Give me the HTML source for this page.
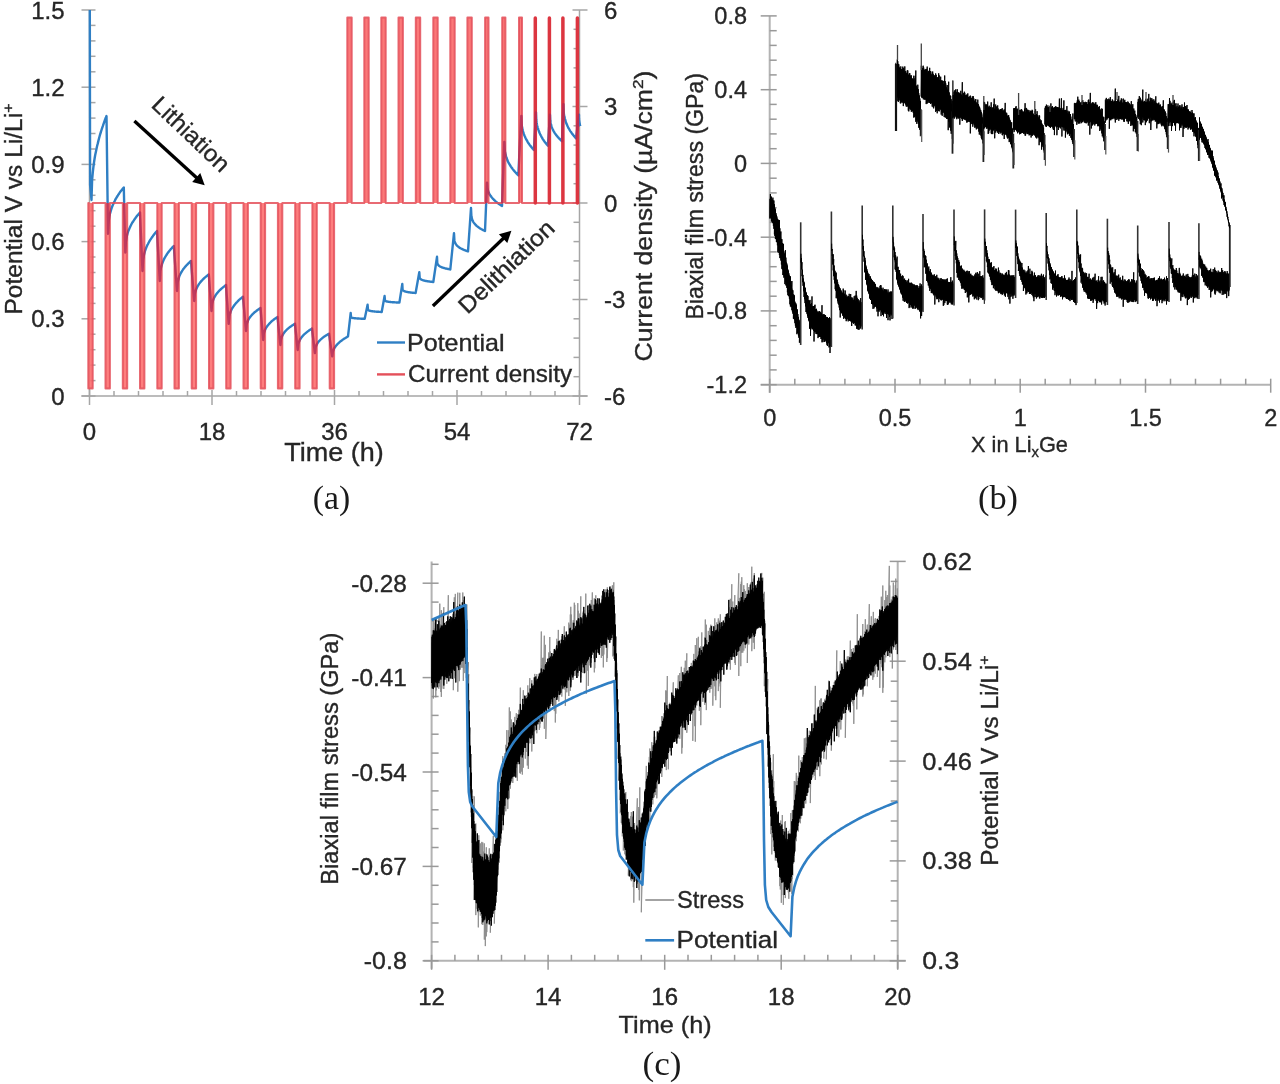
<!DOCTYPE html>
<html><head><meta charset="utf-8"><title>Figure</title><style>
html,body{margin:0;padding:0;background:#fff;width:1280px;height:1084px;overflow:hidden}
svg{display:block;filter:blur(0.45px)}
text{font-family:"Liberation Sans",sans-serif;fill:#262626;stroke:#262626;stroke-width:0.35px}
text.serif{font-family:"Liberation Serif",serif;fill:#1a1a1a;stroke:none}
</style></head><body>
<svg width="1280" height="1084" viewBox="0 0 1280 1084">
<line x1="89.5" y1="10" x2="89.5" y2="396" stroke="#a6a6a6" stroke-width="1.5"/>
<line x1="579.5" y1="10" x2="579.5" y2="396" stroke="#a6a6a6" stroke-width="1.5"/>
<line x1="81.5" y1="396" x2="587.5" y2="396" stroke="#a6a6a6" stroke-width="1.5"/>
<line x1="81.5" y1="396" x2="95.5" y2="396" stroke="#a6a6a6" stroke-width="1.5"/>
<line x1="89.5" y1="380.6" x2="95.5" y2="380.6" stroke="#a6a6a6" stroke-width="1.5"/>
<line x1="89.5" y1="365.1" x2="95.5" y2="365.1" stroke="#a6a6a6" stroke-width="1.5"/>
<line x1="89.5" y1="349.7" x2="95.5" y2="349.7" stroke="#a6a6a6" stroke-width="1.5"/>
<line x1="89.5" y1="334.2" x2="95.5" y2="334.2" stroke="#a6a6a6" stroke-width="1.5"/>
<text x="64.5" y="404.5" font-size="24" text-anchor="end">0</text>
<line x1="81.5" y1="318.8" x2="95.5" y2="318.8" stroke="#a6a6a6" stroke-width="1.5"/>
<line x1="89.5" y1="303.4" x2="95.5" y2="303.4" stroke="#a6a6a6" stroke-width="1.5"/>
<line x1="89.5" y1="287.9" x2="95.5" y2="287.9" stroke="#a6a6a6" stroke-width="1.5"/>
<line x1="89.5" y1="272.5" x2="95.5" y2="272.5" stroke="#a6a6a6" stroke-width="1.5"/>
<line x1="89.5" y1="257" x2="95.5" y2="257" stroke="#a6a6a6" stroke-width="1.5"/>
<text x="64.5" y="327.3" font-size="24" text-anchor="end">0.3</text>
<line x1="81.5" y1="241.6" x2="95.5" y2="241.6" stroke="#a6a6a6" stroke-width="1.5"/>
<line x1="89.5" y1="226.2" x2="95.5" y2="226.2" stroke="#a6a6a6" stroke-width="1.5"/>
<line x1="89.5" y1="210.7" x2="95.5" y2="210.7" stroke="#a6a6a6" stroke-width="1.5"/>
<line x1="89.5" y1="195.3" x2="95.5" y2="195.3" stroke="#a6a6a6" stroke-width="1.5"/>
<line x1="89.5" y1="179.8" x2="95.5" y2="179.8" stroke="#a6a6a6" stroke-width="1.5"/>
<text x="64.5" y="250.1" font-size="24" text-anchor="end">0.6</text>
<line x1="81.5" y1="164.4" x2="95.5" y2="164.4" stroke="#a6a6a6" stroke-width="1.5"/>
<line x1="89.5" y1="149" x2="95.5" y2="149" stroke="#a6a6a6" stroke-width="1.5"/>
<line x1="89.5" y1="133.5" x2="95.5" y2="133.5" stroke="#a6a6a6" stroke-width="1.5"/>
<line x1="89.5" y1="118.1" x2="95.5" y2="118.1" stroke="#a6a6a6" stroke-width="1.5"/>
<line x1="89.5" y1="102.6" x2="95.5" y2="102.6" stroke="#a6a6a6" stroke-width="1.5"/>
<text x="64.5" y="172.9" font-size="24" text-anchor="end">0.9</text>
<line x1="81.5" y1="87.2" x2="95.5" y2="87.2" stroke="#a6a6a6" stroke-width="1.5"/>
<line x1="89.5" y1="71.8" x2="95.5" y2="71.8" stroke="#a6a6a6" stroke-width="1.5"/>
<line x1="89.5" y1="56.3" x2="95.5" y2="56.3" stroke="#a6a6a6" stroke-width="1.5"/>
<line x1="89.5" y1="40.9" x2="95.5" y2="40.9" stroke="#a6a6a6" stroke-width="1.5"/>
<line x1="89.5" y1="25.4" x2="95.5" y2="25.4" stroke="#a6a6a6" stroke-width="1.5"/>
<text x="64.5" y="95.7" font-size="24" text-anchor="end">1.2</text>
<line x1="81.5" y1="10" x2="95.5" y2="10" stroke="#a6a6a6" stroke-width="1.5"/>
<text x="64.5" y="18.5" font-size="24" text-anchor="end">1.5</text>
<line x1="572.5" y1="10" x2="587.5" y2="10" stroke="#a6a6a6" stroke-width="1.5"/>
<line x1="573.5" y1="29.3" x2="579.5" y2="29.3" stroke="#a6a6a6" stroke-width="1.5"/>
<line x1="573.5" y1="48.6" x2="579.5" y2="48.6" stroke="#a6a6a6" stroke-width="1.5"/>
<line x1="573.5" y1="67.9" x2="579.5" y2="67.9" stroke="#a6a6a6" stroke-width="1.5"/>
<line x1="573.5" y1="87.2" x2="579.5" y2="87.2" stroke="#a6a6a6" stroke-width="1.5"/>
<text x="604" y="18.5" font-size="24">6</text>
<line x1="572.5" y1="106.5" x2="587.5" y2="106.5" stroke="#a6a6a6" stroke-width="1.5"/>
<line x1="573.5" y1="125.8" x2="579.5" y2="125.8" stroke="#a6a6a6" stroke-width="1.5"/>
<line x1="573.5" y1="145.1" x2="579.5" y2="145.1" stroke="#a6a6a6" stroke-width="1.5"/>
<line x1="573.5" y1="164.4" x2="579.5" y2="164.4" stroke="#a6a6a6" stroke-width="1.5"/>
<line x1="573.5" y1="183.7" x2="579.5" y2="183.7" stroke="#a6a6a6" stroke-width="1.5"/>
<text x="604" y="115" font-size="24">3</text>
<line x1="572.5" y1="203" x2="587.5" y2="203" stroke="#a6a6a6" stroke-width="1.5"/>
<line x1="573.5" y1="222.3" x2="579.5" y2="222.3" stroke="#a6a6a6" stroke-width="1.5"/>
<line x1="573.5" y1="241.6" x2="579.5" y2="241.6" stroke="#a6a6a6" stroke-width="1.5"/>
<line x1="573.5" y1="260.9" x2="579.5" y2="260.9" stroke="#a6a6a6" stroke-width="1.5"/>
<line x1="573.5" y1="280.2" x2="579.5" y2="280.2" stroke="#a6a6a6" stroke-width="1.5"/>
<text x="604" y="211.5" font-size="24">0</text>
<line x1="572.5" y1="299.5" x2="587.5" y2="299.5" stroke="#a6a6a6" stroke-width="1.5"/>
<line x1="573.5" y1="318.8" x2="579.5" y2="318.8" stroke="#a6a6a6" stroke-width="1.5"/>
<line x1="573.5" y1="338.1" x2="579.5" y2="338.1" stroke="#a6a6a6" stroke-width="1.5"/>
<line x1="573.5" y1="357.4" x2="579.5" y2="357.4" stroke="#a6a6a6" stroke-width="1.5"/>
<line x1="573.5" y1="376.7" x2="579.5" y2="376.7" stroke="#a6a6a6" stroke-width="1.5"/>
<text x="604" y="308" font-size="24">-3</text>
<line x1="572.5" y1="396" x2="587.5" y2="396" stroke="#a6a6a6" stroke-width="1.5"/>
<text x="604" y="404.5" font-size="24">-6</text>
<line x1="89.5" y1="390" x2="89.5" y2="405" stroke="#a6a6a6" stroke-width="1.5"/>
<line x1="114" y1="391" x2="114" y2="396" stroke="#a6a6a6" stroke-width="1.5"/>
<line x1="138.5" y1="391" x2="138.5" y2="396" stroke="#a6a6a6" stroke-width="1.5"/>
<line x1="163" y1="391" x2="163" y2="396" stroke="#a6a6a6" stroke-width="1.5"/>
<line x1="187.5" y1="391" x2="187.5" y2="396" stroke="#a6a6a6" stroke-width="1.5"/>
<text x="89.5" y="439.5" font-size="24" text-anchor="middle">0</text>
<line x1="212" y1="390" x2="212" y2="405" stroke="#a6a6a6" stroke-width="1.5"/>
<line x1="236.5" y1="391" x2="236.5" y2="396" stroke="#a6a6a6" stroke-width="1.5"/>
<line x1="261" y1="391" x2="261" y2="396" stroke="#a6a6a6" stroke-width="1.5"/>
<line x1="285.5" y1="391" x2="285.5" y2="396" stroke="#a6a6a6" stroke-width="1.5"/>
<line x1="310" y1="391" x2="310" y2="396" stroke="#a6a6a6" stroke-width="1.5"/>
<text x="212" y="439.5" font-size="24" text-anchor="middle">18</text>
<line x1="334.5" y1="390" x2="334.5" y2="405" stroke="#a6a6a6" stroke-width="1.5"/>
<line x1="359" y1="391" x2="359" y2="396" stroke="#a6a6a6" stroke-width="1.5"/>
<line x1="383.5" y1="391" x2="383.5" y2="396" stroke="#a6a6a6" stroke-width="1.5"/>
<line x1="408" y1="391" x2="408" y2="396" stroke="#a6a6a6" stroke-width="1.5"/>
<line x1="432.5" y1="391" x2="432.5" y2="396" stroke="#a6a6a6" stroke-width="1.5"/>
<text x="334.5" y="439.5" font-size="24" text-anchor="middle">36</text>
<line x1="457" y1="390" x2="457" y2="405" stroke="#a6a6a6" stroke-width="1.5"/>
<line x1="481.5" y1="391" x2="481.5" y2="396" stroke="#a6a6a6" stroke-width="1.5"/>
<line x1="506" y1="391" x2="506" y2="396" stroke="#a6a6a6" stroke-width="1.5"/>
<line x1="530.5" y1="391" x2="530.5" y2="396" stroke="#a6a6a6" stroke-width="1.5"/>
<line x1="555" y1="391" x2="555" y2="396" stroke="#a6a6a6" stroke-width="1.5"/>
<text x="457" y="439.5" font-size="24" text-anchor="middle">54</text>
<line x1="579.5" y1="390" x2="579.5" y2="405" stroke="#a6a6a6" stroke-width="1.5"/>
<text x="579.5" y="439.5" font-size="24" text-anchor="middle">72</text>
<line x1="769.7" y1="15.9" x2="769.7" y2="392.7" stroke="#b3b3b3" stroke-width="2"/>
<line x1="760.7" y1="384.7" x2="1270.7" y2="384.7" stroke="#b3b3b3" stroke-width="2"/>
<line x1="760.7" y1="15.9" x2="776.7" y2="15.9" stroke="#999" stroke-width="1.5"/>
<line x1="769.7" y1="30.7" x2="776.7" y2="30.7" stroke="#999" stroke-width="1.5"/>
<line x1="769.7" y1="45.4" x2="776.7" y2="45.4" stroke="#999" stroke-width="1.5"/>
<line x1="769.7" y1="60.2" x2="776.7" y2="60.2" stroke="#999" stroke-width="1.5"/>
<line x1="769.7" y1="74.9" x2="776.7" y2="74.9" stroke="#999" stroke-width="1.5"/>
<text x="747" y="24.2" font-size="23.5" text-anchor="end">0.8</text>
<line x1="760.7" y1="89.7" x2="776.7" y2="89.7" stroke="#999" stroke-width="1.5"/>
<line x1="769.7" y1="104.4" x2="776.7" y2="104.4" stroke="#999" stroke-width="1.5"/>
<line x1="769.7" y1="119.2" x2="776.7" y2="119.2" stroke="#999" stroke-width="1.5"/>
<line x1="769.7" y1="133.9" x2="776.7" y2="133.9" stroke="#999" stroke-width="1.5"/>
<line x1="769.7" y1="148.7" x2="776.7" y2="148.7" stroke="#999" stroke-width="1.5"/>
<text x="747" y="98" font-size="23.5" text-anchor="end">0.4</text>
<line x1="760.7" y1="163.4" x2="776.7" y2="163.4" stroke="#999" stroke-width="1.5"/>
<line x1="769.7" y1="178.2" x2="776.7" y2="178.2" stroke="#999" stroke-width="1.5"/>
<line x1="769.7" y1="192.9" x2="776.7" y2="192.9" stroke="#999" stroke-width="1.5"/>
<line x1="769.7" y1="207.7" x2="776.7" y2="207.7" stroke="#999" stroke-width="1.5"/>
<line x1="769.7" y1="222.4" x2="776.7" y2="222.4" stroke="#999" stroke-width="1.5"/>
<text x="747" y="171.7" font-size="23.5" text-anchor="end">0</text>
<line x1="760.7" y1="237.2" x2="776.7" y2="237.2" stroke="#999" stroke-width="1.5"/>
<line x1="769.7" y1="251.9" x2="776.7" y2="251.9" stroke="#999" stroke-width="1.5"/>
<line x1="769.7" y1="266.7" x2="776.7" y2="266.7" stroke="#999" stroke-width="1.5"/>
<line x1="769.7" y1="281.4" x2="776.7" y2="281.4" stroke="#999" stroke-width="1.5"/>
<line x1="769.7" y1="296.2" x2="776.7" y2="296.2" stroke="#999" stroke-width="1.5"/>
<text x="747" y="245.5" font-size="23.5" text-anchor="end">-0.4</text>
<line x1="760.7" y1="310.9" x2="776.7" y2="310.9" stroke="#999" stroke-width="1.5"/>
<line x1="769.7" y1="325.7" x2="776.7" y2="325.7" stroke="#999" stroke-width="1.5"/>
<line x1="769.7" y1="340.4" x2="776.7" y2="340.4" stroke="#999" stroke-width="1.5"/>
<line x1="769.7" y1="355.2" x2="776.7" y2="355.2" stroke="#999" stroke-width="1.5"/>
<line x1="769.7" y1="369.9" x2="776.7" y2="369.9" stroke="#999" stroke-width="1.5"/>
<text x="747" y="319.2" font-size="23.5" text-anchor="end">-0.8</text>
<line x1="760.7" y1="384.7" x2="776.7" y2="384.7" stroke="#999" stroke-width="1.5"/>
<text x="747" y="393" font-size="23.5" text-anchor="end">-1.2</text>
<line x1="769.7" y1="378.7" x2="769.7" y2="392.7" stroke="#999" stroke-width="1.5"/>
<line x1="794.8" y1="378.7" x2="794.8" y2="384.7" stroke="#999" stroke-width="1.5"/>
<line x1="819.8" y1="378.7" x2="819.8" y2="384.7" stroke="#999" stroke-width="1.5"/>
<line x1="844.9" y1="378.7" x2="844.9" y2="384.7" stroke="#999" stroke-width="1.5"/>
<line x1="869.9" y1="378.7" x2="869.9" y2="384.7" stroke="#999" stroke-width="1.5"/>
<text x="769.7" y="425.8" font-size="23.5" text-anchor="middle">0</text>
<line x1="895" y1="378.7" x2="895" y2="392.7" stroke="#999" stroke-width="1.5"/>
<line x1="920" y1="378.7" x2="920" y2="384.7" stroke="#999" stroke-width="1.5"/>
<line x1="945.1" y1="378.7" x2="945.1" y2="384.7" stroke="#999" stroke-width="1.5"/>
<line x1="970.1" y1="378.7" x2="970.1" y2="384.7" stroke="#999" stroke-width="1.5"/>
<line x1="995.2" y1="378.7" x2="995.2" y2="384.7" stroke="#999" stroke-width="1.5"/>
<text x="895" y="425.8" font-size="23.5" text-anchor="middle">0.5</text>
<line x1="1020.2" y1="378.7" x2="1020.2" y2="392.7" stroke="#999" stroke-width="1.5"/>
<line x1="1045.2" y1="378.7" x2="1045.2" y2="384.7" stroke="#999" stroke-width="1.5"/>
<line x1="1070.3" y1="378.7" x2="1070.3" y2="384.7" stroke="#999" stroke-width="1.5"/>
<line x1="1095.4" y1="378.7" x2="1095.4" y2="384.7" stroke="#999" stroke-width="1.5"/>
<line x1="1120.4" y1="378.7" x2="1120.4" y2="384.7" stroke="#999" stroke-width="1.5"/>
<text x="1020.2" y="425.8" font-size="23.5" text-anchor="middle">1</text>
<line x1="1145.5" y1="378.7" x2="1145.5" y2="392.7" stroke="#999" stroke-width="1.5"/>
<line x1="1170.5" y1="378.7" x2="1170.5" y2="384.7" stroke="#999" stroke-width="1.5"/>
<line x1="1195.5" y1="378.7" x2="1195.5" y2="384.7" stroke="#999" stroke-width="1.5"/>
<line x1="1220.6" y1="378.7" x2="1220.6" y2="384.7" stroke="#999" stroke-width="1.5"/>
<line x1="1245.7" y1="378.7" x2="1245.7" y2="384.7" stroke="#999" stroke-width="1.5"/>
<text x="1145.5" y="425.8" font-size="23.5" text-anchor="middle">1.5</text>
<line x1="1270.7" y1="378.7" x2="1270.7" y2="392.7" stroke="#999" stroke-width="1.5"/>
<text x="1270.7" y="425.8" font-size="23.5" text-anchor="middle">2</text>
<line x1="431.6" y1="561.4" x2="431.6" y2="968.8" stroke="#b3b3b3" stroke-width="2"/>
<line x1="897.7" y1="561.4" x2="897.7" y2="968.8" stroke="#b3b3b3" stroke-width="2"/>
<line x1="423.6" y1="960.8" x2="905.7" y2="960.8" stroke="#b3b3b3" stroke-width="2"/>
<line x1="422.6" y1="583.2" x2="438.6" y2="583.2" stroke="#999" stroke-width="1.5"/>
<text x="406.8" y="591.7" font-size="24" text-anchor="end" textLength="55.5" lengthAdjust="spacingAndGlyphs">-0.28</text>
<line x1="422.6" y1="677.6" x2="438.6" y2="677.6" stroke="#999" stroke-width="1.5"/>
<text x="406.8" y="686.1" font-size="24" text-anchor="end" textLength="55.5" lengthAdjust="spacingAndGlyphs">-0.41</text>
<line x1="422.6" y1="772" x2="438.6" y2="772" stroke="#999" stroke-width="1.5"/>
<text x="406.8" y="780.5" font-size="24" text-anchor="end" textLength="55.5" lengthAdjust="spacingAndGlyphs">-0.54</text>
<line x1="422.6" y1="866.4" x2="438.6" y2="866.4" stroke="#999" stroke-width="1.5"/>
<text x="406.8" y="874.9" font-size="24" text-anchor="end" textLength="55.5" lengthAdjust="spacingAndGlyphs">-0.67</text>
<line x1="422.6" y1="960.8" x2="438.6" y2="960.8" stroke="#999" stroke-width="1.5"/>
<text x="406.8" y="969.3" font-size="24" text-anchor="end" textLength="43" lengthAdjust="spacingAndGlyphs">-0.8</text>
<line x1="431.6" y1="941.9" x2="438.6" y2="941.9" stroke="#999" stroke-width="1.5"/>
<line x1="431.6" y1="923" x2="438.6" y2="923" stroke="#999" stroke-width="1.5"/>
<line x1="431.6" y1="904.2" x2="438.6" y2="904.2" stroke="#999" stroke-width="1.5"/>
<line x1="431.6" y1="885.3" x2="438.6" y2="885.3" stroke="#999" stroke-width="1.5"/>
<line x1="431.6" y1="847.5" x2="438.6" y2="847.5" stroke="#999" stroke-width="1.5"/>
<line x1="431.6" y1="828.6" x2="438.6" y2="828.6" stroke="#999" stroke-width="1.5"/>
<line x1="431.6" y1="809.8" x2="438.6" y2="809.8" stroke="#999" stroke-width="1.5"/>
<line x1="431.6" y1="790.9" x2="438.6" y2="790.9" stroke="#999" stroke-width="1.5"/>
<line x1="431.6" y1="753.1" x2="438.6" y2="753.1" stroke="#999" stroke-width="1.5"/>
<line x1="431.6" y1="734.2" x2="438.6" y2="734.2" stroke="#999" stroke-width="1.5"/>
<line x1="431.6" y1="715.4" x2="438.6" y2="715.4" stroke="#999" stroke-width="1.5"/>
<line x1="431.6" y1="696.5" x2="438.6" y2="696.5" stroke="#999" stroke-width="1.5"/>
<line x1="431.6" y1="658.7" x2="438.6" y2="658.7" stroke="#999" stroke-width="1.5"/>
<line x1="431.6" y1="639.8" x2="438.6" y2="639.8" stroke="#999" stroke-width="1.5"/>
<line x1="431.6" y1="620.9" x2="438.6" y2="620.9" stroke="#999" stroke-width="1.5"/>
<line x1="431.6" y1="602.1" x2="438.6" y2="602.1" stroke="#999" stroke-width="1.5"/>
<line x1="431.6" y1="564.3" x2="438.6" y2="564.3" stroke="#999" stroke-width="1.5"/>
<line x1="889.7" y1="561.4" x2="905.7" y2="561.4" stroke="#999" stroke-width="1.5"/>
<line x1="890.7" y1="581.4" x2="897.7" y2="581.4" stroke="#999" stroke-width="1.5"/>
<line x1="890.7" y1="601.3" x2="897.7" y2="601.3" stroke="#999" stroke-width="1.5"/>
<line x1="890.7" y1="621.3" x2="897.7" y2="621.3" stroke="#999" stroke-width="1.5"/>
<line x1="890.7" y1="641.3" x2="897.7" y2="641.3" stroke="#999" stroke-width="1.5"/>
<text x="922.3" y="569.9" font-size="24" textLength="49.5" lengthAdjust="spacingAndGlyphs">0.62</text>
<line x1="889.7" y1="661.2" x2="905.7" y2="661.2" stroke="#999" stroke-width="1.5"/>
<line x1="890.7" y1="681.2" x2="897.7" y2="681.2" stroke="#999" stroke-width="1.5"/>
<line x1="890.7" y1="701.2" x2="897.7" y2="701.2" stroke="#999" stroke-width="1.5"/>
<line x1="890.7" y1="721.2" x2="897.7" y2="721.2" stroke="#999" stroke-width="1.5"/>
<line x1="890.7" y1="741.1" x2="897.7" y2="741.1" stroke="#999" stroke-width="1.5"/>
<text x="922.3" y="669.8" font-size="24" textLength="49.5" lengthAdjust="spacingAndGlyphs">0.54</text>
<line x1="889.7" y1="761.1" x2="905.7" y2="761.1" stroke="#999" stroke-width="1.5"/>
<line x1="890.7" y1="781.1" x2="897.7" y2="781.1" stroke="#999" stroke-width="1.5"/>
<line x1="890.7" y1="801" x2="897.7" y2="801" stroke="#999" stroke-width="1.5"/>
<line x1="890.7" y1="821" x2="897.7" y2="821" stroke="#999" stroke-width="1.5"/>
<line x1="890.7" y1="841" x2="897.7" y2="841" stroke="#999" stroke-width="1.5"/>
<text x="922.3" y="769.6" font-size="24" textLength="49.5" lengthAdjust="spacingAndGlyphs">0.46</text>
<line x1="889.7" y1="860.9" x2="905.7" y2="860.9" stroke="#999" stroke-width="1.5"/>
<line x1="890.7" y1="880.9" x2="897.7" y2="880.9" stroke="#999" stroke-width="1.5"/>
<line x1="890.7" y1="900.9" x2="897.7" y2="900.9" stroke="#999" stroke-width="1.5"/>
<line x1="890.7" y1="920.9" x2="897.7" y2="920.9" stroke="#999" stroke-width="1.5"/>
<line x1="890.7" y1="940.8" x2="897.7" y2="940.8" stroke="#999" stroke-width="1.5"/>
<text x="922.3" y="869.4" font-size="24" textLength="49.5" lengthAdjust="spacingAndGlyphs">0.38</text>
<line x1="889.7" y1="960.8" x2="905.7" y2="960.8" stroke="#999" stroke-width="1.5"/>
<text x="922.3" y="969.3" font-size="24" textLength="37" lengthAdjust="spacingAndGlyphs">0.3</text>
<line x1="431.6" y1="954.8" x2="431.6" y2="969.8" stroke="#999" stroke-width="1.5"/>
<line x1="454.9" y1="954.8" x2="454.9" y2="960.8" stroke="#999" stroke-width="1.5"/>
<line x1="478.2" y1="954.8" x2="478.2" y2="960.8" stroke="#999" stroke-width="1.5"/>
<line x1="501.5" y1="954.8" x2="501.5" y2="960.8" stroke="#999" stroke-width="1.5"/>
<line x1="524.8" y1="954.8" x2="524.8" y2="960.8" stroke="#999" stroke-width="1.5"/>
<text x="431.6" y="1004.5" font-size="24" text-anchor="middle">12</text>
<line x1="548.1" y1="954.8" x2="548.1" y2="969.8" stroke="#999" stroke-width="1.5"/>
<line x1="571.4" y1="954.8" x2="571.4" y2="960.8" stroke="#999" stroke-width="1.5"/>
<line x1="594.7" y1="954.8" x2="594.7" y2="960.8" stroke="#999" stroke-width="1.5"/>
<line x1="618" y1="954.8" x2="618" y2="960.8" stroke="#999" stroke-width="1.5"/>
<line x1="641.3" y1="954.8" x2="641.3" y2="960.8" stroke="#999" stroke-width="1.5"/>
<text x="548.1" y="1004.5" font-size="24" text-anchor="middle">14</text>
<line x1="664.7" y1="954.8" x2="664.7" y2="969.8" stroke="#999" stroke-width="1.5"/>
<line x1="688" y1="954.8" x2="688" y2="960.8" stroke="#999" stroke-width="1.5"/>
<line x1="711.3" y1="954.8" x2="711.3" y2="960.8" stroke="#999" stroke-width="1.5"/>
<line x1="734.6" y1="954.8" x2="734.6" y2="960.8" stroke="#999" stroke-width="1.5"/>
<line x1="757.9" y1="954.8" x2="757.9" y2="960.8" stroke="#999" stroke-width="1.5"/>
<text x="664.7" y="1004.5" font-size="24" text-anchor="middle">16</text>
<line x1="781.2" y1="954.8" x2="781.2" y2="969.8" stroke="#999" stroke-width="1.5"/>
<line x1="804.5" y1="954.8" x2="804.5" y2="960.8" stroke="#999" stroke-width="1.5"/>
<line x1="827.8" y1="954.8" x2="827.8" y2="960.8" stroke="#999" stroke-width="1.5"/>
<line x1="851.1" y1="954.8" x2="851.1" y2="960.8" stroke="#999" stroke-width="1.5"/>
<line x1="874.4" y1="954.8" x2="874.4" y2="960.8" stroke="#999" stroke-width="1.5"/>
<text x="781.2" y="1004.5" font-size="24" text-anchor="middle">18</text>
<line x1="897.7" y1="954.8" x2="897.7" y2="969.8" stroke="#999" stroke-width="1.5"/>
<text x="897.7" y="1004.5" font-size="24" text-anchor="middle">20</text>
<polyline points="89.8,10 90.1,185 91.5,200 92.1,179.9 92.8,172.5 93.4,167 94,162.5 94.6,158.5 95.2,155 95.9,151.8 96.5,148.8 97.1,146 97.8,143.4 98.4,140.9 99,138.5 99.6,136.3 100.2,134.1 100.9,132 101.5,130 102.1,128.1 102.8,126.2 103.4,124.4 104,122.6 104.6,120.9 105.2,119.2 105.9,117.6 106.5,116 108,233.8 108.7,220.8 109.3,216.6 110,213.6 110.7,211.2 111.3,209.1 112,207.2 112.6,205.5 113.3,203.9 113.9,202.5 114.6,201.2 115.2,199.9 115.9,198.7 116.5,197.6 117.2,196.5 117.9,195.4 118.5,194.4 119.2,193.5 119.8,192.5 120.5,191.6 121.1,190.8 121.8,189.9 122.4,189.1 123.1,188.3 123.8,187.5 125.3,252.5 125.9,241.3 126.5,237.7 127.1,235.1 127.7,233 128.3,231.1 129,229.5 129.6,228.1 130.2,226.7 130.8,225.5 131.4,224.3 132,223.2 132.6,222.2 133.3,221.2 133.9,220.3 134.5,219.4 135.1,218.5 135.7,217.7 136.3,216.8 136.9,216.1 137.5,215.3 138.2,214.6 138.8,213.9 139.4,213.2 140,212.5 142.5,271 143.1,259.8 143.7,256.2 144.3,253.6 144.9,251.5 145.5,249.6 146.1,248 146.7,246.6 147.3,245.2 148,244 148.6,242.8 149.2,241.7 149.8,240.7 150.4,239.7 151,238.8 151.6,237.9 152.2,237 152.8,236.2 153.4,235.3 154,234.6 154.6,233.8 155.2,233.1 155.8,232.4 156.4,231.7 157,231 159.8,281 160.3,271.2 160.9,268 161.5,265.8 162.1,263.9 162.7,262.3 163.3,260.9 163.8,259.6 164.4,258.4 165,257.4 165.6,256.3 166.2,255.4 166.8,254.5 167.3,253.6 167.9,252.8 168.5,252 169.1,251.2 169.7,250.5 170.3,249.8 170.8,249.1 171.4,248.5 172,247.8 172.6,247.2 173.2,246.6 173.8,246 177,291 177.6,282.6 178.2,279.9 178.8,277.9 179.3,276.3 179.9,275 180.5,273.8 181.1,272.7 181.7,271.7 182.2,270.7 182.8,269.9 183.4,269 184,268.3 184.6,267.5 185.2,266.8 185.8,266.1 186.3,265.5 186.9,264.9 187.5,264.3 188.1,263.7 188.7,263.1 189.2,262.6 189.8,262 190.4,261.5 191,261 194.2,301 194.8,293.6 195.4,291.2 196.1,289.5 196.7,288.1 197.3,286.9 197.9,285.8 198.5,284.8 199.1,283.9 199.7,283.1 200.3,282.3 200.9,281.6 201.5,280.9 202.1,280.3 202.7,279.6 203.3,279 203.9,278.5 204.5,277.9 205.1,277.4 205.7,276.9 206.3,276.4 206.9,275.9 207.5,275.4 208.1,274.9 208.8,274.5 211.5,311 212.1,303.7 212.7,301.4 213.3,299.7 213.9,298.3 214.5,297.1 215.1,296.1 215.7,295.1 216.3,294.2 216.9,293.4 217.5,292.7 218.1,292 218.7,291.3 219.3,290.7 220,290 220.6,289.5 221.2,288.9 221.8,288.3 222.4,287.8 223,287.3 223.6,286.8 224.2,286.4 224.8,285.9 225.4,285.4 226,285 228.7,323.8 229.3,316.2 229.9,313.8 230.5,312 231.1,310.6 231.7,309.3 232.3,308.2 232.9,307.3 233.5,306.4 234.1,305.5 234.7,304.7 235.3,304 235.9,303.3 236.5,302.6 237.1,302 237.6,301.4 238.2,300.8 238.8,300.2 239.4,299.7 240,299.2 240.6,298.6 241.2,298.2 241.8,297.7 242.4,297.2 243,296.8 246,331 246.6,324.5 247.2,322.5 247.8,321 248.4,319.8 249,318.7 249.6,317.8 250.2,316.9 250.8,316.2 251.4,315.5 252,314.8 252.6,314.2 253.2,313.6 253.8,313 254.4,312.5 255,311.9 255.7,311.4 256.3,311 256.9,310.5 257.5,310.1 258.1,309.6 258.7,309.2 259.3,308.8 259.9,308.4 260.5,308 263.2,340 263.8,333.5 264.4,331.5 265,330 265.6,328.8 266.2,327.7 266.8,326.8 267.4,325.9 268,325.2 268.6,324.5 269.2,323.8 269.8,323.2 270.4,322.6 270.9,322 271.5,321.5 272.1,320.9 272.7,320.4 273.3,320 273.9,319.5 274.5,319.1 275.1,318.6 275.7,318.2 276.3,317.8 276.9,317.4 277.5,317 280.4,345 281,339 281.7,337.1 282.3,335.8 282.9,334.6 283.5,333.7 284.1,332.8 284.7,332 285.3,331.3 285.9,330.6 286.5,330 287.1,329.4 287.7,328.9 288.3,328.4 288.9,327.9 289.5,327.4 290.1,326.9 290.8,326.5 291.4,326.1 292,325.6 292.6,325.2 293.2,324.9 293.8,324.5 294.4,324.1 295,323.8 297.7,350 298.3,344 298.9,342.1 299.5,340.7 300.1,339.5 300.7,338.6 301.3,337.7 301.9,336.9 302.5,336.2 303.1,335.5 303.6,334.9 304.2,334.3 304.8,333.8 305.4,333.3 306,332.8 306.6,332.3 307.2,331.8 307.8,331.4 308.4,330.9 309,330.5 309.6,330.1 310.2,329.7 310.8,329.3 311.4,329 312,328.6 314.9,353 315.5,347.6 316.1,345.9 316.7,344.6 317.3,343.6 317.9,342.7 318.4,341.9 319,341.2 319.6,340.6 320.2,340 320.8,339.4 321.4,338.9 322,338.4 322.5,337.9 323.1,337.4 323.7,337 324.3,336.6 324.9,336.2 325.5,335.8 326.1,335.4 326.7,335.1 327.2,334.7 327.8,334.4 328.4,334 329,333.7 332.2,356.3 332.8,351.5 333.5,349.8 334.1,348.5 334.8,347.4 335.5,346.5 336.1,345.6 336.8,344.9 337.4,344.2 338.1,343.5 338.8,342.9 339.4,342.3 340.1,341.7 340.7,341.2 341.4,340.7 342.1,340.2 342.7,339.7 343.4,339.3 344,338.8 344.7,338.4 345.4,338 346,337.6 346.7,337.2 347.3,336.8 348,336.4 350.7,313 351.1,317.3 351.4,317.6 351.8,317.7 352.1,317.8 352.4,317.9 352.8,318 353.1,318 353.5,318.1 353.8,318.1 354.2,318.2 354.6,318.2 354.9,318.3 355.2,318.3 355.6,318.3 355.9,318.4 356.3,318.4 356.6,318.4 357,318.4 357.3,318.5 357.7,318.5 358.1,318.5 358.4,318.5 358.8,318.5 359.1,318.6 359.4,318.6 359.8,318.6 360.1,318.6 360.5,318.6 360.8,318.7 361.2,318.7 361.6,318.7 361.9,318.7 362.2,318.7 362.6,318.7 362.9,318.7 363.3,318.8 363.6,318.8 364,318.8 364.3,318.8 364.7,318.8 367.6,304.8 368,309.8 368.3,310.1 368.7,310.4 369,310.5 369.4,310.6 369.7,310.8 370.1,310.8 370.4,310.9 370.8,311 371.1,311.1 371.5,311.1 371.8,311.2 372.2,311.2 372.5,311.3 372.9,311.3 373.2,311.4 373.6,311.4 373.9,311.4 374.3,311.5 374.6,311.5 375,311.6 375.4,311.6 375.7,311.6 376.1,311.6 376.4,311.7 376.8,311.7 377.1,311.7 377.5,311.7 377.8,311.8 378.2,311.8 378.5,311.8 378.9,311.8 379.2,311.9 379.6,311.9 379.9,311.9 380.3,311.9 380.6,311.9 381,312 381.3,312 381.7,312 384.6,296 385,300.6 385.3,300.9 385.7,301.1 386.1,301.2 386.5,301.4 386.8,301.5 387.2,301.5 387.6,301.6 387.9,301.7 388.3,301.7 388.7,301.8 389,301.9 389.4,301.9 389.8,301.9 390.1,302 390.5,302 390.9,302.1 391.3,302.1 391.6,302.1 392,302.2 392.4,302.2 392.7,302.2 393.1,302.2 393.5,302.3 393.9,302.3 394.2,302.3 394.6,302.3 395,302.4 395.3,302.4 395.7,302.4 396.1,302.4 396.4,302.5 396.8,302.5 397.2,302.5 397.5,302.5 397.9,302.5 398.3,302.5 398.7,302.6 399,302.6 399.4,302.6 402.3,284 402.6,289.8 403,290.3 403.3,290.6 403.6,290.8 404,291 404.3,291.2 404.6,291.3 405,291.4 405.3,291.5 405.6,291.6 406,291.7 406.3,291.8 406.6,291.9 407,291.9 407.3,292 407.6,292.1 408,292.1 408.3,292.2 408.6,292.2 409,292.3 409.3,292.3 409.6,292.4 409.9,292.4 410.3,292.5 410.6,292.5 410.9,292.5 411.3,292.6 411.6,292.6 411.9,292.7 412.3,292.7 412.6,292.7 412.9,292.8 413.3,292.8 413.6,292.8 413.9,292.9 414.3,292.9 414.6,292.9 414.9,292.9 415.3,293 415.6,293 419.3,272.3 419.7,277.9 420,278.5 420.4,278.9 420.7,279.2 421.1,279.4 421.4,279.6 421.8,279.8 422.1,279.9 422.4,280.1 422.8,280.2 423.2,280.3 423.5,280.4 423.9,280.5 424.2,280.6 424.6,280.7 424.9,280.8 425.2,280.8 425.6,280.9 425.9,281 426.3,281 426.7,281.1 427,281.2 427.4,281.2 427.7,281.3 428.1,281.3 428.4,281.4 428.8,281.4 429.1,281.5 429.4,281.5 429.8,281.6 430.2,281.6 430.5,281.7 430.9,281.7 431.2,281.8 431.6,281.8 431.9,281.8 432.2,281.9 432.6,281.9 432.9,282 433.3,282 437,256.8 437.3,263.3 437.7,264.1 438,264.7 438.3,265.1 438.7,265.5 439,265.8 439.3,266 439.7,266.2 440,266.4 440.3,266.6 440.7,266.8 441,266.9 441.3,267.1 441.7,267.2 442,267.4 442.3,267.5 442.7,267.6 443,267.7 443.3,267.8 443.6,267.9 444,268 444.3,268.1 444.6,268.2 445,268.3 445.3,268.4 445.6,268.5 446,268.5 446.3,268.6 446.6,268.7 447,268.8 447.3,268.8 447.6,268.9 448,269 448.3,269 448.6,269.1 449,269.2 449.3,269.2 449.6,269.3 450,269.3 450.3,269.4 454,233.2 454.4,240.4 454.7,241.8 455.1,242.7 455.4,243.4 455.8,244 456.1,244.5 456.4,245 456.8,245.4 457.1,245.7 457.5,246.1 457.9,246.4 458.2,246.7 458.6,246.9 458.9,247.2 459.2,247.4 459.6,247.7 459.9,247.9 460.3,248.1 460.6,248.3 461,248.5 461.4,248.7 461.7,248.9 462.1,249 462.4,249.2 462.8,249.4 463.1,249.5 463.4,249.7 463.8,249.8 464.1,250 464.5,250.1 464.9,250.3 465.2,250.4 465.6,250.5 465.9,250.7 466.2,250.8 466.6,250.9 466.9,251 467.3,251.2 467.6,251.3 468,251.4 471,208 471.4,216.2 471.7,217.9 472.1,219.1 472.4,220.1 472.8,220.8 473.1,221.5 473.4,222.1 473.8,222.7 474.1,223.1 474.5,223.6 474.9,224 475.2,224.4 475.6,224.8 475.9,225.1 476.2,225.5 476.6,225.8 476.9,226.1 477.3,226.4 477.6,226.7 478,226.9 478.4,227.2 478.7,227.5 479.1,227.7 479.4,227.9 479.8,228.2 480.1,228.4 480.4,228.6 480.8,228.8 481.1,229 481.5,229.2 481.9,229.4 482.2,229.6 482.6,229.8 482.9,230 483.2,230.2 483.6,230.3 483.9,230.5 484.3,230.7 484.6,230.8 485,231 487,182.6 487.4,188 487.8,189.7 488.1,190.9 488.5,191.9 488.9,192.8 489.2,193.6 489.6,194.3 490,194.9 490.4,195.5 490.8,196 491.1,196.6 491.5,197.1 491.9,197.5 492.2,198 492.6,198.4 493,198.8 493.4,199.2 493.8,199.6 494.1,200 494.5,200.3 494.9,200.7 495.2,201 495.6,201.4 496,201.7 496.4,202 496.8,202.3 497.1,202.6 497.5,202.9 497.9,203.2 498.2,203.5 498.6,203.7 499,204 499.4,204.3 499.8,204.5 500.1,204.8 500.5,205 500.9,205.3 501.2,205.5 501.6,205.8 502,206 504.3,142 504.7,149.6 505,152 505.4,153.8 505.7,155.2 506.1,156.5 506.4,157.5 506.8,158.5 507.1,159.4 507.4,160.3 507.8,161.1 508.1,161.8 508.5,162.5 508.8,163.2 509.2,163.8 509.6,164.4 509.9,165 510.2,165.6 510.6,166.1 510.9,166.6 511.3,167.2 511.6,167.7 512,168.1 512.4,168.6 512.7,169.1 513,169.5 513.4,169.9 513.8,170.4 514.1,170.8 514.4,171.2 514.8,171.6 515.1,172 515.5,172.4 515.8,172.7 516.2,173.1 516.5,173.5 516.9,173.8 517.2,174.2 517.6,174.5 517.9,174.9 518.3,175.2 521.3,116 521.6,123.8 521.9,126.3 522.2,128.1 522.6,129.5 522.9,130.8 523.2,131.9 523.5,132.9 523.8,133.9 524.1,134.7 524.4,135.5 524.8,136.3 525.1,137 525.4,137.7 525.7,138.3 526,139 526.3,139.6 526.7,140.1 527,140.7 527.3,141.2 527.6,141.8 527.9,142.3 528.2,142.8 528.5,143.2 528.9,143.7 529.2,144.2 529.5,144.6 529.8,145.1 530.1,145.5 530.4,145.9 530.8,146.3 531.1,146.7 531.4,147.1 531.7,147.5 532,147.9 532.3,148.2 532.6,148.6 533,149 533.3,149.3 533.6,149.7 533.9,150 536,112.4 536.3,120 536.6,122.4 536.9,124.2 537.2,125.7 537.5,126.9 537.8,128 538.1,129 538.4,129.9 538.7,130.7 539,131.5 539.3,132.3 539.6,133 539.9,133.6 540.2,134.3 540.5,134.9 540.8,135.5 541.1,136 541.4,136.6 541.7,137.1 542,137.6 542.2,138.1 542.5,138.6 542.8,139.1 543.1,139.5 543.4,140 543.7,140.4 544,140.9 544.3,141.3 544.6,141.7 544.9,142.1 545.2,142.5 545.5,142.9 545.8,143.2 546.1,143.6 546.4,144 546.7,144.3 547,144.7 547.3,145 547.6,145.4 547.9,145.7 550,114.7 550.3,120.8 550.6,122.7 550.9,124.1 551.2,125.2 551.5,126.2 551.8,127.1 552.1,127.9 552.4,128.6 552.7,129.3 553,129.9 553.3,130.5 553.6,131.1 553.9,131.6 554.2,132.1 554.5,132.6 554.8,133.1 555.1,133.5 555.4,134 555.7,134.4 556,134.8 556.3,135.2 556.6,135.6 556.9,135.9 557.2,136.3 557.5,136.7 557.8,137 558.1,137.3 558.4,137.7 558.7,138 559,138.3 559.3,138.6 559.6,138.9 559.9,139.2 560.2,139.5 560.5,139.8 560.8,140.1 561.1,140.4 561.4,140.7 561.7,140.9 562,141.2 563.4,104.3 563.7,112.1 564,114.6 564.3,116.4 564.7,117.8 565,119.1 565.3,120.2 565.6,121.2 565.9,122.2 566.2,123 566.5,123.8 566.9,124.6 567.2,125.3 567.5,126 567.8,126.6 568.1,127.3 568.4,127.9 568.8,128.4 569.1,129 569.4,129.5 569.7,130.1 570,130.6 570.3,131.1 570.6,131.5 571,132 571.3,132.5 571.6,132.9 571.9,133.4 572.2,133.8 572.5,134.2 572.9,134.6 573.2,135 573.5,135.4 573.8,135.8 574.1,136.2 574.4,136.5 574.7,136.9 575.1,137.3 575.4,137.6 575.7,138 576,138.3 579,114.7 579,117.3 579.1,118.1 579.1,118.7 579.1,119.2 579.1,119.6 579.2,120 579.2,120.3 579.2,120.6 579.3,120.9 579.3,121.2 579.3,121.4 579.4,121.7 579.4,121.9 579.4,122.1 579.5,122.3 579.5,122.5 579.5,122.7 579.5,122.9 579.6,123.1 579.6,123.3 579.6,123.4 579.7,123.6 579.7,123.8 579.7,123.9 579.8,124.1 579.8,124.2 579.8,124.4 579.8,124.5 579.9,124.6 579.9,124.8 579.9,124.9 580,125 580,125.2 580,125.3 580.1,125.4 580.1,125.5 580.1,125.7 580.1,125.8 580.2,125.9 580.2,126" fill="none" stroke="#2f7fc4" stroke-width="2.4" stroke-linejoin="round"/>
<rect x="88.3" y="203" width="4.4" height="185.5" fill="#fd7070" opacity="0.9"/>
<rect x="105.5" y="203" width="4.4" height="185.5" fill="#fd7070" opacity="0.9"/>
<rect x="122.8" y="203" width="4.4" height="185.5" fill="#fd7070" opacity="0.9"/>
<rect x="140" y="203" width="4.4" height="185.5" fill="#fd7070" opacity="0.9"/>
<rect x="157.3" y="203" width="4.4" height="185.5" fill="#fd7070" opacity="0.9"/>
<rect x="174.5" y="203" width="4.4" height="185.5" fill="#fd7070" opacity="0.9"/>
<rect x="191.7" y="203" width="4.4" height="185.5" fill="#fd7070" opacity="0.9"/>
<rect x="209" y="203" width="4.4" height="185.5" fill="#fd7070" opacity="0.9"/>
<rect x="226.2" y="203" width="4.4" height="185.5" fill="#fd7070" opacity="0.9"/>
<rect x="243.5" y="203" width="4.4" height="185.5" fill="#fd7070" opacity="0.9"/>
<rect x="260.7" y="203" width="4.4" height="185.5" fill="#fd7070" opacity="0.9"/>
<rect x="277.9" y="203" width="4.4" height="185.5" fill="#fd7070" opacity="0.9"/>
<rect x="295.2" y="203" width="4.4" height="185.5" fill="#fd7070" opacity="0.9"/>
<rect x="312.4" y="203" width="4.4" height="185.5" fill="#fd7070" opacity="0.9"/>
<rect x="329.7" y="203" width="4.4" height="185.5" fill="#fd7070" opacity="0.9"/>
<rect x="347.3" y="17.5" width="4.4" height="185.5" fill="#fb6a6a" opacity="0.9"/>
<rect x="364.3" y="17.5" width="4.4" height="185.5" fill="#fb6a6a" opacity="0.9"/>
<rect x="381.3" y="17.5" width="4.4" height="185.5" fill="#fb6a6a" opacity="0.9"/>
<rect x="398.5" y="17.5" width="4.4" height="185.5" fill="#fb6a6a" opacity="0.9"/>
<rect x="415.8" y="17.5" width="4.4" height="185.5" fill="#fb6a6a" opacity="0.9"/>
<rect x="433.3" y="17.5" width="4.4" height="185.5" fill="#fb6a6a" opacity="0.9"/>
<rect x="450.3" y="17.5" width="4.4" height="185.5" fill="#fb6a6a" opacity="0.9"/>
<rect x="467.4" y="17.5" width="4.4" height="185.5" fill="#fb6a6a" opacity="0.9"/>
<rect x="485.1" y="17.5" width="3.4" height="185.5" fill="#fb6a6a" opacity="0.9"/>
<rect x="502.2" y="17.5" width="3.2" height="185.5" fill="#fb6a6a" opacity="0.9"/>
<rect x="519" y="17.5" width="3" height="185.5" fill="#fb6a6a" opacity="0.9"/>
<polyline points="89.5,203 88.3,203 88.3,388.5 92.7,388.5 92.7,203 105.5,203 105.5,388.5 109.9,388.5 109.9,203 122.8,203 122.8,388.5 127.2,388.5 127.2,203 140,203 140,388.5 144.4,388.5 144.4,203 157.3,203 157.3,388.5 161.7,388.5 161.7,203 174.5,203 174.5,388.5 178.9,388.5 178.9,203 191.7,203 191.7,388.5 196.1,388.5 196.1,203 209,203 209,388.5 213.4,388.5 213.4,203 226.2,203 226.2,388.5 230.6,388.5 230.6,203 243.5,203 243.5,388.5 247.9,388.5 247.9,203 260.7,203 260.7,388.5 265.1,388.5 265.1,203 277.9,203 277.9,388.5 282.3,388.5 282.3,203 295.2,203 295.2,388.5 299.6,388.5 299.6,203 312.4,203 312.4,388.5 316.8,388.5 316.8,203 329.7,203 329.7,388.5 334.1,388.5 334.1,203 347.3,203 347.3,17.5 351.7,17.5 351.7,203 364.3,203 364.3,17.5 368.7,17.5 368.7,203 381.3,203 381.3,17.5 385.7,17.5 385.7,203 398.5,203 398.5,17.5 402.9,17.5 402.9,203 415.8,203 415.8,17.5 420.2,17.5 420.2,203 433.3,203 433.3,17.5 437.7,17.5 437.7,203 450.3,203 450.3,17.5 454.7,17.5 454.7,203 467.4,203 467.4,17.5 471.8,17.5 471.8,203 485.1,203 485.1,17.5 488.5,17.5 488.5,203 502.2,203 502.2,17.5 505.4,17.5 505.4,203 519,203 519,17.5 522,17.5 522,203 535.3,203 535.3,18.5 535.3,203 549.4,203 549.4,18.5 549.4,203 562.9,203 562.9,18.5 562.9,203 577.4,203 577.4,18.5 577.4,203 579.5,203" fill="none" stroke="#e4505a" stroke-opacity="0.85" stroke-width="2" stroke-linejoin="round"/>
<line x1="535.3" y1="203" x2="535.3" y2="18" stroke="#dc3540" stroke-width="3.5" stroke-linecap="round"/>
<line x1="549.4" y1="203" x2="549.4" y2="18" stroke="#dc3540" stroke-width="3.5" stroke-linecap="round"/>
<line x1="562.9" y1="203" x2="562.9" y2="18" stroke="#dc3540" stroke-width="3.5" stroke-linecap="round"/>
<line x1="577.4" y1="203" x2="577.4" y2="18" stroke="#dc3540" stroke-width="3.5" stroke-linecap="round"/>
<clipPath id="barclip"><rect x="87.3" y="203" width="6.4" height="185.5"/><rect x="104.5" y="203" width="6.4" height="185.5"/><rect x="121.8" y="203" width="6.4" height="185.5"/><rect x="139" y="203" width="6.4" height="185.5"/><rect x="156.3" y="203" width="6.4" height="185.5"/><rect x="173.5" y="203" width="6.4" height="185.5"/><rect x="190.7" y="203" width="6.4" height="185.5"/><rect x="208" y="203" width="6.4" height="185.5"/><rect x="225.2" y="203" width="6.4" height="185.5"/><rect x="242.5" y="203" width="6.4" height="185.5"/><rect x="259.7" y="203" width="6.4" height="185.5"/><rect x="276.9" y="203" width="6.4" height="185.5"/><rect x="294.2" y="203" width="6.4" height="185.5"/><rect x="311.4" y="203" width="6.4" height="185.5"/><rect x="328.7" y="203" width="6.4" height="185.5"/><rect x="346.3" y="17.5" width="6.4" height="185.5"/><rect x="363.3" y="17.5" width="6.4" height="185.5"/><rect x="380.3" y="17.5" width="6.4" height="185.5"/><rect x="397.5" y="17.5" width="6.4" height="185.5"/><rect x="414.8" y="17.5" width="6.4" height="185.5"/><rect x="432.3" y="17.5" width="6.4" height="185.5"/><rect x="449.3" y="17.5" width="6.4" height="185.5"/><rect x="466.4" y="17.5" width="6.4" height="185.5"/><rect x="484.1" y="17.5" width="5.4" height="185.5"/><rect x="501.2" y="17.5" width="5.2" height="185.5"/><rect x="518" y="17.5" width="5" height="185.5"/><rect x="533.7" y="17.5" width="3.2" height="185.5"/><rect x="547.8" y="17.5" width="3.2" height="185.5"/><rect x="561.3" y="17.5" width="3.2" height="185.5"/><rect x="575.8" y="17.5" width="3.2" height="185.5"/></clipPath>
<polyline clip-path="url(#barclip)" points="89.8,10 90.1,185 91.5,200 92.1,179.9 92.8,172.5 93.4,167 94,162.5 94.6,158.5 95.2,155 95.9,151.8 96.5,148.8 97.1,146 97.8,143.4 98.4,140.9 99,138.5 99.6,136.3 100.2,134.1 100.9,132 101.5,130 102.1,128.1 102.8,126.2 103.4,124.4 104,122.6 104.6,120.9 105.2,119.2 105.9,117.6 106.5,116 108,233.8 108.7,220.8 109.3,216.6 110,213.6 110.7,211.2 111.3,209.1 112,207.2 112.6,205.5 113.3,203.9 113.9,202.5 114.6,201.2 115.2,199.9 115.9,198.7 116.5,197.6 117.2,196.5 117.9,195.4 118.5,194.4 119.2,193.5 119.8,192.5 120.5,191.6 121.1,190.8 121.8,189.9 122.4,189.1 123.1,188.3 123.8,187.5 125.3,252.5 125.9,241.3 126.5,237.7 127.1,235.1 127.7,233 128.3,231.1 129,229.5 129.6,228.1 130.2,226.7 130.8,225.5 131.4,224.3 132,223.2 132.6,222.2 133.3,221.2 133.9,220.3 134.5,219.4 135.1,218.5 135.7,217.7 136.3,216.8 136.9,216.1 137.5,215.3 138.2,214.6 138.8,213.9 139.4,213.2 140,212.5 142.5,271 143.1,259.8 143.7,256.2 144.3,253.6 144.9,251.5 145.5,249.6 146.1,248 146.7,246.6 147.3,245.2 148,244 148.6,242.8 149.2,241.7 149.8,240.7 150.4,239.7 151,238.8 151.6,237.9 152.2,237 152.8,236.2 153.4,235.3 154,234.6 154.6,233.8 155.2,233.1 155.8,232.4 156.4,231.7 157,231 159.8,281 160.3,271.2 160.9,268 161.5,265.8 162.1,263.9 162.7,262.3 163.3,260.9 163.8,259.6 164.4,258.4 165,257.4 165.6,256.3 166.2,255.4 166.8,254.5 167.3,253.6 167.9,252.8 168.5,252 169.1,251.2 169.7,250.5 170.3,249.8 170.8,249.1 171.4,248.5 172,247.8 172.6,247.2 173.2,246.6 173.8,246 177,291 177.6,282.6 178.2,279.9 178.8,277.9 179.3,276.3 179.9,275 180.5,273.8 181.1,272.7 181.7,271.7 182.2,270.7 182.8,269.9 183.4,269 184,268.3 184.6,267.5 185.2,266.8 185.8,266.1 186.3,265.5 186.9,264.9 187.5,264.3 188.1,263.7 188.7,263.1 189.2,262.6 189.8,262 190.4,261.5 191,261 194.2,301 194.8,293.6 195.4,291.2 196.1,289.5 196.7,288.1 197.3,286.9 197.9,285.8 198.5,284.8 199.1,283.9 199.7,283.1 200.3,282.3 200.9,281.6 201.5,280.9 202.1,280.3 202.7,279.6 203.3,279 203.9,278.5 204.5,277.9 205.1,277.4 205.7,276.9 206.3,276.4 206.9,275.9 207.5,275.4 208.1,274.9 208.8,274.5 211.5,311 212.1,303.7 212.7,301.4 213.3,299.7 213.9,298.3 214.5,297.1 215.1,296.1 215.7,295.1 216.3,294.2 216.9,293.4 217.5,292.7 218.1,292 218.7,291.3 219.3,290.7 220,290 220.6,289.5 221.2,288.9 221.8,288.3 222.4,287.8 223,287.3 223.6,286.8 224.2,286.4 224.8,285.9 225.4,285.4 226,285 228.7,323.8 229.3,316.2 229.9,313.8 230.5,312 231.1,310.6 231.7,309.3 232.3,308.2 232.9,307.3 233.5,306.4 234.1,305.5 234.7,304.7 235.3,304 235.9,303.3 236.5,302.6 237.1,302 237.6,301.4 238.2,300.8 238.8,300.2 239.4,299.7 240,299.2 240.6,298.6 241.2,298.2 241.8,297.7 242.4,297.2 243,296.8 246,331 246.6,324.5 247.2,322.5 247.8,321 248.4,319.8 249,318.7 249.6,317.8 250.2,316.9 250.8,316.2 251.4,315.5 252,314.8 252.6,314.2 253.2,313.6 253.8,313 254.4,312.5 255,311.9 255.7,311.4 256.3,311 256.9,310.5 257.5,310.1 258.1,309.6 258.7,309.2 259.3,308.8 259.9,308.4 260.5,308 263.2,340 263.8,333.5 264.4,331.5 265,330 265.6,328.8 266.2,327.7 266.8,326.8 267.4,325.9 268,325.2 268.6,324.5 269.2,323.8 269.8,323.2 270.4,322.6 270.9,322 271.5,321.5 272.1,320.9 272.7,320.4 273.3,320 273.9,319.5 274.5,319.1 275.1,318.6 275.7,318.2 276.3,317.8 276.9,317.4 277.5,317 280.4,345 281,339 281.7,337.1 282.3,335.8 282.9,334.6 283.5,333.7 284.1,332.8 284.7,332 285.3,331.3 285.9,330.6 286.5,330 287.1,329.4 287.7,328.9 288.3,328.4 288.9,327.9 289.5,327.4 290.1,326.9 290.8,326.5 291.4,326.1 292,325.6 292.6,325.2 293.2,324.9 293.8,324.5 294.4,324.1 295,323.8 297.7,350 298.3,344 298.9,342.1 299.5,340.7 300.1,339.5 300.7,338.6 301.3,337.7 301.9,336.9 302.5,336.2 303.1,335.5 303.6,334.9 304.2,334.3 304.8,333.8 305.4,333.3 306,332.8 306.6,332.3 307.2,331.8 307.8,331.4 308.4,330.9 309,330.5 309.6,330.1 310.2,329.7 310.8,329.3 311.4,329 312,328.6 314.9,353 315.5,347.6 316.1,345.9 316.7,344.6 317.3,343.6 317.9,342.7 318.4,341.9 319,341.2 319.6,340.6 320.2,340 320.8,339.4 321.4,338.9 322,338.4 322.5,337.9 323.1,337.4 323.7,337 324.3,336.6 324.9,336.2 325.5,335.8 326.1,335.4 326.7,335.1 327.2,334.7 327.8,334.4 328.4,334 329,333.7 332.2,356.3 332.8,351.5 333.5,349.8 334.1,348.5 334.8,347.4 335.5,346.5 336.1,345.6 336.8,344.9 337.4,344.2 338.1,343.5 338.8,342.9 339.4,342.3 340.1,341.7 340.7,341.2 341.4,340.7 342.1,340.2 342.7,339.7 343.4,339.3 344,338.8 344.7,338.4 345.4,338 346,337.6 346.7,337.2 347.3,336.8 348,336.4 350.7,313 351.1,317.3 351.4,317.6 351.8,317.7 352.1,317.8 352.4,317.9 352.8,318 353.1,318 353.5,318.1 353.8,318.1 354.2,318.2 354.6,318.2 354.9,318.3 355.2,318.3 355.6,318.3 355.9,318.4 356.3,318.4 356.6,318.4 357,318.4 357.3,318.5 357.7,318.5 358.1,318.5 358.4,318.5 358.8,318.5 359.1,318.6 359.4,318.6 359.8,318.6 360.1,318.6 360.5,318.6 360.8,318.7 361.2,318.7 361.6,318.7 361.9,318.7 362.2,318.7 362.6,318.7 362.9,318.7 363.3,318.8 363.6,318.8 364,318.8 364.3,318.8 364.7,318.8 367.6,304.8 368,309.8 368.3,310.1 368.7,310.4 369,310.5 369.4,310.6 369.7,310.8 370.1,310.8 370.4,310.9 370.8,311 371.1,311.1 371.5,311.1 371.8,311.2 372.2,311.2 372.5,311.3 372.9,311.3 373.2,311.4 373.6,311.4 373.9,311.4 374.3,311.5 374.6,311.5 375,311.6 375.4,311.6 375.7,311.6 376.1,311.6 376.4,311.7 376.8,311.7 377.1,311.7 377.5,311.7 377.8,311.8 378.2,311.8 378.5,311.8 378.9,311.8 379.2,311.9 379.6,311.9 379.9,311.9 380.3,311.9 380.6,311.9 381,312 381.3,312 381.7,312 384.6,296 385,300.6 385.3,300.9 385.7,301.1 386.1,301.2 386.5,301.4 386.8,301.5 387.2,301.5 387.6,301.6 387.9,301.7 388.3,301.7 388.7,301.8 389,301.9 389.4,301.9 389.8,301.9 390.1,302 390.5,302 390.9,302.1 391.3,302.1 391.6,302.1 392,302.2 392.4,302.2 392.7,302.2 393.1,302.2 393.5,302.3 393.9,302.3 394.2,302.3 394.6,302.3 395,302.4 395.3,302.4 395.7,302.4 396.1,302.4 396.4,302.5 396.8,302.5 397.2,302.5 397.5,302.5 397.9,302.5 398.3,302.5 398.7,302.6 399,302.6 399.4,302.6 402.3,284 402.6,289.8 403,290.3 403.3,290.6 403.6,290.8 404,291 404.3,291.2 404.6,291.3 405,291.4 405.3,291.5 405.6,291.6 406,291.7 406.3,291.8 406.6,291.9 407,291.9 407.3,292 407.6,292.1 408,292.1 408.3,292.2 408.6,292.2 409,292.3 409.3,292.3 409.6,292.4 409.9,292.4 410.3,292.5 410.6,292.5 410.9,292.5 411.3,292.6 411.6,292.6 411.9,292.7 412.3,292.7 412.6,292.7 412.9,292.8 413.3,292.8 413.6,292.8 413.9,292.9 414.3,292.9 414.6,292.9 414.9,292.9 415.3,293 415.6,293 419.3,272.3 419.7,277.9 420,278.5 420.4,278.9 420.7,279.2 421.1,279.4 421.4,279.6 421.8,279.8 422.1,279.9 422.4,280.1 422.8,280.2 423.2,280.3 423.5,280.4 423.9,280.5 424.2,280.6 424.6,280.7 424.9,280.8 425.2,280.8 425.6,280.9 425.9,281 426.3,281 426.7,281.1 427,281.2 427.4,281.2 427.7,281.3 428.1,281.3 428.4,281.4 428.8,281.4 429.1,281.5 429.4,281.5 429.8,281.6 430.2,281.6 430.5,281.7 430.9,281.7 431.2,281.8 431.6,281.8 431.9,281.8 432.2,281.9 432.6,281.9 432.9,282 433.3,282 437,256.8 437.3,263.3 437.7,264.1 438,264.7 438.3,265.1 438.7,265.5 439,265.8 439.3,266 439.7,266.2 440,266.4 440.3,266.6 440.7,266.8 441,266.9 441.3,267.1 441.7,267.2 442,267.4 442.3,267.5 442.7,267.6 443,267.7 443.3,267.8 443.6,267.9 444,268 444.3,268.1 444.6,268.2 445,268.3 445.3,268.4 445.6,268.5 446,268.5 446.3,268.6 446.6,268.7 447,268.8 447.3,268.8 447.6,268.9 448,269 448.3,269 448.6,269.1 449,269.2 449.3,269.2 449.6,269.3 450,269.3 450.3,269.4 454,233.2 454.4,240.4 454.7,241.8 455.1,242.7 455.4,243.4 455.8,244 456.1,244.5 456.4,245 456.8,245.4 457.1,245.7 457.5,246.1 457.9,246.4 458.2,246.7 458.6,246.9 458.9,247.2 459.2,247.4 459.6,247.7 459.9,247.9 460.3,248.1 460.6,248.3 461,248.5 461.4,248.7 461.7,248.9 462.1,249 462.4,249.2 462.8,249.4 463.1,249.5 463.4,249.7 463.8,249.8 464.1,250 464.5,250.1 464.9,250.3 465.2,250.4 465.6,250.5 465.9,250.7 466.2,250.8 466.6,250.9 466.9,251 467.3,251.2 467.6,251.3 468,251.4 471,208 471.4,216.2 471.7,217.9 472.1,219.1 472.4,220.1 472.8,220.8 473.1,221.5 473.4,222.1 473.8,222.7 474.1,223.1 474.5,223.6 474.9,224 475.2,224.4 475.6,224.8 475.9,225.1 476.2,225.5 476.6,225.8 476.9,226.1 477.3,226.4 477.6,226.7 478,226.9 478.4,227.2 478.7,227.5 479.1,227.7 479.4,227.9 479.8,228.2 480.1,228.4 480.4,228.6 480.8,228.8 481.1,229 481.5,229.2 481.9,229.4 482.2,229.6 482.6,229.8 482.9,230 483.2,230.2 483.6,230.3 483.9,230.5 484.3,230.7 484.6,230.8 485,231 487,182.6 487.4,188 487.8,189.7 488.1,190.9 488.5,191.9 488.9,192.8 489.2,193.6 489.6,194.3 490,194.9 490.4,195.5 490.8,196 491.1,196.6 491.5,197.1 491.9,197.5 492.2,198 492.6,198.4 493,198.8 493.4,199.2 493.8,199.6 494.1,200 494.5,200.3 494.9,200.7 495.2,201 495.6,201.4 496,201.7 496.4,202 496.8,202.3 497.1,202.6 497.5,202.9 497.9,203.2 498.2,203.5 498.6,203.7 499,204 499.4,204.3 499.8,204.5 500.1,204.8 500.5,205 500.9,205.3 501.2,205.5 501.6,205.8 502,206 504.3,142 504.7,149.6 505,152 505.4,153.8 505.7,155.2 506.1,156.5 506.4,157.5 506.8,158.5 507.1,159.4 507.4,160.3 507.8,161.1 508.1,161.8 508.5,162.5 508.8,163.2 509.2,163.8 509.6,164.4 509.9,165 510.2,165.6 510.6,166.1 510.9,166.6 511.3,167.2 511.6,167.7 512,168.1 512.4,168.6 512.7,169.1 513,169.5 513.4,169.9 513.8,170.4 514.1,170.8 514.4,171.2 514.8,171.6 515.1,172 515.5,172.4 515.8,172.7 516.2,173.1 516.5,173.5 516.9,173.8 517.2,174.2 517.6,174.5 517.9,174.9 518.3,175.2 521.3,116 521.6,123.8 521.9,126.3 522.2,128.1 522.6,129.5 522.9,130.8 523.2,131.9 523.5,132.9 523.8,133.9 524.1,134.7 524.4,135.5 524.8,136.3 525.1,137 525.4,137.7 525.7,138.3 526,139 526.3,139.6 526.7,140.1 527,140.7 527.3,141.2 527.6,141.8 527.9,142.3 528.2,142.8 528.5,143.2 528.9,143.7 529.2,144.2 529.5,144.6 529.8,145.1 530.1,145.5 530.4,145.9 530.8,146.3 531.1,146.7 531.4,147.1 531.7,147.5 532,147.9 532.3,148.2 532.6,148.6 533,149 533.3,149.3 533.6,149.7 533.9,150 536,112.4 536.3,120 536.6,122.4 536.9,124.2 537.2,125.7 537.5,126.9 537.8,128 538.1,129 538.4,129.9 538.7,130.7 539,131.5 539.3,132.3 539.6,133 539.9,133.6 540.2,134.3 540.5,134.9 540.8,135.5 541.1,136 541.4,136.6 541.7,137.1 542,137.6 542.2,138.1 542.5,138.6 542.8,139.1 543.1,139.5 543.4,140 543.7,140.4 544,140.9 544.3,141.3 544.6,141.7 544.9,142.1 545.2,142.5 545.5,142.9 545.8,143.2 546.1,143.6 546.4,144 546.7,144.3 547,144.7 547.3,145 547.6,145.4 547.9,145.7 550,114.7 550.3,120.8 550.6,122.7 550.9,124.1 551.2,125.2 551.5,126.2 551.8,127.1 552.1,127.9 552.4,128.6 552.7,129.3 553,129.9 553.3,130.5 553.6,131.1 553.9,131.6 554.2,132.1 554.5,132.6 554.8,133.1 555.1,133.5 555.4,134 555.7,134.4 556,134.8 556.3,135.2 556.6,135.6 556.9,135.9 557.2,136.3 557.5,136.7 557.8,137 558.1,137.3 558.4,137.7 558.7,138 559,138.3 559.3,138.6 559.6,138.9 559.9,139.2 560.2,139.5 560.5,139.8 560.8,140.1 561.1,140.4 561.4,140.7 561.7,140.9 562,141.2 563.4,104.3 563.7,112.1 564,114.6 564.3,116.4 564.7,117.8 565,119.1 565.3,120.2 565.6,121.2 565.9,122.2 566.2,123 566.5,123.8 566.9,124.6 567.2,125.3 567.5,126 567.8,126.6 568.1,127.3 568.4,127.9 568.8,128.4 569.1,129 569.4,129.5 569.7,130.1 570,130.6 570.3,131.1 570.6,131.5 571,132 571.3,132.5 571.6,132.9 571.9,133.4 572.2,133.8 572.5,134.2 572.9,134.6 573.2,135 573.5,135.4 573.8,135.8 574.1,136.2 574.4,136.5 574.7,136.9 575.1,137.3 575.4,137.6 575.7,138 576,138.3 579,114.7 579,117.3 579.1,118.1 579.1,118.7 579.1,119.2 579.1,119.6 579.2,120 579.2,120.3 579.2,120.6 579.3,120.9 579.3,121.2 579.3,121.4 579.4,121.7 579.4,121.9 579.4,122.1 579.5,122.3 579.5,122.5 579.5,122.7 579.5,122.9 579.6,123.1 579.6,123.3 579.6,123.4 579.7,123.6 579.7,123.8 579.7,123.9 579.8,124.1 579.8,124.2 579.8,124.4 579.8,124.5 579.9,124.6 579.9,124.8 579.9,124.9 580,125 580,125.2 580,125.3 580.1,125.4 580.1,125.5 580.1,125.7 580.1,125.8 580.2,125.9 580.2,126" fill="none" stroke="#b02a55" stroke-opacity="0.75" stroke-width="2.4" stroke-linejoin="round"/>
<polygon points="769.9,199.1 770.4,199.8 770.9,199.1 771.4,198.4 771.9,199.3 772.4,198.7 772.9,200.8 773.4,204.4 773.9,203.4 774.4,205.4 774.9,209.3 775.4,211.4 775.9,213.4 776.4,214.1 776.9,217.8 777.4,221.2 777.9,220.4 778.4,224.1 778.9,224.3 779.4,227.6 779.9,229.2 780.4,234 780.9,234.9 781.4,239.6 781.9,241.9 782.4,243.8 782.9,242.7 783.4,248.1 783.9,251.2 784.4,253.9 784.9,253.7 785.4,257.5 785.9,259 786.4,261.5 786.9,266.6 787.4,266 787.9,269.4 788.4,273.1 788.9,273.1 789.4,276.1 789.9,278.6 790.4,280.9 790.9,281.3 791.4,285.6 791.9,289.9 792.4,287.8 792.9,293.7 793.4,294.9 793.9,296.1 794.4,302.3 794.9,302.8 795.4,302.1 795.9,306.3 796.4,309.4 796.9,310.5 797.4,314.1 797.9,315.2 798.4,318.6 798.9,322 799.4,321.1 799.9,324.3 799.9,339.1 799.4,338.6 798.9,336.8 798.4,336 797.9,331.3 797.4,331 796.9,327.1 796.4,326.7 795.9,324.5 795.4,321.1 794.9,321.5 794.4,319.7 793.9,316.4 793.4,314.4 792.9,313.4 792.4,311 791.9,307.8 791.4,305.4 790.9,308 790.4,302.8 789.9,299.1 789.4,297.8 788.9,293.1 788.4,291.4 787.9,292.3 787.4,287.6 786.9,288.3 786.4,285.2 785.9,284.6 785.4,280.3 784.9,279.6 784.4,276.4 783.9,275 783.4,273.4 782.9,268.7 782.4,267 781.9,263 781.4,262 780.9,259.8 780.4,258.1 779.9,254.8 779.4,252.3 778.9,252.8 778.4,247.8 777.9,245.4 777.4,243.2 776.9,242.5 776.4,241.1 775.9,236.8 775.4,234 774.9,229.5 774.4,231.2 773.9,226.7 773.4,223 772.9,223.9 772.4,221.8 771.9,218.8 771.4,216.8 770.9,214.6 770.4,215.1 769.9,212.9" fill="#000"/>
<polyline points="769.9,198.8 769.9,218.5 770.4,194 770.4,217.1 770.9,197.4 770.9,218.3 771.4,196.6 771.4,221.3 771.9,199.6 771.9,221.5 772.4,200.1 772.4,222.5 772.9,197.6 772.9,222.6 773.4,200.7 773.4,225.8 773.9,200.5 773.9,228.8 774.4,204.3 774.4,234.4 774.9,207.8 774.9,236 775.4,209.3 775.4,239.1 775.9,213 775.9,238.9 776.4,215.2 776.4,242 776.9,216.5 776.9,242.2 777.4,218.7 777.4,245.3 777.9,219.5 777.9,252.4 778.4,219.9 778.4,250.6 778.9,225.1 778.9,252.9 779.4,220 779.4,255.1 779.9,228.3 779.9,258.1 780.4,231.9 780.4,257.6 780.9,231.5 780.9,260.6 781.4,239.1 781.4,264.5 781.9,239.2 781.9,268.8 782.4,243 782.4,269.5 782.9,244.2 782.9,275 783.4,243.8 783.4,275.2 783.9,251.3 783.9,277.7 784.4,253.5 784.4,276.6 784.9,256 784.9,284.1 785.4,250.1 785.4,282.2 785.9,257.6 785.9,285.4 786.4,262.6 786.4,285.3 786.9,263.6 786.9,287.9 787.4,265.5 787.4,292.3 787.9,269.5 787.9,295.1 788.4,270.6 788.4,295.9 788.9,273.3 788.9,296.3 789.4,275.5 789.4,298.7 789.9,278.5 789.9,304.3 790.4,276.3 790.4,306.5 790.9,281.5 790.9,304.9 791.4,285 791.4,306.8 791.9,281 791.9,310.2 792.4,290 792.4,311.6 792.9,290.3 792.9,313.7 793.4,294.5 793.4,318.7 793.9,294.8 793.9,318.6 794.4,295.5 794.4,319.5 794.9,301.6 794.9,323.2 795.4,303.3 795.4,325.7 795.9,303.4 795.9,327.9 796.4,304.7 796.4,327.3 796.9,310.3 796.9,334.2 797.4,309.4 797.4,333 797.9,314.1 797.9,333.3 798.4,316.9 798.4,335.3 798.9,319.7 798.9,337.8 799.4,322 799.4,342.7 799.9,320.4 799.9,342.2" fill="none" stroke="#000" stroke-width="1" stroke-linejoin="bevel"/>
<line x1="800.7" y1="345" x2="800.7" y2="222.3" stroke="#333" stroke-width="1.6"/>
<polygon points="801,252.2 801.5,260.1 802,265 802.5,271.7 803,278.4 803.5,279.1 804,280.9 804.5,283.4 805,287.7 805.5,290 806,290.7 806.5,294.5 807,294.4 807.5,299.4 808,300.8 808.5,302.1 809,300.9 809.5,303.5 810,303.5 810.5,304 811,304.9 811.5,304.3 812,304.8 812.5,308.8 813,307.9 813.5,309.1 814,310.8 814.5,307.3 815,309.2 815.5,311.1 816,311.8 816.5,311.1 817,313.6 817.5,312.8 818,311 818.5,311.8 819,314.8 819.5,314.6 820,311.4 820.5,316.6 821,315.8 821.5,317.2 822,314.9 822.5,315.4 823,314.4 823.5,320.2 824,316.5 824.5,319.4 825,316.4 825.5,317.9 826,315.4 826.5,317.6 827,320 827.5,316.9 828,320.7 828.5,319.8 829,318.1 829.5,319.2 830,319.5 830.5,320.4 831,319.9 831,340.6 830.5,341 830,343.4 829.5,343 829,339.6 828.5,339.8 828,338.7 827.5,339.2 827,343.3 826.5,340.2 826,340.1 825.5,339.5 825,339.6 824.5,338.5 824,341.4 823.5,335.6 823,336.2 822.5,336.2 822,338 821.5,335.9 821,337.5 820.5,335.2 820,334.8 819.5,336.2 819,333.5 818.5,333.7 818,332.8 817.5,331.7 817,335.2 816.5,333 816,329.9 815.5,330.5 815,332.5 814.5,328.4 814,330.3 813.5,328.3 813,330.4 812.5,328.3 812,327.2 811.5,324.9 811,325.5 810.5,325.4 810,323.1 809.5,322.9 809,319.5 808.5,318.8 808,318 807.5,314.4 807,315.7 806.5,310.4 806,309.8 805.5,304.2 805,301.5 804.5,299 804,292.7 803.5,291.9 803,285.5 802.5,278.1 802,272.2 801.5,266.3 801,257.7" fill="#000"/>
<polyline points="801,253.8 801,262.4 801.5,258 801.5,269.4 802,262.2 802,276.2 802.5,269.7 802.5,282.2 803,274.9 803,285.8 803.5,278.6 803.5,290.6 804,281.8 804,296.9 804.5,283.3 804.5,299.1 805,287.6 805,303.1 805.5,287.9 805.5,306.3 806,292.4 806,312 806.5,292.8 806.5,311.9 807,295.8 807,313.8 807.5,295.3 807.5,316.2 808,296.1 808,318 808.5,300.1 808.5,320.2 809,300.5 809,321.3 809.5,301.1 809.5,328.7 810,299.9 810,324.7 810.5,304 810.5,335.8 811,304.5 811,329.3 811.5,303 811.5,327.4 812,296.4 812,327.7 812.5,306.5 812.5,329.2 813,306.3 813,329.1 813.5,306.1 813.5,330.7 814,306.8 814,341.5 814.5,305.6 814.5,331.9 815,304.7 815,332.4 815.5,309.3 815.5,332.1 816,310.9 816,334 816.5,308.8 816.5,333.9 817,310.7 817,333.7 817.5,312.1 817.5,334.1 818,312.8 818,338.1 818.5,312.7 818.5,336.8 819,311.3 819,336.1 819.5,311.3 819.5,336.8 820,311.7 820,336.6 820.5,312.4 820.5,336.8 821,314.2 821,339 821.5,312.9 821.5,338.6 822,305.2 822,342.3 822.5,315.5 822.5,340.1 823,314.1 823,342.1 823.5,314.5 823.5,338.7 824,315.9 824,339.9 824.5,314.5 824.5,341.8 825,316.4 825,339.8 825.5,315 825.5,340.5 826,317.6 826,341.6 826.5,317.3 826.5,343.2 827,317.2 827,345.2 827.5,317.1 827.5,345.8 828,318 828,342.7 828.5,318.4 828.5,343.2 829,318.8 829,347.4 829.5,317.1 829.5,346.8 830,318 830,353 830.5,319.6 830.5,346.2 831,320 831,342.9" fill="none" stroke="#000" stroke-width="1" stroke-linejoin="bevel"/>
<line x1="831.4" y1="347" x2="831.4" y2="211.5" stroke="#333" stroke-width="1.6"/>
<polygon points="831.7,241.3 832.2,249.7 832.7,257.7 833.2,262.5 833.7,265.7 834.2,268.4 834.7,269.6 835.2,275.7 835.7,276 836.2,278.3 836.7,280 837.2,282.4 837.7,283.3 838.2,285.3 838.7,285.1 839.2,287.4 839.7,292.4 840.2,289.9 840.7,290.5 841.2,292.5 841.7,293.5 842.2,291.4 842.7,293.4 843.2,295.7 843.7,295.2 844.2,295.5 844.7,298.1 845.2,295.2 845.7,296.7 846.2,296.2 846.7,299.5 847.2,294.7 847.7,296.9 848.2,297.4 848.7,299.5 849.2,299.7 849.7,301.2 850.2,297 850.7,300.7 851.2,299.4 851.7,299.1 852.2,301.1 852.7,299.2 853.2,297.6 853.7,300.4 854.2,299 854.7,300.4 855.2,302.2 855.7,302.3 856.2,304.4 856.7,302 857.2,300.2 857.7,301.5 858.2,301.5 858.7,301.3 859.2,303.9 859.7,302.5 860.2,300.7 860.7,304.9 861.2,303.9 861.7,304.8 861.7,324.5 861.2,326.2 860.7,328.6 860.2,324.4 859.7,323.5 859.2,325.7 858.7,323.3 858.2,325.6 857.7,324 857.2,325.6 856.7,322 856.2,321.2 855.7,321.9 855.2,323.5 854.7,321 854.2,322 853.7,322.7 853.2,322.8 852.7,320.7 852.2,318.5 851.7,320.6 851.2,320.8 850.7,319.7 850.2,317.9 849.7,316.6 849.2,318.8 848.7,317.7 848.2,317.3 847.7,318.4 847.2,317.4 846.7,316 846.2,318.4 845.7,315.6 845.2,315.6 844.7,314.3 844.2,319.1 843.7,316.1 843.2,313.9 842.7,312.2 842.2,313.3 841.7,310.6 841.2,310.8 840.7,308.5 840.2,308.3 839.7,306.8 839.2,303.2 838.7,302.4 838.2,302.6 837.7,302.9 837.2,296.3 836.7,296.2 836.2,292.8 835.7,289.9 835.2,284.6 834.7,283.6 834.2,279.3 833.7,274.5 833.2,270.4 832.7,262.5 832.2,256.6 831.7,248.2" fill="#000"/>
<polyline points="831.7,243.7 831.7,250.8 832.2,249 832.2,255.7 832.7,254.2 832.7,264.5 833.2,254.3 833.2,270.4 833.7,259.2 833.7,276.2 834.2,265.5 834.2,279.8 834.7,270.3 834.7,283.3 835.2,271.3 835.2,289.2 835.7,273.4 835.7,290.6 836.2,272.6 836.2,298.2 836.7,280.1 836.7,296.2 837.2,279.6 837.2,298.4 837.7,282.3 837.7,301.2 838.2,284.2 838.2,303.7 838.7,285 838.7,304.6 839.2,286.8 839.2,307.5 839.7,288.6 839.7,310.2 840.2,288.4 840.2,317.5 840.7,290 840.7,311.9 841.2,290.7 841.2,312.4 841.7,292.4 841.7,313 842.2,293 842.2,313.9 842.7,293.2 842.7,315.5 843.2,288.6 843.2,316 843.7,290.2 843.7,318.9 844.2,293.6 844.2,317.2 844.7,294.6 844.7,317.4 845.2,290.5 845.2,317.9 845.7,296 845.7,319 846.2,294.7 846.2,321.2 846.7,296.9 846.7,320.2 847.2,297.6 847.2,318.3 847.7,297.1 847.7,319.1 848.2,296 848.2,321.4 848.7,296.5 848.7,320 849.2,293.8 849.2,320.4 849.7,297.4 849.7,320.7 850.2,299.2 850.2,320.8 850.7,294 850.7,321.3 851.2,299.3 851.2,321.3 851.7,297.4 851.7,326 852.2,297.7 852.2,322.8 852.7,299.7 852.7,321.5 853.2,300.3 853.2,321.9 853.7,300.4 853.7,323.9 854.2,296.2 854.2,322.8 854.7,299.4 854.7,323 855.2,295.5 855.2,325.4 855.7,300.8 855.7,325.3 856.2,290.9 856.2,325.1 856.7,295.6 856.7,328.8 857.2,297.8 857.2,326.3 857.7,299.8 857.7,328.8 858.2,299.2 858.2,329.8 858.7,302.5 858.7,324.5 859.2,300.4 859.2,329.6 859.7,303.2 859.7,325 860.2,301.7 860.2,325.5 860.7,298.1 860.7,328.5 861.2,302.1 861.2,325.6 861.7,303.7 861.7,326.6" fill="none" stroke="#000" stroke-width="1" stroke-linejoin="bevel"/>
<line x1="862.2" y1="329.5" x2="862.2" y2="205.6" stroke="#333" stroke-width="1.6"/>
<polygon points="862.5,237.1 863,241.6 863.5,248.4 864,251.5 864.5,256.5 865,261.9 865.5,264 866,266.9 866.5,269.2 867,271 867.5,272.6 868,274.1 868.5,277.3 869,276 869.5,280.9 870,280.1 870.5,279.9 871,281.2 871.5,281.8 872,283.8 872.5,283.2 873,286.6 873.5,284.3 874,282.6 874.5,285.4 875,284 875.5,287.4 876,289.4 876.5,289.2 877,286.5 877.5,287.7 878,291.9 878.5,290 879,289.8 879.5,291.6 880,294 880.5,292.5 881,291 881.5,291.6 882,292.2 882.5,290.6 883,290.1 883.5,292 884,290.7 884.5,292.2 885,292.7 885.5,296.2 886,291.6 886.5,292.9 887,293.1 887.5,294.2 888,295.3 888.5,293.1 889,292.8 889.5,291.8 890,293.1 890.5,295.4 891,294.9 891.5,293.5 892,294.6 892.5,295.4 892.5,316.1 892,315.1 891.5,314.4 891,313.3 890.5,312.6 890,312.9 889.5,315.1 889,314 888.5,310.6 888,313 887.5,314.4 887,310.5 886.5,309.9 886,310.5 885.5,309.4 885,311.4 884.5,313.8 884,311.9 883.5,310.4 883,311.1 882.5,309.1 882,309.8 881.5,309.7 881,311 880.5,310.6 880,309 879.5,307.4 879,305.8 878.5,307.5 878,306.9 877.5,307.7 877,304.9 876.5,307.8 876,305.8 875.5,305.4 875,307.2 874.5,306.2 874,305.6 873.5,304.6 873,301.7 872.5,303 872,301.7 871.5,300.1 871,297.9 870.5,296.2 870,296 869.5,291.9 869,292.9 868.5,291.2 868,289.1 867.5,285.7 867,283.8 866.5,281.8 866,277.8 865.5,271.4 865,273.1 864.5,264.5 864,258.4 863.5,255.1 863,248.2 862.5,242.6" fill="#000"/>
<polyline points="862.5,234.8 862.5,244.8 863,239.6 863,249.4 863.5,246.1 863.5,256.3 864,251.2 864,261.7 864.5,255.9 864.5,272.3 865,257.8 865,271.2 865.5,260.6 865.5,279.8 866,265.6 866,279.4 866.5,267.4 866.5,283.8 867,269.3 867,285.2 867.5,271.1 867.5,290.4 868,272.8 868,291.4 868.5,274.7 868.5,292.6 869,274.1 869,294.1 869.5,278.5 869.5,298.4 870,276 870,298.3 870.5,276.8 870.5,300 871,281.8 871,299.1 871.5,278.8 871.5,304 872,283.1 872,302.9 872.5,280.3 872.5,304.4 873,284.5 873,308.9 873.5,281.6 873.5,303.9 874,282.5 874,308.4 874.5,282.5 874.5,306.7 875,283.8 875,306.4 875.5,284.3 875.5,306.1 876,286.8 876,307 876.5,288 876.5,308.3 877,287.3 877,311.6 877.5,288.4 877.5,308.4 878,287.5 878,316.3 878.5,288.6 878.5,310.9 879,289 879,311.8 879.5,288.6 879.5,310.3 880,285.8 880,309.8 880.5,285.2 880.5,310 881,285.3 881,316.1 881.5,287.9 881.5,312.3 882,289.7 882,311.8 882.5,289.7 882.5,314.8 883,287.7 883,314.4 883.5,291.5 883.5,316.3 884,289.6 884,311.4 884.5,289.1 884.5,311.3 885,291.7 885,313.7 885.5,289.4 885.5,311.9 886,292.4 886,314.1 886.5,289.5 886.5,318 887,291.5 887,313.1 887.5,292.8 887.5,314 888,289.4 888,320.2 888.5,293.6 888.5,314 889,291.7 889,314.9 889.5,293.4 889.5,316.9 890,292.8 890,320.4 890.5,292.1 890.5,314 891,291.1 891,315.5 891.5,292 891.5,314.2 892,294.5 892,319 892.5,293 892.5,315.7" fill="none" stroke="#000" stroke-width="1" stroke-linejoin="bevel"/>
<line x1="892.8" y1="318.5" x2="892.8" y2="205.6" stroke="#333" stroke-width="1.6"/>
<polygon points="893.1,237 893.6,241.8 894.1,246.4 894.6,252.3 895.1,255.8 895.6,257.1 896.1,259.5 896.6,263.8 897.1,265.4 897.6,269.2 898.1,273.4 898.6,272.3 899.1,272.4 899.6,273.5 900.1,273.6 900.6,274.6 901.1,275.4 901.6,277.1 902.1,277.9 902.6,280.3 903.1,279.2 903.6,280.1 904.1,279.1 904.6,283.9 905.1,282.7 905.6,285 906.1,283.9 906.6,285.3 907.1,283 907.6,284.8 908.1,288.1 908.6,282.5 909.1,286.4 909.6,287.4 910.1,285.7 910.6,286.5 911.1,287.5 911.6,284.8 912.1,286.6 912.6,284.9 913.1,285.4 913.6,285.7 914.1,286.6 914.6,287.2 915.1,287.9 915.6,285.2 916.1,290.6 916.6,289.5 917.1,289.1 917.6,287.6 918.1,288.2 918.6,289.3 919.1,289.3 919.6,286.2 920.1,290.1 920.6,293.6 921.1,286.5 921.6,291 922.1,290.2 922.6,289.7 922.6,307.6 922.1,304.6 921.6,307.2 921.1,307.4 920.6,305.8 920.1,307.6 919.6,307.9 919.1,306.1 918.6,307.5 918.1,309.5 917.6,306.1 917.1,306.9 916.6,307.6 916.1,306.1 915.6,304.6 915.1,306.3 914.6,302.9 914.1,302.1 913.6,304.5 913.1,303.2 912.6,303.8 912.1,304.8 911.6,304.7 911.1,302.6 910.6,301.3 910.1,302.8 909.6,305.5 909.1,301.3 908.6,301.7 908.1,301.6 907.6,301.2 907.1,302.2 906.6,302.3 906.1,299.8 905.6,298.1 905.1,299.4 904.6,300.7 904.1,297.9 903.6,299.3 903.1,294.7 902.6,293.8 902.1,297 901.6,292.9 901.1,290.9 900.6,291.3 900.1,286 899.6,288.3 899.1,287.8 898.6,282.9 898.1,284.1 897.6,279 897.1,280.2 896.6,274.2 896.1,271.8 895.6,267.3 895.1,263.5 894.6,261.4 894.1,254.2 893.6,246.2 893.1,243.6" fill="#000"/>
<polyline points="893.1,236.8 893.1,242.6 893.6,242.5 893.6,250.1 894.1,246.6 894.1,257.3 894.6,248.4 894.6,260.1 895.1,252.1 895.1,269.4 895.6,255.2 895.6,270.1 896.1,258.5 896.1,271.9 896.6,263 896.6,279.1 897.1,256.6 897.1,280.2 897.6,267.1 897.6,283.3 898.1,266.8 898.1,284.9 898.6,270 898.6,286.2 899.1,270.8 899.1,287.2 899.6,270.1 899.6,289.1 900.1,274.6 900.1,290.1 900.6,273.7 900.6,292.3 901.1,276.3 901.1,293.5 901.6,277 901.6,294 902.1,276.4 902.1,294.8 902.6,275.4 902.6,297.6 903.1,276.2 903.1,300.7 903.6,279.6 903.6,298.4 904.1,279.7 904.1,301.3 904.6,278.6 904.6,301.8 905.1,280.4 905.1,300.3 905.6,280 905.6,300.6 906.1,281.5 906.1,301.9 906.6,282.2 906.6,303 907.1,280.3 907.1,301 907.6,283.5 907.6,303.5 908.1,280.8 908.1,303.2 908.6,278.8 908.6,302.1 909.1,284.4 909.1,308.1 909.6,282.7 909.6,307.1 910.1,283.1 910.1,305.1 910.6,283.3 910.6,304.8 911.1,282.6 911.1,307.6 911.6,282.9 911.6,306.3 912.1,283.8 912.1,304.2 912.6,283.8 912.6,308.4 913.1,284.4 913.1,308.8 913.6,285.7 913.6,307.9 914.1,284.3 914.1,305 914.6,285.1 914.6,305.6 915.1,285.4 915.1,309 915.6,286.3 915.6,307.9 916.1,285.3 916.1,308.2 916.6,285.9 916.6,306.4 917.1,285 917.1,306.8 917.6,286.2 917.6,309 918.1,288.1 918.1,310.1 918.6,287.9 918.6,306.9 919.1,286.1 919.1,308.5 919.6,287.9 919.6,311.5 920.1,283.4 920.1,307.9 920.6,286.2 920.6,318.4 921.1,288.9 921.1,307.3 921.6,284.4 921.6,316 922.1,286.6 922.1,309.1 922.6,286.4 922.6,310.8" fill="none" stroke="#000" stroke-width="1" stroke-linejoin="bevel"/>
<line x1="923" y1="312" x2="923" y2="214" stroke="#333" stroke-width="1.6"/>
<polygon points="923.3,245.2 923.8,250.6 924.3,254 924.8,257.9 925.3,257.8 925.8,259.1 926.3,264.4 926.8,265.3 927.3,268.2 927.8,268 928.3,271.2 928.8,271.8 929.3,272.7 929.8,273.4 930.3,274.1 930.8,274.6 931.3,275.3 931.8,277.1 932.3,275.4 932.8,279.3 933.3,277 933.8,279.1 934.3,277.8 934.8,278 935.3,281.7 935.8,278.5 936.3,277.3 936.8,278.4 937.3,279.3 937.8,283.2 938.3,280.5 938.8,281.8 939.3,279.1 939.8,281.3 940.3,282 940.8,283.8 941.3,280.2 941.8,282.3 942.3,282 942.8,280.2 943.3,281.8 943.8,281.6 944.3,278.7 944.8,283.2 945.3,283.2 945.8,281.9 946.3,280.7 946.8,285 947.3,283.3 947.8,284.6 948.3,285.3 948.8,282.5 949.3,284.6 949.8,283.1 950.3,283.5 950.8,283.6 951.3,283.9 951.8,285.6 952.3,284.3 952.8,284 953.3,283.9 953.3,300.2 952.8,303.3 952.3,303.4 951.8,299.8 951.3,299.2 950.8,302.5 950.3,302.1 949.8,300.2 949.3,300.8 948.8,301.1 948.3,297.8 947.8,299.6 947.3,300.4 946.8,299.5 946.3,299.7 945.8,300.5 945.3,297.7 944.8,298.9 944.3,297.6 943.8,299.6 943.3,298.1 942.8,298.4 942.3,295.5 941.8,300.5 941.3,298.8 940.8,296.7 940.3,297.1 939.8,296.4 939.3,296.7 938.8,296.8 938.3,296.9 937.8,294.4 937.3,295.7 936.8,294.2 936.3,297.4 935.8,296.5 935.3,294.7 934.8,293.8 934.3,296.6 933.8,291.8 933.3,293.8 932.8,290.8 932.3,294.6 931.8,290.6 931.3,291.9 930.8,289.3 930.3,288.2 929.8,286.4 929.3,285.7 928.8,287 928.3,282 927.8,280.9 927.3,280.1 926.8,278.8 926.3,272.2 925.8,270 925.3,266 924.8,263.1 924.3,258.2 923.8,252.9 923.3,249.5" fill="#000"/>
<polyline points="923.3,242.1 923.3,250.6 923.8,248.9 923.8,257.5 924.3,250.8 924.3,267.3 924.8,255.4 924.8,265.2 925.3,255.5 925.3,266.9 925.8,256.1 925.8,273.6 926.3,259.7 926.3,273.8 926.8,264.5 926.8,281 927.3,263.4 927.3,280.3 927.8,267.6 927.8,282.4 928.3,268.1 928.3,285.5 928.8,266.5 928.8,283.9 929.3,271.1 929.3,288 929.8,272 929.8,290.9 930.3,269.2 930.3,288.5 930.8,273.8 930.8,288.8 931.3,272.6 931.3,293.1 931.8,274.7 931.8,292.3 932.3,275.8 932.3,292.6 932.8,274.8 932.8,292.4 933.3,276.2 933.3,294.1 933.8,275.4 933.8,295.3 934.3,274.3 934.3,293.9 934.8,277.7 934.8,304.5 935.3,277 935.3,294.8 935.8,276 935.8,295.3 936.3,279.2 936.3,297.2 936.8,274.8 936.8,299.2 937.3,278.8 937.3,299.1 937.8,277.6 937.8,298 938.3,278.8 938.3,298.1 938.8,278.4 938.8,302.2 939.3,280.3 939.3,297.6 939.8,280.7 939.8,298.9 940.3,278.4 940.3,298.9 940.8,281 940.8,300.1 941.3,278.3 941.3,300.4 941.8,280.9 941.8,299.4 942.3,279.1 942.3,299.8 942.8,279.8 942.8,298.9 943.3,280.1 943.3,305.8 943.8,279.3 943.8,305.1 944.3,281.5 944.3,299.9 944.8,279.8 944.8,303.1 945.3,279.5 945.3,301.1 945.8,281.4 945.8,299.6 946.3,281.5 946.3,301.1 946.8,279 946.8,300.9 947.3,278.4 947.3,304.6 947.8,282.3 947.8,305 948.3,281.9 948.3,303.8 948.8,282.7 948.8,302 949.3,282 949.3,300.4 949.8,282.8 949.8,302.7 950.3,282.1 950.3,301.4 950.8,277.2 950.8,302.5 951.3,283.6 951.3,304.3 951.8,282 951.8,303.1 952.3,280.6 952.3,304.6 952.8,281.7 952.8,303.6 953.3,283.6 953.3,301.9" fill="none" stroke="#000" stroke-width="1" stroke-linejoin="bevel"/>
<line x1="954" y1="305.5" x2="954" y2="209.4" stroke="#333" stroke-width="1.6"/>
<polygon points="954.3,237.7 954.8,245.1 955.3,248.5 955.8,250.3 956.3,254.1 956.8,257.7 957.3,258.8 957.8,261.1 958.3,263.2 958.8,260.7 959.3,267.3 959.8,269.7 960.3,268.9 960.8,269.9 961.3,267.1 961.8,269.8 962.3,269.5 962.8,270.4 963.3,273.3 963.8,271.2 964.3,272.6 964.8,270.4 965.3,273.4 965.8,274.1 966.3,273.2 966.8,273.5 967.3,277.7 967.8,273.3 968.3,273.7 968.8,274.3 969.3,277.5 969.8,279.1 970.3,276.6 970.8,275.2 971.3,275.8 971.8,278.2 972.3,275.4 972.8,279.1 973.3,279.1 973.8,277.2 974.3,278.2 974.8,278.5 975.3,279.8 975.8,276.1 976.3,279.5 976.8,277.3 977.3,276.8 977.8,278.2 978.3,277.9 978.8,276.8 979.3,276 979.8,277.1 980.3,280.8 980.8,281.7 981.3,279.8 981.8,280.7 982.3,278.2 982.8,279 983.3,279.6 983.8,277.7 984.3,277.9 984.3,295.2 983.8,295.3 983.3,296.6 982.8,297.3 982.3,296.7 981.8,295.6 981.3,295.9 980.8,295.3 980.3,297 979.8,295.4 979.3,297.1 978.8,293.9 978.3,294.2 977.8,294.2 977.3,294.7 976.8,294.5 976.3,294.1 975.8,294.9 975.3,296.1 974.8,294.6 974.3,291.3 973.8,294.1 973.3,288.3 972.8,292.8 972.3,293.5 971.8,293.6 971.3,293.4 970.8,291.8 970.3,292.2 969.8,291.3 969.3,291.9 968.8,293.7 968.3,290.6 967.8,292.7 967.3,290.3 966.8,292.3 966.3,292.4 965.8,288.2 965.3,289.8 964.8,290.2 964.3,287.6 963.8,287.1 963.3,287.4 962.8,285.7 962.3,284.9 961.8,282 961.3,285.4 960.8,283.2 960.3,282.1 959.8,278.8 959.3,276.8 958.8,275.7 958.3,274 957.8,271 957.3,268.8 956.8,267.4 956.3,262.1 955.8,259.4 955.3,253 954.8,249.3 954.3,244.6" fill="#000"/>
<polyline points="954.3,236.4 954.3,245.1 954.8,241.8 954.8,251.1 955.3,247.1 955.3,255.9 955.8,240.9 955.8,259.8 956.3,250.3 956.3,263.3 956.8,253.5 956.8,272.9 957.3,256.4 957.3,277.5 957.8,258.1 957.8,273 958.3,260.6 958.3,277.4 958.8,260.3 958.8,280 959.3,262.1 959.3,278.2 959.8,265.8 959.8,280.7 960.3,266.8 960.3,281.7 960.8,266.3 960.8,282.9 961.3,265.5 961.3,285.7 961.8,268.9 961.8,288.7 962.3,268.6 962.3,288.4 962.8,270.3 962.8,287.4 963.3,271.8 963.3,288.5 963.8,269.7 963.8,288.2 964.3,270.9 964.3,289.8 964.8,272.4 964.8,289.9 965.3,271.9 965.3,293 965.8,273.4 965.8,290.4 966.3,270.9 966.3,290.9 966.8,272.8 966.8,291.4 967.3,270.7 967.3,297.4 967.8,274.3 967.8,291.9 968.3,273.6 968.3,296.8 968.8,271.3 968.8,302.4 969.3,271.1 969.3,295.3 969.8,274.9 969.8,294.8 970.3,274 970.3,294.6 970.8,273.7 970.8,294.4 971.3,276.3 971.3,294.1 971.8,275.2 971.8,293.4 972.3,276.6 972.3,293.5 972.8,275.7 972.8,296.5 973.3,276.9 973.3,295.1 973.8,276.2 973.8,296.2 974.3,277.2 974.3,299.3 974.8,274.5 974.8,294.7 975.3,276.3 975.3,298.3 975.8,272.8 975.8,297.1 976.3,276.9 976.3,295.7 976.8,273.7 976.8,299.5 977.3,272.1 977.3,296 977.8,276.8 977.8,296.5 978.3,273.7 978.3,300.2 978.8,277.4 978.8,299.1 979.3,277.1 979.3,295.5 979.8,271.2 979.8,297 980.3,276 980.3,296.7 980.8,278.4 980.8,297.6 981.3,276.8 981.3,298.1 981.8,276 981.8,296.6 982.3,277.1 982.3,297.1 982.8,275.3 982.8,299.8 983.3,277.7 983.3,297.2 983.8,278.7 983.8,299.3 984.3,278.7 984.3,303.9" fill="none" stroke="#000" stroke-width="1" stroke-linejoin="bevel"/>
<line x1="984.6" y1="300.5" x2="984.6" y2="209.4" stroke="#333" stroke-width="1.6"/>
<polygon points="984.9,241.7 985.4,245.9 985.9,250.4 986.4,250.9 986.9,255.1 987.4,254.9 987.9,257.7 988.4,261.7 988.9,262.3 989.4,261.2 989.9,265.1 990.4,265.5 990.9,265.6 991.4,268.4 991.9,268 992.4,267 992.9,268.3 993.4,273.2 993.9,268.8 994.4,271.9 994.9,272.9 995.4,273.4 995.9,270.9 996.4,272.6 996.9,273.6 997.4,274.9 997.9,272.9 998.4,272.4 998.9,275.9 999.4,276.2 999.9,275.3 1000.4,274 1000.9,275.7 1001.4,275.4 1001.9,276.6 1002.4,273.6 1002.9,275.8 1003.4,275.5 1003.9,274.2 1004.4,276.3 1004.9,276.1 1005.4,275.6 1005.9,276.9 1006.4,274.2 1006.9,276.4 1007.4,277.2 1007.9,277.1 1008.4,278.4 1008.9,275 1009.4,274.7 1009.9,277.4 1010.4,277.8 1010.9,280.4 1011.4,278.2 1011.9,276.1 1012.4,278.7 1012.9,276.3 1013.4,275.4 1013.9,281.6 1014.4,278.3 1014.9,278.9 1014.9,292.7 1014.4,291 1013.9,294.3 1013.4,291.9 1012.9,293.2 1012.4,295.2 1011.9,296.8 1011.4,291.1 1010.9,294.2 1010.4,292.6 1009.9,294.5 1009.4,294.4 1008.9,292.9 1008.4,293.4 1007.9,290.5 1007.4,290.4 1006.9,290.9 1006.4,292 1005.9,291.2 1005.4,290.4 1004.9,291.1 1004.4,290.2 1003.9,290.7 1003.4,290.2 1002.9,292.5 1002.4,292.4 1001.9,295.8 1001.4,292.1 1000.9,290.3 1000.4,291.3 999.9,289.1 999.4,288.3 998.9,290.6 998.4,287.1 997.9,290.2 997.4,290.3 996.9,289.9 996.4,288 995.9,286.9 995.4,290.5 994.9,287.5 994.4,284.4 993.9,286.6 993.4,285.5 992.9,285.5 992.4,283.6 991.9,282.8 991.4,281.9 990.9,281.9 990.4,277.1 989.9,276.8 989.4,275.1 988.9,273.5 988.4,272.7 987.9,270.1 987.4,263 986.9,260.3 986.4,260 985.9,254.6 985.4,252.2 984.9,245.2" fill="#000"/>
<polyline points="984.9,238.6 984.9,244.5 985.4,241.8 985.4,250.2 985.9,246.7 985.9,256.6 986.4,246 986.4,261 986.9,250.3 986.9,262.3 987.4,253.1 987.4,267.1 987.9,256.7 987.9,272.4 988.4,259 988.4,273.1 988.9,260.4 988.9,273.6 989.4,259.3 989.4,275.6 989.9,263.4 989.9,276.7 990.4,262.8 990.4,279.4 990.9,265.4 990.9,280.1 991.4,262.3 991.4,282.2 991.9,267.9 991.9,285.1 992.4,269 992.4,284.7 992.9,267.4 992.9,284 993.4,267.7 993.4,288.2 993.9,266.1 993.9,285.8 994.4,270.1 994.4,286.2 994.9,270.2 994.9,289.3 995.4,269.7 995.4,289.9 995.9,268.4 995.9,290.8 996.4,269.1 996.4,289.9 996.9,271.6 996.9,290.7 997.4,271.7 997.4,289.1 997.9,272 997.9,291.3 998.4,267.6 998.4,293.2 998.9,270.3 998.9,290.2 999.4,274.4 999.4,291.7 999.9,272.6 999.9,292.8 1000.4,273.1 1000.4,292.3 1000.9,273.1 1000.9,294.1 1001.4,274.7 1001.4,293.7 1001.9,274.7 1001.9,291.1 1002.4,273.6 1002.4,294.7 1002.9,274.6 1002.9,292.3 1003.4,274.9 1003.4,292.1 1003.9,275 1003.9,293.7 1004.4,275.9 1004.4,295.5 1004.9,274.7 1004.9,294.6 1005.4,273.1 1005.4,296.8 1005.9,273.8 1005.9,292.6 1006.4,271.9 1006.4,293.2 1006.9,274.7 1006.9,292.9 1007.4,276.1 1007.4,293.5 1007.9,274.8 1007.9,296.8 1008.4,270 1008.4,294.4 1008.9,270.3 1008.9,299.3 1009.4,274.6 1009.4,293.4 1009.9,275 1009.9,303.6 1010.4,276.2 1010.4,293.5 1010.9,276.3 1010.9,296.9 1011.4,275.6 1011.4,293.4 1011.9,275.6 1011.9,295.8 1012.4,276.1 1012.4,294.7 1012.9,275.2 1012.9,298.8 1013.4,277.1 1013.4,294.6 1013.9,275.3 1013.9,295.8 1014.4,277 1014.4,294.4 1014.9,277.2 1014.9,295" fill="none" stroke="#000" stroke-width="1" stroke-linejoin="bevel"/>
<line x1="1015.6" y1="298" x2="1015.6" y2="209.6" stroke="#333" stroke-width="1.6"/>
<polygon points="1015.9,239 1016.4,244.1 1016.9,247.5 1017.4,252.9 1017.9,254.5 1018.4,257.2 1018.9,256.9 1019.4,261.3 1019.9,260.9 1020.4,265.2 1020.9,266.7 1021.4,267.3 1021.9,271.5 1022.4,270.2 1022.9,271.2 1023.4,271.3 1023.9,271.5 1024.4,273.8 1024.9,274.6 1025.4,271.5 1025.9,275.5 1026.4,275.1 1026.9,276.1 1027.4,275.7 1027.9,273.5 1028.4,273.9 1028.9,278.6 1029.4,276.5 1029.9,274.2 1030.4,277.1 1030.9,276.2 1031.4,274.1 1031.9,273.6 1032.4,274.8 1032.9,277.8 1033.4,277.4 1033.9,277.2 1034.4,278.2 1034.9,278.8 1035.4,274.8 1035.9,277.6 1036.4,277 1036.9,276.5 1037.4,277.6 1037.9,278.3 1038.4,278.2 1038.9,276.5 1039.4,278.1 1039.9,281.9 1040.4,277.4 1040.9,276.5 1041.4,279.6 1041.9,280.1 1042.4,280 1042.9,277.7 1043.4,281 1043.9,278.4 1044.4,278 1044.9,278.9 1045.4,279.7 1045.9,281 1045.9,296.1 1045.4,296.5 1044.9,297.5 1044.4,296.6 1043.9,296.3 1043.4,295.6 1042.9,296.2 1042.4,298.4 1041.9,294.7 1041.4,298.4 1040.9,293 1040.4,293.4 1039.9,295.5 1039.4,294.8 1038.9,291.3 1038.4,297.6 1037.9,294.5 1037.4,293.4 1036.9,294.5 1036.4,294.5 1035.9,293.9 1035.4,294.6 1034.9,292.6 1034.4,295.2 1033.9,291.3 1033.4,293 1032.9,295.4 1032.4,291.1 1031.9,292.5 1031.4,292.3 1030.9,291.3 1030.4,291 1029.9,291.9 1029.4,290.9 1028.9,292.2 1028.4,291.1 1027.9,291.3 1027.4,289.8 1026.9,289.8 1026.4,287.4 1025.9,291.3 1025.4,289.1 1024.9,287.3 1024.4,286.6 1023.9,289.2 1023.4,286.1 1022.9,279.9 1022.4,284.6 1021.9,280.5 1021.4,279 1020.9,278 1020.4,275.8 1019.9,272.1 1019.4,273 1018.9,266.8 1018.4,264.1 1017.9,264.2 1017.4,259.2 1016.9,256.2 1016.4,250 1015.9,245.6" fill="#000"/>
<polyline points="1015.9,240.4 1015.9,248 1016.4,243.3 1016.4,251.6 1016.9,247.9 1016.9,255.9 1017.4,246.6 1017.4,259.3 1017.9,253.4 1017.9,264.1 1018.4,256.7 1018.4,271 1018.9,258.8 1018.9,271 1019.4,260.5 1019.4,273.5 1019.9,260.8 1019.9,275.9 1020.4,262 1020.4,276.3 1020.9,262.7 1020.9,279.9 1021.4,267.3 1021.4,279.8 1021.9,263 1021.9,281.8 1022.4,267.6 1022.4,284.3 1022.9,270.2 1022.9,284.5 1023.4,270.1 1023.4,291 1023.9,269.6 1023.9,286.3 1024.4,272.1 1024.4,287.4 1024.9,270.5 1024.9,288.1 1025.4,272.8 1025.4,289.4 1025.9,272.8 1025.9,294.5 1026.4,273.2 1026.4,293.1 1026.9,271.4 1026.9,293.3 1027.4,272.6 1027.4,291.3 1027.9,270.4 1027.9,291.2 1028.4,266 1028.4,291.9 1028.9,274.5 1028.9,291.7 1029.4,274 1029.4,293.9 1029.9,268.7 1029.9,293.9 1030.4,274.2 1030.4,293.8 1030.9,276.5 1030.9,292.9 1031.4,273.9 1031.4,292.7 1031.9,270.8 1031.9,294.9 1032.4,271.9 1032.4,294.1 1032.9,276.5 1032.9,296.2 1033.4,276.7 1033.4,297.6 1033.9,275.5 1033.9,301.2 1034.4,272.6 1034.4,293.6 1034.9,275.5 1034.9,296.9 1035.4,275.3 1035.4,293.9 1035.9,277.6 1035.9,296.9 1036.4,277.8 1036.4,298.5 1036.9,277.9 1036.9,295.3 1037.4,276.8 1037.4,297.2 1037.9,275.5 1037.9,295.2 1038.4,277.5 1038.4,296.5 1038.9,275.1 1038.9,295.3 1039.4,277.8 1039.4,298.3 1039.9,275.8 1039.9,298.4 1040.4,277.5 1040.4,296.5 1040.9,275.7 1040.9,296.7 1041.4,273.8 1041.4,297.7 1041.9,277.7 1041.9,297.8 1042.4,278.7 1042.4,297.9 1042.9,275.8 1042.9,296.2 1043.4,274.5 1043.4,297.4 1043.9,279.4 1043.9,297.6 1044.4,277.3 1044.4,298 1044.9,278.7 1044.9,297.1 1045.4,279.8 1045.4,295.9 1045.9,275.5 1045.9,296.4" fill="none" stroke="#000" stroke-width="1" stroke-linejoin="bevel"/>
<line x1="1046.2" y1="300" x2="1046.2" y2="213" stroke="#333" stroke-width="1.6"/>
<polygon points="1046.5,244 1047,248.3 1047.5,252 1048,254.8 1048.5,259.4 1049,260.4 1049.5,262.8 1050,264.5 1050.5,264.8 1051,266.6 1051.5,267.6 1052,270.7 1052.5,270.4 1053,270.9 1053.5,273.7 1054,274.9 1054.5,272.2 1055,278 1055.5,276 1056,276.3 1056.5,278.5 1057,277.5 1057.5,276.8 1058,281.3 1058.5,276.7 1059,278.5 1059.5,280.2 1060,277.5 1060.5,279.2 1061,280.1 1061.5,283.3 1062,278.6 1062.5,280 1063,281.2 1063.5,280.5 1064,278.7 1064.5,281.2 1065,280.9 1065.5,281.5 1066,282.7 1066.5,282.6 1067,281.8 1067.5,281.8 1068,279.8 1068.5,281.3 1069,281.9 1069.5,281.1 1070,281.9 1070.5,280.7 1071,284.3 1071.5,285.3 1072,281.6 1072.5,282.9 1073,282 1073.5,284.3 1074,283.2 1074.5,282.7 1075,282.3 1075.5,283 1076,281.3 1076.5,283.9 1076.5,298.4 1076,298.8 1075.5,300.4 1075,298.4 1074.5,300.7 1074,295.2 1073.5,297.9 1073,300.6 1072.5,299.7 1072,295.8 1071.5,296.6 1071,300.4 1070.5,298.5 1070,296.8 1069.5,296 1069,298.6 1068.5,298 1068,293.8 1067.5,300.1 1067,296.4 1066.5,296.8 1066,295.5 1065.5,295 1065,298.7 1064.5,295.3 1064,295.3 1063.5,296.4 1063,296.4 1062.5,298.6 1062,296 1061.5,294.7 1061,295.1 1060.5,294.3 1060,295.9 1059.5,293.9 1059,294.9 1058.5,293 1058,290.4 1057.5,291.9 1057,292.3 1056.5,289.7 1056,293.5 1055.5,287.8 1055,288.1 1054.5,285.8 1054,289.6 1053.5,284.5 1053,286.1 1052.5,281.3 1052,284.3 1051.5,281.3 1051,279.7 1050.5,277 1050,275.9 1049.5,271 1049,270.9 1048.5,266 1048,264 1047.5,258.3 1047,254.2 1046.5,247" fill="#000"/>
<polyline points="1046.5,243.1 1046.5,251.7 1047,245.9 1047,257.8 1047.5,251.8 1047.5,258.4 1048,254.3 1048,263.5 1048.5,257.1 1048.5,266.4 1049,258.4 1049,270.3 1049.5,261.6 1049.5,275.1 1050,263.3 1050,279.4 1050.5,264.8 1050.5,278.3 1051,267.6 1051,283.1 1051.5,267.3 1051.5,283.2 1052,269.1 1052,283.8 1052.5,270 1052.5,289.5 1053,271.4 1053,285.8 1053.5,271.8 1053.5,287.7 1054,273.3 1054,290.3 1054.5,274 1054.5,291 1055,274.6 1055,295.2 1055.5,270.6 1055.5,291.1 1056,275.6 1056,293.4 1056.5,276.2 1056.5,296.5 1057,277 1057,295.1 1057.5,275.2 1057.5,293.5 1058,274.1 1058,295.5 1058.5,276.8 1058.5,295.3 1059,278.4 1059,294.1 1059.5,277.3 1059.5,294.8 1060,278.5 1060,294.9 1060.5,277.6 1060.5,296.6 1061,277.1 1061,296.6 1061.5,276.6 1061.5,296.1 1062,276.2 1062,295.8 1062.5,278.6 1062.5,299.3 1063,278.5 1063,295.9 1063.5,278.7 1063.5,297.2 1064,278.6 1064,296.9 1064.5,275.4 1064.5,296.9 1065,277.9 1065,296.6 1065.5,279.3 1065.5,296.9 1066,280.8 1066,298.2 1066.5,280.1 1066.5,298.9 1067,279.9 1067,297.9 1067.5,279.9 1067.5,299 1068,281.3 1068,297.6 1068.5,279.4 1068.5,299.7 1069,277.5 1069,298.6 1069.5,281.4 1069.5,299.7 1070,279 1070,301.1 1070.5,281.4 1070.5,298.5 1071,280.1 1071,298 1071.5,280.8 1071.5,299.8 1072,270.9 1072,299.4 1072.5,281.6 1072.5,298.4 1073,281 1073,300 1073.5,280.2 1073.5,302 1074,282.4 1074,300.7 1074.5,279 1074.5,302.5 1075,281.7 1075,302.6 1075.5,277.5 1075.5,303.1 1076,281.5 1076,305.1 1076.5,282.5 1076.5,299" fill="none" stroke="#000" stroke-width="1" stroke-linejoin="bevel"/>
<line x1="1076.8" y1="303" x2="1076.8" y2="209.6" stroke="#333" stroke-width="1.6"/>
<polygon points="1077.1,240.5 1077.6,246.7 1078.1,248.1 1078.6,252.7 1079.1,254 1079.6,261.8 1080.1,263.1 1080.6,262.7 1081.1,266.4 1081.6,269.6 1082.1,270.5 1082.6,271.7 1083.1,271.1 1083.6,272.5 1084.1,274.6 1084.6,276.7 1085.1,274.9 1085.6,275.2 1086.1,279.2 1086.6,276.6 1087.1,280.1 1087.6,279.3 1088.1,280.7 1088.6,282.4 1089.1,281.1 1089.6,281.6 1090.1,279.3 1090.6,279.9 1091.1,282.2 1091.6,283.7 1092.1,283.7 1092.6,285.3 1093.1,282.4 1093.6,282.4 1094.1,283.8 1094.6,282.5 1095.1,282.5 1095.6,281.1 1096.1,284.3 1096.6,281.3 1097.1,283.8 1097.6,281 1098.1,284.9 1098.6,281.8 1099.1,284.8 1099.6,281.2 1100.1,283 1100.6,285.6 1101.1,282.7 1101.6,284.1 1102.1,283.3 1102.6,280.7 1103.1,284.7 1103.6,285 1104.1,282.8 1104.6,285.4 1105.1,283.4 1105.6,283.2 1106.1,284.8 1106.6,283.8 1107.1,288.4 1107.1,301.1 1106.6,303.1 1106.1,297.7 1105.6,300.2 1105.1,302.7 1104.6,301.1 1104.1,302.9 1103.6,298.4 1103.1,300 1102.6,299.2 1102.1,301.6 1101.6,301.7 1101.1,300.4 1100.6,300.3 1100.1,298.6 1099.6,300.4 1099.1,296.9 1098.6,298.5 1098.1,300 1097.6,297.9 1097.1,298 1096.6,298.1 1096.1,299.6 1095.6,297.5 1095.1,298 1094.6,297.7 1094.1,299.5 1093.6,297.7 1093.1,296.7 1092.6,293.3 1092.1,297.5 1091.6,298.9 1091.1,295.9 1090.6,296.9 1090.1,296.4 1089.6,296.3 1089.1,293.6 1088.6,294.2 1088.1,293.5 1087.6,293.2 1087.1,291.4 1086.6,293.8 1086.1,293.4 1085.6,293.6 1085.1,288 1084.6,289.4 1084.1,288.4 1083.6,285.2 1083.1,285.5 1082.6,279.5 1082.1,280.2 1081.6,279.2 1081.1,279.2 1080.6,275.4 1080.1,271.2 1079.6,269.6 1079.1,262.4 1078.6,257.9 1078.1,257.7 1077.6,252.1 1077.1,242.7" fill="#000"/>
<polyline points="1077.1,240.8 1077.1,245.2 1077.6,241.9 1077.6,253.7 1078.1,245.6 1078.1,258.5 1078.6,253.2 1078.6,262.2 1079.1,254.9 1079.1,268.2 1079.6,257.1 1079.6,270.5 1080.1,260.9 1080.1,272.3 1080.6,254.4 1080.6,276 1081.1,263.5 1081.1,282.7 1081.6,268.1 1081.6,281.2 1082.1,267.8 1082.1,284.1 1082.6,268.6 1082.6,287.7 1083.1,271.9 1083.1,285.7 1083.6,272.2 1083.6,290 1084.1,273.4 1084.1,291.5 1084.6,273.8 1084.6,290 1085.1,272.6 1085.1,292 1085.6,276.1 1085.6,291.8 1086.1,273.3 1086.1,292.3 1086.6,273.4 1086.6,292.8 1087.1,277.3 1087.1,294.9 1087.6,276.9 1087.6,298.4 1088.1,276.9 1088.1,294.9 1088.6,279.1 1088.6,298.9 1089.1,273.7 1089.1,295.8 1089.6,279.2 1089.6,298.9 1090.1,279.3 1090.1,297.7 1090.6,278.5 1090.6,300.8 1091.1,280.1 1091.1,298.9 1091.6,279.7 1091.6,300.6 1092.1,281.1 1092.1,299.3 1092.6,278.2 1092.6,299.7 1093.1,277.5 1093.1,302.9 1093.6,280.4 1093.6,300.5 1094.1,276.8 1094.1,299 1094.6,280.4 1094.6,298.2 1095.1,273.7 1095.1,299.2 1095.6,280.9 1095.6,299.1 1096.1,280.9 1096.1,300.9 1096.6,280.6 1096.6,308.9 1097.1,283 1097.1,299.2 1097.6,282.3 1097.6,303.1 1098.1,279.8 1098.1,301.1 1098.6,276.2 1098.6,300.2 1099.1,281.4 1099.1,300.2 1099.6,282.4 1099.6,302.2 1100.1,280.4 1100.1,301 1100.6,283.7 1100.6,302.3 1101.1,276.9 1101.1,300.3 1101.6,280.8 1101.6,304.5 1102.1,276.8 1102.1,300 1102.6,283.4 1102.6,300.1 1103.1,280.9 1103.1,301.3 1103.6,280.4 1103.6,301.1 1104.1,282.2 1104.1,303.6 1104.6,281.9 1104.6,302.8 1105.1,284 1105.1,305.5 1105.6,283.9 1105.6,301.4 1106.1,283.5 1106.1,301.8 1106.6,284.3 1106.6,301.9 1107.1,284.4 1107.1,301.6" fill="none" stroke="#000" stroke-width="1" stroke-linejoin="bevel"/>
<line x1="1107.4" y1="305" x2="1107.4" y2="218.7" stroke="#333" stroke-width="1.6"/>
<polygon points="1107.7,252.4 1108.2,254.9 1108.7,257.7 1109.2,260.6 1109.7,262.5 1110.2,266.1 1110.7,266.4 1111.2,267.8 1111.7,270.2 1112.2,272.8 1112.7,273.2 1113.2,274.8 1113.7,271.7 1114.2,277.4 1114.7,279.9 1115.2,279.1 1115.7,277.2 1116.2,277 1116.7,279.1 1117.2,277.7 1117.7,280.6 1118.2,279.1 1118.7,281.6 1119.2,282.5 1119.7,277.7 1120.2,281.4 1120.7,280.1 1121.2,279.2 1121.7,280.6 1122.2,281.3 1122.7,283.4 1123.2,279.7 1123.7,283.7 1124.2,285.2 1124.7,283.2 1125.2,283.2 1125.7,282.5 1126.2,280.8 1126.7,283.5 1127.2,283.3 1127.7,283.9 1128.2,286.7 1128.7,284.1 1129.2,283.7 1129.7,285.4 1130.2,281.1 1130.7,281.5 1131.2,282.7 1131.7,282.4 1132.2,284.4 1132.7,283 1133.2,286.1 1133.7,285.8 1134.2,284.8 1134.7,283.1 1135.2,284.7 1135.7,285 1136.2,282.2 1136.7,284.4 1137.2,285 1137.2,300.6 1136.7,302 1136.2,299.5 1135.7,296.2 1135.2,302.9 1134.7,297.8 1134.2,297.7 1133.7,298.8 1133.2,300.6 1132.7,299.3 1132.2,299.2 1131.7,299.3 1131.2,298.5 1130.7,297.1 1130.2,296.3 1129.7,295.9 1129.2,300.6 1128.7,298 1128.2,300 1127.7,299.1 1127.2,296.5 1126.7,298.6 1126.2,297.8 1125.7,299.8 1125.2,299.1 1124.7,297.4 1124.2,298.6 1123.7,297.1 1123.2,299.3 1122.7,296.3 1122.2,297.3 1121.7,294.2 1121.2,299.2 1120.7,297 1120.2,296.2 1119.7,295.7 1119.2,295.2 1118.7,296.4 1118.2,292.5 1117.7,296.3 1117.2,294.2 1116.7,295.8 1116.2,293.4 1115.7,292.3 1115.2,292.8 1114.7,289.6 1114.2,291.4 1113.7,285.4 1113.2,286 1112.7,286.1 1112.2,283.5 1111.7,282.4 1111.2,277.6 1110.7,277.3 1110.2,272.4 1109.7,270.7 1109.2,265.8 1108.7,264.9 1108.2,260.9 1107.7,253.9" fill="#000"/>
<polyline points="1107.7,247.6 1107.7,253.5 1108.2,251.2 1108.2,260.5 1108.7,253.3 1108.7,263.9 1109.2,255.3 1109.2,268.7 1109.7,259.7 1109.7,272.8 1110.2,264.4 1110.2,283.7 1110.7,265.4 1110.7,277.5 1111.2,267.5 1111.2,281.4 1111.7,268.7 1111.7,281.9 1112.2,271 1112.2,285.4 1112.7,267.3 1112.7,286.9 1113.2,273.7 1113.2,286.5 1113.7,273.8 1113.7,287.9 1114.2,272.2 1114.2,289.7 1114.7,275.2 1114.7,292.6 1115.2,269.3 1115.2,292.2 1115.7,275.7 1115.7,293.4 1116.2,277.1 1116.2,294.3 1116.7,275.7 1116.7,296.7 1117.2,275.8 1117.2,296.6 1117.7,278.7 1117.7,296.4 1118.2,278.6 1118.2,294.8 1118.7,274.6 1118.7,296.6 1119.2,278.3 1119.2,298.3 1119.7,280.3 1119.7,295.9 1120.2,277.4 1120.2,296.3 1120.7,280.5 1120.7,298.2 1121.2,281.2 1121.2,298.3 1121.7,280.4 1121.7,299.5 1122.2,280.4 1122.2,298.2 1122.7,275.8 1122.7,298.7 1123.2,281.4 1123.2,306.8 1123.7,281.5 1123.7,298.6 1124.2,279.5 1124.2,299.9 1124.7,282 1124.7,298.4 1125.2,279.7 1125.2,299.2 1125.7,281.2 1125.7,298.8 1126.2,281.1 1126.2,300.1 1126.7,282.2 1126.7,299.9 1127.2,282.1 1127.2,302 1127.7,280.3 1127.7,302.7 1128.2,282 1128.2,300.4 1128.7,279.3 1128.7,302.5 1129.2,279.6 1129.2,301.9 1129.7,282.8 1129.7,300.7 1130.2,283.1 1130.2,301.4 1130.7,282.5 1130.7,299.4 1131.2,282.4 1131.2,299.6 1131.7,279.1 1131.7,301.6 1132.2,279.5 1132.2,301.9 1132.7,280.8 1132.7,301.3 1133.2,282.2 1133.2,302.1 1133.7,272.3 1133.7,301.4 1134.2,280.1 1134.2,300 1134.7,280.6 1134.7,299.8 1135.2,282.6 1135.2,301.9 1135.7,283.7 1135.7,301 1136.2,282.9 1136.2,300.9 1136.7,280.5 1136.7,301 1137.2,283.1 1137.2,301.5" fill="none" stroke="#000" stroke-width="1" stroke-linejoin="bevel"/>
<line x1="1137.7" y1="304" x2="1137.7" y2="225.5" stroke="#333" stroke-width="1.6"/>
<polygon points="1138,254.2 1138.5,256.8 1139,262.4 1139.5,263.8 1140,263.6 1140.5,266.5 1141,269.4 1141.5,273.2 1142,273.6 1142.5,274.4 1143,271.5 1143.5,274.8 1144,276.5 1144.5,277 1145,277.6 1145.5,277.2 1146,280.6 1146.5,280.6 1147,278.6 1147.5,277.6 1148,282.4 1148.5,278.7 1149,281.6 1149.5,282.9 1150,278.7 1150.5,280.8 1151,279.9 1151.5,281.4 1152,281.2 1152.5,283.7 1153,281.8 1153.5,280.9 1154,282.7 1154.5,280.7 1155,280.6 1155.5,284.6 1156,280 1156.5,280.6 1157,281.4 1157.5,279.8 1158,278.3 1158.5,283 1159,280.3 1159.5,280.7 1160,281 1160.5,280.1 1161,280 1161.5,281.9 1162,285.2 1162.5,282.8 1163,282.8 1163.5,279.4 1164,281.7 1164.5,280 1165,282.9 1165.5,281.4 1166,281.9 1166.5,281.7 1167,281 1167.5,279.6 1168,282.7 1168.5,279.8 1168.5,296.7 1168,294.1 1167.5,297.1 1167,296.9 1166.5,297.4 1166,300.4 1165.5,297.9 1165,299.2 1164.5,298.3 1164,297.8 1163.5,296.8 1163,299.1 1162.5,299 1162,294.3 1161.5,297.3 1161,297 1160.5,299.7 1160,294.7 1159.5,297.7 1159,297.9 1158.5,300.8 1158,296.7 1157.5,298.7 1157,293.8 1156.5,295.9 1156,296.2 1155.5,299.7 1155,296.7 1154.5,300.1 1154,299.1 1153.5,296 1153,293.8 1152.5,296.7 1152,295.7 1151.5,294.9 1151,297.2 1150.5,296.6 1150,293.6 1149.5,292.9 1149,294.9 1148.5,296.6 1148,295.3 1147.5,296.5 1147,293 1146.5,289 1146,293.6 1145.5,292.1 1145,289.8 1144.5,289.5 1144,286.7 1143.5,286 1143,286.7 1142.5,281.9 1142,284.4 1141.5,281.3 1141,279.5 1140.5,277.2 1140,275.7 1139.5,271.6 1139,266.8 1138.5,263.6 1138,258" fill="#000"/>
<polyline points="1138,253.6 1138,262.6 1138.5,258.2 1138.5,265.3 1139,259.5 1139,272.5 1139.5,260 1139.5,276.3 1140,265.7 1140,275.9 1140.5,263.7 1140.5,277.6 1141,268.1 1141,280.8 1141.5,270.9 1141.5,282.5 1142,270.3 1142,283.4 1142.5,269.1 1142.5,287.6 1143,271 1143,287.5 1143.5,270.4 1143.5,287.6 1144,271.5 1144,290.3 1144.5,274.7 1144.5,295.7 1145,273.8 1145,292.1 1145.5,275.5 1145.5,292.5 1146,275.3 1146,292.9 1146.5,277.8 1146.5,293.2 1147,278.1 1147,293.2 1147.5,276.9 1147.5,293.8 1148,278.7 1148,298.3 1148.5,276.3 1148.5,298.6 1149,276.4 1149,295.3 1149.5,279 1149.5,297.8 1150,278.5 1150,296.7 1150.5,279.7 1150.5,299.4 1151,278.3 1151,298.9 1151.5,278.9 1151.5,297.5 1152,278 1152,296.5 1152.5,280.3 1152.5,300.9 1153,278.4 1153,300.8 1153.5,277.9 1153.5,300.4 1154,278.6 1154,298.3 1154.5,277.6 1154.5,297.9 1155,280.7 1155,298.5 1155.5,281.2 1155.5,300.6 1156,280.4 1156,300.5 1156.5,280.2 1156.5,297.7 1157,279.9 1157,306.2 1157.5,280.5 1157.5,299.8 1158,281.1 1158,300.8 1158.5,278.1 1158.5,299.2 1159,279.7 1159,298.2 1159.5,276.4 1159.5,302.5 1160,279.3 1160,298.2 1160.5,280.3 1160.5,299.6 1161,278.6 1161,299.6 1161.5,278.9 1161.5,299.2 1162,281.2 1162,303.2 1162.5,279.6 1162.5,300.7 1163,280.7 1163,299.2 1163.5,279.1 1163.5,299.6 1164,281.6 1164,301.3 1164.5,277.7 1164.5,300.2 1165,280.6 1165,298.9 1165.5,281.2 1165.5,298.6 1166,279.5 1166,301.2 1166.5,276.3 1166.5,304.5 1167,281.4 1167,299.2 1167.5,278 1167.5,301.1 1168,281 1168,300.9 1168.5,281.9 1168.5,300.1" fill="none" stroke="#000" stroke-width="1" stroke-linejoin="bevel"/>
<line x1="1169" y1="302" x2="1169" y2="222" stroke="#333" stroke-width="1.6"/>
<polygon points="1169.3,255.6 1169.8,252.5 1170.3,258 1170.8,262.2 1171.3,260.9 1171.8,264.3 1172.3,269.4 1172.8,269.8 1173.3,267.6 1173.8,272.2 1174.3,272.8 1174.8,273.1 1175.3,273.3 1175.8,273.7 1176.3,272.7 1176.8,273.7 1177.3,276.1 1177.8,275.6 1178.3,278.5 1178.8,275.6 1179.3,272.7 1179.8,276.1 1180.3,277.2 1180.8,277.6 1181.3,277.3 1181.8,276.1 1182.3,279.7 1182.8,276.6 1183.3,278.8 1183.8,277.4 1184.3,276.1 1184.8,280.1 1185.3,274.3 1185.8,276.9 1186.3,278.9 1186.8,277.7 1187.3,279.5 1187.8,278.2 1188.3,277.7 1188.8,281.7 1189.3,278.2 1189.8,278.3 1190.3,276.9 1190.8,277.5 1191.3,279.6 1191.8,279.5 1192.3,278.7 1192.8,277.7 1193.3,279.8 1193.8,276.2 1194.3,278.3 1194.8,278.4 1195.3,277.6 1195.8,279.1 1196.3,277.9 1196.8,277.7 1197.3,281.6 1197.8,280 1198.3,280.7 1198.3,295.4 1197.8,294 1197.3,297.5 1196.8,294.9 1196.3,294.7 1195.8,295.8 1195.3,296.2 1194.8,295.1 1194.3,294.4 1193.8,293.6 1193.3,293.4 1192.8,290 1192.3,295.8 1191.8,295.9 1191.3,295.2 1190.8,294.1 1190.3,295.6 1189.8,295.7 1189.3,295 1188.8,294 1188.3,294.2 1187.8,295.3 1187.3,295.9 1186.8,293.2 1186.3,293.6 1185.8,298.3 1185.3,293.2 1184.8,295 1184.3,293.3 1183.8,292.2 1183.3,294.1 1182.8,294.9 1182.3,294 1181.8,294.3 1181.3,291.6 1180.8,292.3 1180.3,291.2 1179.8,291.2 1179.3,293.3 1178.8,289.1 1178.3,290.8 1177.8,292.2 1177.3,291.1 1176.8,287.6 1176.3,289.4 1175.8,288.2 1175.3,284.6 1174.8,285.3 1174.3,283.1 1173.8,279.5 1173.3,274.7 1172.8,278 1172.3,276.4 1171.8,273.3 1171.3,274.5 1170.8,269.8 1170.3,265.7 1169.8,262.2 1169.3,256.4" fill="#000"/>
<polyline points="1169.3,248.6 1169.3,257.2 1169.8,254.6 1169.8,261 1170.3,257.7 1170.3,266.8 1170.8,259.9 1170.8,268.6 1171.3,262.7 1171.3,273.4 1171.8,258.4 1171.8,273.7 1172.3,266.1 1172.3,278.1 1172.8,265.1 1172.8,282.9 1173.3,268.6 1173.3,281.7 1173.8,269.9 1173.8,287.2 1174.3,269.7 1174.3,285.3 1174.8,270.5 1174.8,289.5 1175.3,272.5 1175.3,287.1 1175.8,270 1175.8,286.8 1176.3,268.1 1176.3,289.6 1176.8,270.6 1176.8,288.9 1177.3,273.1 1177.3,290.2 1177.8,273 1177.8,289.7 1178.3,275.1 1178.3,292.4 1178.8,273.7 1178.8,290.9 1179.3,267.9 1179.3,292.4 1179.8,272.8 1179.8,292.4 1180.3,274.3 1180.3,292.5 1180.8,276 1180.8,300.7 1181.3,275.9 1181.3,293.5 1181.8,276.4 1181.8,296.7 1182.3,275.5 1182.3,293.5 1182.8,276.9 1182.8,297.1 1183.3,273.5 1183.3,294.3 1183.8,277.4 1183.8,293.5 1184.3,275.8 1184.3,296.4 1184.8,276.3 1184.8,296.1 1185.3,277.1 1185.3,298.1 1185.8,277.7 1185.8,298.4 1186.3,274.5 1186.3,297 1186.8,278 1186.8,297.7 1187.3,277.7 1187.3,305.1 1187.8,273.9 1187.8,296.2 1188.3,276.1 1188.3,299.8 1188.8,278.1 1188.8,298.9 1189.3,276.9 1189.3,298.7 1189.8,277.8 1189.8,297.9 1190.3,278 1190.3,294.7 1190.8,277.7 1190.8,296.7 1191.3,277.5 1191.3,297.9 1191.8,277.1 1191.8,296.1 1192.3,275.5 1192.3,296.7 1192.8,268.4 1192.8,294.9 1193.3,275.3 1193.3,302.5 1193.8,274.9 1193.8,298.1 1194.3,278.6 1194.3,295.6 1194.8,273.6 1194.8,298.2 1195.3,276.5 1195.3,296.9 1195.8,278.1 1195.8,297.2 1196.3,274 1196.3,297.4 1196.8,277.4 1196.8,296.6 1197.3,276.1 1197.3,298.6 1197.8,275.4 1197.8,295.2 1198.3,277.6 1198.3,295" fill="none" stroke="#000" stroke-width="1" stroke-linejoin="bevel"/>
<line x1="1198.9" y1="299" x2="1198.9" y2="223.2" stroke="#333" stroke-width="1.6"/>
<polygon points="1199.2,254.6 1199.7,257.1 1200.2,259 1200.7,259.5 1201.2,264.5 1201.7,265.6 1202.2,263.7 1202.7,265.2 1203.2,268.2 1203.7,266.1 1204.2,268.7 1204.7,268.9 1205.2,268.3 1205.7,269.6 1206.2,268.1 1206.7,270 1207.2,268.2 1207.7,275 1208.2,274.1 1208.7,273.9 1209.2,272.8 1209.7,274 1210.2,274.6 1210.7,274.4 1211.2,274.4 1211.7,271.8 1212.2,273.9 1212.7,272.5 1213.2,271.7 1213.7,271.8 1214.2,274.2 1214.7,275.2 1215.2,271.7 1215.7,276.4 1216.2,276 1216.7,273.3 1217.2,273.2 1217.7,273.8 1218.2,275.5 1218.7,273.4 1219.2,272.4 1219.7,274.6 1220.2,271 1220.7,274.3 1221.2,275.9 1221.7,274.6 1222.2,275.4 1222.7,275 1223.2,275.3 1223.7,274.5 1224.2,273 1224.7,274 1225.2,274.2 1225.7,276.2 1226.2,276.8 1226.7,275 1227.2,273.3 1227.7,273.3 1228.2,274.2 1228.7,276.5 1229.2,275 1229.2,288.8 1228.7,289.7 1228.2,289.7 1227.7,288 1227.2,290.5 1226.7,290.1 1226.2,288.4 1225.7,292.4 1225.2,289.6 1224.7,289.3 1224.2,288.7 1223.7,289.9 1223.2,290.5 1222.7,288.6 1222.2,287.9 1221.7,287.1 1221.2,288.3 1220.7,289.8 1220.2,287.4 1219.7,288.8 1219.2,288.3 1218.7,288.3 1218.2,287.4 1217.7,286.1 1217.2,288.1 1216.7,293.4 1216.2,287.5 1215.7,287.7 1215.2,288.4 1214.7,289.3 1214.2,285.3 1213.7,287.9 1213.2,288.2 1212.7,285.2 1212.2,289.7 1211.7,287.6 1211.2,285.9 1210.7,287.2 1210.2,284 1209.7,286.9 1209.2,281.4 1208.7,287 1208.2,286.1 1207.7,284.8 1207.2,285.1 1206.7,282.3 1206.2,282.6 1205.7,281 1205.2,281.2 1204.7,281.8 1204.2,279.5 1203.7,280 1203.2,279.3 1202.7,275 1202.2,276 1201.7,271.7 1201.2,269.2 1200.7,267.2 1200.2,265.3 1199.7,259.6 1199.2,257" fill="#000"/>
<polyline points="1199.2,251.9 1199.2,259.7 1199.7,255.3 1199.7,266.6 1200.2,255.7 1200.2,268.2 1200.7,256.6 1200.7,267.3 1201.2,260.5 1201.2,269.3 1201.7,258.7 1201.7,275.8 1202.2,260.5 1202.2,275.3 1202.7,262.7 1202.7,277.3 1203.2,264.2 1203.2,277.9 1203.7,264.2 1203.7,281.6 1204.2,265.1 1204.2,282.2 1204.7,264.6 1204.7,281.8 1205.2,267.1 1205.2,285.4 1205.7,266.5 1205.7,283.2 1206.2,269.3 1206.2,284.4 1206.7,267.8 1206.7,286.2 1207.2,270 1207.2,286.1 1207.7,270.4 1207.7,287.8 1208.2,271.7 1208.2,286.2 1208.7,271.3 1208.7,286.3 1209.2,270.1 1209.2,290 1209.7,270.5 1209.7,288.5 1210.2,270.9 1210.2,289.6 1210.7,268.7 1210.7,297.4 1211.2,272.7 1211.2,289.1 1211.7,271.8 1211.7,291.8 1212.2,272.6 1212.2,290.6 1212.7,272.5 1212.7,290.4 1213.2,269.1 1213.2,288.6 1213.7,273.4 1213.7,288.6 1214.2,272.6 1214.2,289.7 1214.7,267.6 1214.7,293.5 1215.2,269.9 1215.2,294.6 1215.7,270.7 1215.7,290.3 1216.2,271.2 1216.2,289.7 1216.7,272.9 1216.7,290.2 1217.2,272.7 1217.2,290.9 1217.7,272.6 1217.7,289.8 1218.2,270.6 1218.2,291.5 1218.7,273.2 1218.7,289.9 1219.2,271.8 1219.2,292.6 1219.7,273.1 1219.7,291.1 1220.2,272.4 1220.2,293.3 1220.7,272.6 1220.7,289.8 1221.2,272.3 1221.2,289.5 1221.7,268 1221.7,290.5 1222.2,270.6 1222.2,294.9 1222.7,270.4 1222.7,291 1223.2,272 1223.2,290.3 1223.7,273.3 1223.7,294.6 1224.2,274.3 1224.2,291.7 1224.7,271.3 1224.7,293.7 1225.2,271.5 1225.2,289.3 1225.7,272.9 1225.7,293.8 1226.2,273.6 1226.2,290.8 1226.7,274.3 1226.7,298.1 1227.2,271.1 1227.2,290.7 1227.7,273.5 1227.7,290.2 1228.2,273.9 1228.2,291.8 1228.7,273.7 1228.7,296.1 1229.2,274.1 1229.2,290.6" fill="none" stroke="#000" stroke-width="1" stroke-linejoin="bevel"/>
<line x1="1229.8" y1="287" x2="1229.8" y2="225" stroke="#222" stroke-width="1.8"/>
<polygon points="895.8,66.5 896.3,64.1 896.8,66.5 897.3,69.5 897.8,69.3 898.3,67.1 898.8,69 899.3,67 899.8,66.2 900.3,69.7 900.8,69.6 901.3,70.4 901.8,70 902.3,71 902.8,70.1 903.3,72 903.8,73 904.3,72 904.8,73.8 905.3,70.2 905.8,72.2 906.3,76.1 906.8,77 907.3,75.1 907.8,75 908.3,73.6 908.8,76.7 909.3,77.8 909.8,74.8 910.3,78.5 910.8,78.9 911.3,79.4 911.8,77.6 912.3,80.8 912.8,78.3 913.3,83.6 913.8,82.3 914.3,81 914.8,85.8 915.3,86.4 915.8,84.6 916.3,90.2 916.8,86.4 917.3,89.8 917.8,92.7 918.3,88.9 918.8,95.9 919.3,96.3 919.8,98.7 920.3,99.7 920.3,130.8 919.8,128 919.3,127.4 918.8,123.8 918.3,122.3 917.8,118.5 917.3,118.8 916.8,118.9 916.3,116.1 915.8,116.4 915.3,113.4 914.8,114.3 914.3,110.1 913.8,110.1 913.3,111.1 912.8,110.3 912.3,106.7 911.8,109.4 911.3,108 910.8,109.1 910.3,107.1 909.8,104.8 909.3,105.6 908.8,105.8 908.3,105.1 907.8,103.6 907.3,103.9 906.8,104.8 906.3,104.2 905.8,104.9 905.3,106.3 904.8,99.3 904.3,101.3 903.8,102.8 903.3,102.6 902.8,100.9 902.3,99.9 901.8,99.6 901.3,100.9 900.8,100.5 900.3,98.8 899.8,97.9 899.3,96.9 898.8,95.6 898.3,99.7 897.8,94.9 897.3,95.7 896.8,94.5 896.3,93.9 895.8,95.8" fill="#000"/>
<polyline points="895.8,62.8 895.8,98.6 896.3,64.3 896.3,97.9 896.8,65.9 896.8,96.5 897.3,59.5 897.3,97.5 897.8,61.2 897.8,100.9 898.3,63.9 898.3,102 898.8,64.3 898.8,99.9 899.3,67.8 899.3,98.1 899.8,68.1 899.8,100.5 900.3,68.5 900.3,103.3 900.8,66.4 900.8,103.3 901.3,69.3 901.3,102.4 901.8,69.5 901.8,101.3 902.3,69.1 902.3,101.6 902.8,66.6 902.8,102.8 903.3,67.9 903.3,106.1 903.8,68.7 903.8,103.1 904.3,71.7 904.3,102.3 904.8,66.4 904.8,103 905.3,71.2 905.3,104 905.8,71.5 905.8,104 906.3,73.4 906.3,106.7 906.8,73.2 906.8,104.4 907.3,70.3 907.3,106.5 907.8,70.5 907.8,106.2 908.3,74.8 908.3,110.6 908.8,75 908.8,111.4 909.3,73.3 909.3,107.5 909.8,73.2 909.8,108.7 910.3,75.5 910.3,109.7 910.8,76.4 910.8,109.2 911.3,75.3 911.3,111.7 911.8,78.2 911.8,111.3 912.3,78.6 912.3,111.4 912.8,79.1 912.8,110.7 913.3,79.2 913.3,113 913.8,75.7 913.8,117.6 914.3,81.5 914.3,117.1 914.8,78.4 914.8,116.4 915.3,75.8 915.3,116.1 915.8,70.5 915.8,121.8 916.3,85.6 916.3,120.2 916.8,87.1 916.8,123.9 917.3,87.9 917.3,119.5 917.8,84.7 917.8,121.6 918.3,89.2 918.3,123.5 918.8,93.2 918.8,127.8 919.3,95.4 919.3,126.8 919.8,98.4 919.8,129.8 920.3,101.1 920.3,136.3" fill="none" stroke="#000" stroke-width="1" stroke-linejoin="bevel"/>
<line x1="920.9" y1="109.2" x2="920.9" y2="135.5" stroke="#222" stroke-width="1.8"/>
<line x1="921.7" y1="142" x2="921.7" y2="110" stroke="#555" stroke-width="1.2"/>
<polygon points="921.2,68.3 921.7,68.4 922.2,68.5 922.7,68 923.2,67.2 923.7,73 924.2,71 924.7,71.4 925.2,74.5 925.7,71.4 926.2,72.8 926.7,72.3 927.2,74.4 927.7,73.7 928.2,73.7 928.7,73.1 929.2,74.3 929.7,76 930.2,71.2 930.7,74.6 931.2,74.5 931.7,75 932.2,72.7 932.7,77.2 933.2,75.1 933.7,76.4 934.2,76.3 934.7,74.8 935.2,77 935.7,75.2 936.2,77 936.7,78.3 937.2,79.1 937.7,79.6 938.2,79.6 938.7,83.5 939.2,81.3 939.7,79.1 940.2,80.4 940.7,80.7 941.2,81.9 941.7,81.7 942.2,81.8 942.7,86.1 943.2,84.1 943.7,84.1 944.2,84.8 944.7,85.4 945.2,88.6 945.7,87.9 946.2,89.6 946.7,83.8 947.2,90.1 947.7,92.2 948.2,94.8 948.7,92.9 949.2,91.6 949.7,96.7 950.2,96.5 950.7,96.6 951.2,100.6 951.7,105.6 952.2,108.6 952.2,133.3 951.7,131.7 951.2,130 950.7,124.1 950.2,124.7 949.7,122.8 949.2,121.1 948.7,121.8 948.2,118.6 947.7,118.2 947.2,119.4 946.7,115.9 946.2,114.3 945.7,111.7 945.2,113.8 944.7,114.1 944.2,113.8 943.7,111.8 943.2,111.3 942.7,110.9 942.2,111.8 941.7,108.2 941.2,109.3 940.7,110.5 940.2,108.4 939.7,109.3 939.2,105.6 938.7,109.2 938.2,104.2 937.7,107.2 937.2,106.1 936.7,106.1 936.2,106.5 935.7,105.5 935.2,105.4 934.7,105.6 934.2,104.2 933.7,103.4 933.2,103.5 932.7,102.2 932.2,100.4 931.7,101.7 931.2,102.2 930.7,102.5 930.2,103.9 929.7,101.6 929.2,100.8 928.7,99.9 928.2,101.6 927.7,101.4 927.2,96.6 926.7,99.5 926.2,98.8 925.7,98.7 925.2,99.7 924.7,98.7 924.2,99.7 923.7,95.1 923.2,96.9 922.7,94.9 922.2,100.3 921.7,94.4 921.2,96.9" fill="#000"/>
<polyline points="921.2,65.6 921.2,96.5 921.7,66.1 921.7,97.4 922.2,68.2 922.2,98.1 922.7,68.5 922.7,97.1 923.2,65.7 923.2,98.1 923.7,67.5 923.7,99.4 924.2,69.9 924.2,98.4 924.7,69.9 924.7,99.5 925.2,69.2 925.2,99.8 925.7,69.9 925.7,98.7 926.2,68.9 926.2,104.1 926.7,69 926.7,102.7 927.2,66.6 927.2,103.6 927.7,72.7 927.7,100.7 928.2,71.2 928.2,102.8 928.7,71.4 928.7,101.2 929.2,70.6 929.2,100.9 929.7,67.8 929.7,102.9 930.2,73.7 930.2,102.8 930.7,71 930.7,104 931.2,74.5 931.2,103 931.7,74.8 931.7,103.2 932.2,72.3 932.2,106.6 932.7,71.5 932.7,105.1 933.2,73.8 933.2,107.3 933.7,75.6 933.7,108.4 934.2,75.3 934.2,106.3 934.7,77.2 934.7,104.8 935.2,77 935.2,105.6 935.7,73.4 935.7,111.9 936.2,74.9 936.2,108.3 936.7,77.7 936.7,111 937.2,77 937.2,113.3 937.7,78.2 937.7,109.3 938.2,79.4 938.2,109.7 938.7,73.3 938.7,111 939.2,75.4 939.2,111.4 939.7,79.9 939.7,108.2 940.2,80.4 940.2,109 940.7,76.7 940.7,109.5 941.2,80.6 941.2,114.6 941.7,80.4 941.7,112 942.2,82.2 942.2,115.8 942.7,80.6 942.7,112.9 943.2,81 943.2,111.7 943.7,84.4 943.7,112.6 944.2,83.7 944.2,117 944.7,75.5 944.7,113.9 945.2,81.2 945.2,117.5 945.7,83.2 945.7,117.1 946.2,87.2 946.2,117.8 946.7,88.5 946.7,118.9 947.2,85 947.2,119 947.7,89.8 947.7,117.8 948.2,89.5 948.2,130.2 948.7,81.7 948.7,121.7 949.2,92.5 949.2,121.4 949.7,95.7 949.7,127.3 950.2,95.5 950.2,127.8 950.7,95.9 950.7,130.7 951.2,99.2 951.2,133.8 951.7,103.6 951.7,131.3 952.2,100.9 952.2,138.9" fill="none" stroke="#000" stroke-width="1" stroke-linejoin="bevel"/>
<line x1="952.5" y1="111.4" x2="952.5" y2="153.7" stroke="#222" stroke-width="1.8"/>
<line x1="953.3" y1="143.7" x2="953.3" y2="114.4" stroke="#555" stroke-width="1.2"/>
<polygon points="952.8,92.9 953.3,91.3 953.8,92.7 954.3,92.4 954.8,91.7 955.3,93.4 955.8,93.1 956.3,93 956.8,95.1 957.3,92.6 957.8,95.1 958.3,93.6 958.8,95.4 959.3,95.1 959.8,95.5 960.3,93.8 960.8,94.3 961.3,94.3 961.8,96.1 962.3,97.2 962.8,97.9 963.3,95.6 963.8,96.7 964.3,94.3 964.8,93.5 965.3,95.8 965.8,96.3 966.3,95.1 966.8,95 967.3,98.8 967.8,96.9 968.3,95.8 968.8,102.2 969.3,99.1 969.8,98.6 970.3,100.3 970.8,98.4 971.3,102.3 971.8,97.7 972.3,98.3 972.8,100.5 973.3,99.8 973.8,103.5 974.3,99.2 974.8,101 975.3,102.9 975.8,103.9 976.3,105.1 976.8,104.7 977.3,108.2 977.8,104.8 978.3,106.6 978.8,108.5 979.3,107.7 979.8,108.9 980.3,109.9 980.8,111 981.3,111.9 981.8,114.7 982.3,115.3 982.8,120.7 982.8,139 982.3,137.3 981.8,137.7 981.3,135.8 980.8,131.5 980.3,130.1 979.8,129.9 979.3,130.3 978.8,128.9 978.3,125.9 977.8,128.1 977.3,126.6 976.8,125.6 976.3,124.7 975.8,121.9 975.3,123.4 974.8,125.5 974.3,121.7 973.8,125.2 973.3,119.2 972.8,123.8 972.3,119.9 971.8,121.1 971.3,121.8 970.8,117.1 970.3,120.7 969.8,121.7 969.3,120.2 968.8,118.2 968.3,120.1 967.8,118.6 967.3,119.8 966.8,117.7 966.3,116.8 965.8,119.7 965.3,116.1 964.8,115.5 964.3,118.5 963.8,118.4 963.3,113.6 962.8,119.1 962.3,116.8 961.8,118 961.3,115.9 960.8,115.7 960.3,117 959.8,115 959.3,113.2 958.8,115.9 958.3,114.3 957.8,117 957.3,114 956.8,115.8 956.3,115.1 955.8,116.5 955.3,113.5 954.8,113.9 954.3,115.8 953.8,116.5 953.3,116.9 952.8,111.1" fill="#000"/>
<polyline points="952.8,80.6 952.8,118.2 953.3,92.6 953.3,114.5 953.8,92.3 953.8,116.7 954.3,90.5 954.3,118.6 954.8,92.3 954.8,114.9 955.3,90.1 955.3,115.7 955.8,89.3 955.8,116.7 956.3,93 956.3,118.1 956.8,91.9 956.8,119.2 957.3,89.3 957.3,117.5 957.8,93.4 957.8,117.2 958.3,92.6 958.3,118.6 958.8,92.3 958.8,117.4 959.3,93.7 959.3,118 959.8,93.2 959.8,124.7 960.3,94.5 960.3,117.5 960.8,90.8 960.8,117.5 961.3,95 961.3,117.6 961.8,94.6 961.8,119.1 962.3,82.2 962.3,121 962.8,96.1 962.8,119.2 963.3,93.6 963.3,119.2 963.8,93 963.8,117.9 964.3,91.7 964.3,119 964.8,92.8 964.8,119.9 965.3,95.1 965.3,118.4 965.8,97.3 965.8,120.2 966.3,94.6 966.3,120.4 966.8,96.6 966.8,122.6 967.3,94.7 967.3,122.2 967.8,93.4 967.8,119.8 968.3,97.1 968.3,121.1 968.8,97 968.8,121.9 969.3,98.4 969.3,120.6 969.8,96.3 969.8,122.1 970.3,95.6 970.3,133.4 970.8,98.3 970.8,122.8 971.3,98.2 971.3,121.3 971.8,97.9 971.8,124.1 972.3,96.3 972.3,123.7 972.8,99.8 972.8,126.7 973.3,96.2 973.3,123.5 973.8,98.4 973.8,123.1 974.3,101.3 974.3,125.1 974.8,101.9 974.8,127.7 975.3,99.6 975.3,127.4 975.8,99.1 975.8,124.6 976.3,102.4 976.3,129.4 976.8,104.1 976.8,127.4 977.3,103.3 977.3,127.4 977.8,99.6 977.8,128.6 978.3,104.1 978.3,128.5 978.8,105.7 978.8,131.6 979.3,106.8 979.3,134.6 979.8,107.7 979.8,131.5 980.3,109.7 980.3,132.3 980.8,110.3 980.8,135.5 981.3,112.3 981.3,137.8 981.8,113.5 981.8,139.1 982.3,117.4 982.3,140.1 982.8,118.4 982.8,143.5" fill="none" stroke="#000" stroke-width="1" stroke-linejoin="bevel"/>
<line x1="983.4" y1="123.7" x2="983.4" y2="162" stroke="#222" stroke-width="1.8"/>
<line x1="984.2" y1="155.1" x2="984.2" y2="131.2" stroke="#555" stroke-width="1.2"/>
<polygon points="983.7,106.5 984.2,103.5 984.7,106.5 985.2,104.9 985.7,109.2 986.2,109.6 986.7,110 987.2,108.7 987.7,106.9 988.2,109.2 988.7,107.6 989.2,109 989.7,106.8 990.2,107.4 990.7,109.2 991.2,111.3 991.7,108.7 992.2,112.3 992.7,113.3 993.2,107.2 993.7,109.3 994.2,108 994.7,109.4 995.2,108.9 995.7,109.8 996.2,111.5 996.7,111.7 997.2,110.8 997.7,110.5 998.2,110.9 998.7,111.1 999.2,111.9 999.7,111.3 1000.2,112.2 1000.7,109.6 1001.2,113.1 1001.7,114.8 1002.2,112.6 1002.7,110.4 1003.2,115 1003.7,112.7 1004.2,108.9 1004.7,113.6 1005.2,115.2 1005.7,115.3 1006.2,117.1 1006.7,116.7 1007.2,116.5 1007.7,114 1008.2,116.1 1008.7,118.9 1009.2,120.6 1009.7,119.1 1010.2,121 1010.7,124 1011.2,121.9 1011.7,123.7 1012.2,128.4 1012.7,131.6 1012.7,150.7 1012.2,153.7 1011.7,145.4 1011.2,143.4 1010.7,139.5 1010.2,139.8 1009.7,136.3 1009.2,142 1008.7,137.6 1008.2,136.9 1007.7,137.4 1007.2,134.4 1006.7,137.1 1006.2,135 1005.7,133 1005.2,133.1 1004.7,133 1004.2,130.9 1003.7,132.5 1003.2,130.1 1002.7,132.3 1002.2,129.1 1001.7,133.9 1001.2,129.5 1000.7,132.1 1000.2,128.5 999.7,128.2 999.2,129.9 998.7,128.4 998.2,128.9 997.7,130.3 997.2,130.6 996.7,131 996.2,129.2 995.7,126.6 995.2,128.9 994.7,128.1 994.2,130.1 993.7,128.4 993.2,127.3 992.7,127.2 992.2,127.8 991.7,126.2 991.2,128 990.7,128.9 990.2,126.4 989.7,129.2 989.2,127.7 988.7,128.8 988.2,128.1 987.7,125.8 987.2,127.5 986.7,126.8 986.2,126.1 985.7,127.1 985.2,123.9 984.7,125.9 984.2,122.2 983.7,124.8" fill="#000"/>
<polyline points="983.7,101.5 983.7,129.2 984.2,102 984.2,126.2 984.7,102.6 984.7,128.2 985.2,104.4 985.2,126.9 985.7,105.2 985.7,126.4 986.2,104.2 986.2,127.1 986.7,105.5 986.7,128.7 987.2,105.1 987.2,128.5 987.7,101.6 987.7,126.8 988.2,106.7 988.2,133.9 988.7,107.7 988.7,133.2 989.2,105.7 989.2,130.6 989.7,107.8 989.7,128.9 990.2,107.8 990.2,127.5 990.7,107.1 990.7,129.6 991.2,102.3 991.2,133.4 991.7,108.5 991.7,134.1 992.2,107.5 992.2,131.6 992.7,108.1 992.7,134.1 993.2,107.2 993.2,130.6 993.7,104.3 993.7,130.1 994.2,98.6 994.2,129.2 994.7,108.8 994.7,138.3 995.2,109.6 995.2,129.1 995.7,104.5 995.7,132.6 996.2,109.5 996.2,129.3 996.7,106.4 996.7,130.7 997.2,109.1 997.2,131.4 997.7,105.4 997.7,132.7 998.2,108.5 998.2,130.8 998.7,110.3 998.7,134 999.2,110.3 999.2,131.5 999.7,110.1 999.7,131.8 1000.2,109 1000.2,133.5 1000.7,109.1 1000.7,132.1 1001.2,109 1001.2,132.7 1001.7,109.3 1001.7,131.3 1002.2,108.1 1002.2,134.9 1002.7,110.7 1002.7,135.3 1003.2,112 1003.2,132.8 1003.7,110.4 1003.7,134 1004.2,109.3 1004.2,139 1004.7,110.9 1004.7,134.7 1005.2,102.9 1005.2,133.6 1005.7,112.4 1005.7,134.4 1006.2,114.4 1006.2,134.8 1006.7,112.8 1006.7,134.9 1007.2,116.3 1007.2,137.6 1007.7,116.3 1007.7,138.6 1008.2,115.5 1008.2,137.8 1008.7,115.2 1008.7,137.9 1009.2,117.5 1009.2,142.1 1009.7,119.6 1009.7,140.5 1010.2,120.4 1010.2,141.6 1010.7,122.4 1010.7,144.1 1011.2,124.4 1011.2,144.4 1011.7,122.3 1011.7,147.2 1012.2,128.3 1012.2,148.3 1012.7,128.9 1012.7,151.5" fill="none" stroke="#000" stroke-width="1" stroke-linejoin="bevel"/>
<line x1="1013.3" y1="133.8" x2="1013.3" y2="168.5" stroke="#222" stroke-width="1.8"/>
<line x1="1014.1" y1="165" x2="1014.1" y2="142.9" stroke="#555" stroke-width="1.2"/>
<polygon points="1013.6,111.1 1014.1,113 1014.6,110.2 1015.1,111.6 1015.6,109.1 1016.1,112.7 1016.6,109.8 1017.1,109.7 1017.6,111.2 1018.1,115.4 1018.6,110.9 1019.1,110 1019.6,112.7 1020.1,112.4 1020.6,114.7 1021.1,110.3 1021.6,109.9 1022.1,111.9 1022.6,113.1 1023.1,113.1 1023.6,114.3 1024.1,110.4 1024.6,111.6 1025.1,112.7 1025.6,114.3 1026.1,113.8 1026.6,112.5 1027.1,111.7 1027.6,114.7 1028.1,114.9 1028.6,117.8 1029.1,113.4 1029.6,116.3 1030.1,112.1 1030.6,113.3 1031.1,113.2 1031.6,113.7 1032.1,113.2 1032.6,113.9 1033.1,114.8 1033.6,114.4 1034.1,116.3 1034.6,115.4 1035.1,115.8 1035.6,118.3 1036.1,116.8 1036.6,116.9 1037.1,117.1 1037.6,117.6 1038.1,118.9 1038.6,117.4 1039.1,121 1039.6,122.4 1040.1,122.5 1040.6,120.9 1041.1,120.3 1041.6,123.3 1042.1,125.6 1042.6,128.2 1043.1,128.5 1043.6,130.4 1044.1,135.5 1044.1,152.7 1043.6,149.5 1043.1,147.5 1042.6,146.3 1042.1,142.8 1041.6,141.4 1041.1,142 1040.6,139.3 1040.1,137.2 1039.6,136.4 1039.1,138.1 1038.6,134.8 1038.1,134 1037.6,134.7 1037.1,133.3 1036.6,138 1036.1,137.9 1035.6,134.5 1035.1,135.1 1034.6,133.6 1034.1,132.5 1033.6,133.7 1033.1,132.8 1032.6,132 1032.1,131.4 1031.6,132.3 1031.1,134.1 1030.6,133.9 1030.1,133.6 1029.6,133 1029.1,128.8 1028.6,131.6 1028.1,133.7 1027.6,127.4 1027.1,133.5 1026.6,131.3 1026.1,134.3 1025.6,131.9 1025.1,129.6 1024.6,133.6 1024.1,131.7 1023.6,130.5 1023.1,129.1 1022.6,130.7 1022.1,131.1 1021.6,127.8 1021.1,127.9 1020.6,129.7 1020.1,129.6 1019.6,128.4 1019.1,130.3 1018.6,129.2 1018.1,130.4 1017.6,127.3 1017.1,126.7 1016.6,128 1016.1,128.6 1015.6,129.8 1015.1,127.2 1014.6,130.5 1014.1,130.7 1013.6,128" fill="#000"/>
<polyline points="1013.6,108.1 1013.6,129.6 1014.1,108.9 1014.1,132.1 1014.6,108 1014.6,129.7 1015.1,110.4 1015.1,129.4 1015.6,107.4 1015.6,129.5 1016.1,106.1 1016.1,130.2 1016.6,108.8 1016.6,131.3 1017.1,109.2 1017.1,131.1 1017.6,108.7 1017.6,133.3 1018.1,110 1018.1,132.4 1018.6,107.4 1018.6,131.7 1019.1,111.7 1019.1,131.9 1019.6,110 1019.6,134.3 1020.1,109.6 1020.1,134 1020.6,110.3 1020.6,133.6 1021.1,111.1 1021.1,133.3 1021.6,109.1 1021.6,132.9 1022.1,110.4 1022.1,132.5 1022.6,112.1 1022.6,132.9 1023.1,111.3 1023.1,130.7 1023.6,112.1 1023.6,133.5 1024.1,112.2 1024.1,133.9 1024.6,108.7 1024.6,132.5 1025.1,103.2 1025.1,135.6 1025.6,112.4 1025.6,135.5 1026.1,107.9 1026.1,133.7 1026.6,108.4 1026.6,131.8 1027.1,112.7 1027.1,131.4 1027.6,109.7 1027.6,134.1 1028.1,109.9 1028.1,134 1028.6,111.7 1028.6,133.3 1029.1,110.3 1029.1,135.4 1029.6,112.7 1029.6,135 1030.1,111.9 1030.1,134.7 1030.6,110.7 1030.6,134.7 1031.1,112.4 1031.1,137.5 1031.6,111.1 1031.6,135.4 1032.1,109.8 1032.1,135.3 1032.6,110.7 1032.6,135.6 1033.1,113.7 1033.1,135 1033.6,114.7 1033.6,133.6 1034.1,113.7 1034.1,133.4 1034.6,111.1 1034.6,135.2 1035.1,112.1 1035.1,135.8 1035.6,109.2 1035.6,137.4 1036.1,116 1036.1,135.6 1036.6,114.1 1036.6,138.4 1037.1,111.2 1037.1,135.6 1037.6,115.2 1037.6,136.7 1038.1,116.8 1038.1,138.2 1038.6,118.4 1038.6,136.7 1039.1,115.3 1039.1,145.2 1039.6,115.7 1039.6,140.1 1040.1,119.3 1040.1,142.1 1040.6,120.9 1040.6,141.2 1041.1,120.3 1041.1,142.2 1041.6,123.2 1041.6,149.6 1042.1,123.8 1042.1,143.6 1042.6,125.6 1042.6,145.3 1043.1,125.1 1043.1,147.1 1043.6,127.6 1043.6,150.2 1044.1,133.2 1044.1,152.7" fill="none" stroke="#000" stroke-width="1" stroke-linejoin="bevel"/>
<line x1="1044.6" y1="134.9" x2="1044.6" y2="160" stroke="#222" stroke-width="1.8"/>
<line x1="1045.4" y1="165.7" x2="1045.4" y2="144.5" stroke="#555" stroke-width="1.2"/>
<polygon points="1044.9,108.9 1045.4,107.6 1045.9,108.5 1046.4,111 1046.9,107.6 1047.4,108.5 1047.9,107.3 1048.4,107.3 1048.9,108.2 1049.4,106.1 1049.9,105.2 1050.4,110.5 1050.9,108.4 1051.4,110.3 1051.9,108.8 1052.4,108.9 1052.9,109.8 1053.4,109.9 1053.9,107 1054.4,110.8 1054.9,107.5 1055.4,109.4 1055.9,113 1056.4,109.3 1056.9,111.8 1057.4,108.8 1057.9,110.3 1058.4,109.6 1058.9,110.2 1059.4,108.4 1059.9,108.4 1060.4,110.4 1060.9,107.6 1061.4,108.8 1061.9,111.2 1062.4,109.5 1062.9,109.2 1063.4,109 1063.9,111.2 1064.4,110.6 1064.9,111.6 1065.4,111.4 1065.9,114.8 1066.4,111.7 1066.9,109.8 1067.4,113.4 1067.9,113.7 1068.4,114.6 1068.9,112.5 1069.4,117.5 1069.9,116.6 1070.4,117.6 1070.9,116.4 1071.4,120.8 1071.9,121.5 1072.4,125.4 1072.9,124.7 1073.4,125.8 1073.4,146.1 1072.9,143 1072.4,139.8 1071.9,140.1 1071.4,138.6 1070.9,135.5 1070.4,132.6 1069.9,132.6 1069.4,128.5 1068.9,129.4 1068.4,131.2 1067.9,130.8 1067.4,129.5 1066.9,127.6 1066.4,128.4 1065.9,127.7 1065.4,126 1064.9,126.4 1064.4,128.2 1063.9,128 1063.4,129.6 1062.9,123.1 1062.4,126.6 1061.9,122.6 1061.4,125.6 1060.9,126.8 1060.4,124.9 1059.9,124.3 1059.4,126.2 1058.9,125.6 1058.4,125.9 1057.9,125.4 1057.4,125.9 1056.9,125.9 1056.4,126 1055.9,126.7 1055.4,126.3 1054.9,123 1054.4,124.2 1053.9,125.6 1053.4,125.7 1052.9,125.2 1052.4,126.8 1051.9,124.5 1051.4,121.2 1050.9,124.1 1050.4,124.7 1049.9,123.5 1049.4,124.3 1048.9,123.1 1048.4,123.5 1047.9,124.1 1047.4,123.8 1046.9,123.9 1046.4,122.4 1045.9,124.6 1045.4,122.5 1044.9,124.1" fill="#000"/>
<polyline points="1044.9,107.9 1044.9,124.5 1045.4,106.5 1045.4,126.4 1045.9,106.2 1045.9,125.3 1046.4,104.6 1046.4,126.9 1046.9,107.1 1046.9,124.6 1047.4,107.6 1047.4,125.1 1047.9,105.4 1047.9,125.7 1048.4,107.3 1048.4,126.1 1048.9,107.6 1048.9,124.7 1049.4,107 1049.4,127 1049.9,107.4 1049.9,126.9 1050.4,107.6 1050.4,128 1050.9,103.4 1050.9,126.6 1051.4,108.2 1051.4,126.3 1051.9,106.8 1051.9,126.7 1052.4,106.1 1052.4,126.6 1052.9,108.2 1052.9,128.5 1053.4,107.8 1053.4,130 1053.9,107.9 1053.9,125.1 1054.4,107.1 1054.4,135.1 1054.9,108.7 1054.9,126.5 1055.4,106.5 1055.4,125.7 1055.9,106.4 1055.9,125.8 1056.4,107.1 1056.4,127.4 1056.9,109.4 1056.9,135.2 1057.4,107 1057.4,127 1057.9,108.3 1057.9,127 1058.4,107.5 1058.4,130 1058.9,107.6 1058.9,126.3 1059.4,98.6 1059.4,127.4 1059.9,109.4 1059.9,126.2 1060.4,109.2 1060.4,128.4 1060.9,108.1 1060.9,126.6 1061.4,98.3 1061.4,126.6 1061.9,107.9 1061.9,136.5 1062.4,110.3 1062.4,127 1062.9,110.6 1062.9,127.3 1063.4,107.9 1063.4,126.9 1063.9,100.4 1063.9,130.5 1064.4,110.1 1064.4,127.4 1064.9,110.4 1064.9,130.5 1065.4,109.9 1065.4,137.6 1065.9,110.4 1065.9,132.4 1066.4,111.8 1066.4,129.2 1066.9,106.1 1066.9,131.2 1067.4,113.3 1067.4,134.3 1067.9,110.7 1067.9,132 1068.4,114.4 1068.4,133.6 1068.9,111.6 1068.9,131.3 1069.4,111.6 1069.4,135.8 1069.9,116.3 1069.9,133.4 1070.4,114 1070.4,134.2 1070.9,116.6 1070.9,137.8 1071.4,120.1 1071.4,137.3 1071.9,119.6 1071.9,140 1072.4,119.2 1072.4,141.6 1072.9,113.5 1072.9,143.9 1073.4,124.1 1073.4,145.6" fill="none" stroke="#000" stroke-width="1" stroke-linejoin="bevel"/>
<line x1="1074" y1="128.9" x2="1074" y2="157" stroke="#222" stroke-width="1.8"/>
<line x1="1074.8" y1="159.6" x2="1074.8" y2="140.2" stroke="#555" stroke-width="1.2"/>
<polygon points="1074.3,106.1 1074.8,104.5 1075.3,103.9 1075.8,106.4 1076.3,105.9 1076.8,102.4 1077.3,103.5 1077.8,103.6 1078.3,103.3 1078.8,101.8 1079.3,105.3 1079.8,104.2 1080.3,104.3 1080.8,106.2 1081.3,103.4 1081.8,104.2 1082.3,104.7 1082.8,103.8 1083.3,104.3 1083.8,105.6 1084.3,104.5 1084.8,106.6 1085.3,103.6 1085.8,105 1086.3,102.7 1086.8,104.7 1087.3,103.9 1087.8,107 1088.3,106.1 1088.8,105.9 1089.3,107.9 1089.8,107.4 1090.3,106.4 1090.8,104.5 1091.3,103.5 1091.8,105.6 1092.3,105.3 1092.8,105 1093.3,105.6 1093.8,103.8 1094.3,108.6 1094.8,104.9 1095.3,105.8 1095.8,107.9 1096.3,104.9 1096.8,109 1097.3,109.3 1097.8,107.9 1098.3,107.2 1098.8,108.6 1099.3,107.2 1099.8,112.6 1100.3,111.3 1100.8,111 1101.3,111.8 1101.8,115.1 1102.3,117.7 1102.8,115.1 1103.3,117.8 1103.8,118 1104.3,123.8 1104.3,136.2 1103.8,134.9 1103.3,129.8 1102.8,132.2 1102.3,134.7 1101.8,131.3 1101.3,128.7 1100.8,129.2 1100.3,126.1 1099.8,126.4 1099.3,126 1098.8,123.8 1098.3,122.4 1097.8,121.7 1097.3,125.9 1096.8,120.7 1096.3,123.7 1095.8,123.6 1095.3,120.3 1094.8,122.2 1094.3,122.7 1093.8,119.9 1093.3,122.7 1092.8,120.9 1092.3,121.2 1091.8,119.4 1091.3,121.1 1090.8,121.5 1090.3,119.4 1089.8,119.2 1089.3,121 1088.8,121.1 1088.3,118.8 1087.8,119.2 1087.3,120.9 1086.8,118.4 1086.3,117.8 1085.8,117.4 1085.3,118.6 1084.8,119 1084.3,119.4 1083.8,119.3 1083.3,117.6 1082.8,119 1082.3,118.4 1081.8,121.9 1081.3,120 1080.8,118.5 1080.3,121.9 1079.8,120.6 1079.3,117.7 1078.8,118.2 1078.3,119.3 1077.8,120 1077.3,116.4 1076.8,120 1076.3,117.7 1075.8,118 1075.3,118.4 1074.8,121.9 1074.3,118.8" fill="#000"/>
<polyline points="1074.3,103.3 1074.3,118.8 1074.8,102.9 1074.8,119.1 1075.3,103.5 1075.3,118.7 1075.8,103.5 1075.8,121.5 1076.3,103 1076.3,121 1076.8,102.6 1076.8,124.8 1077.3,100.4 1077.3,119.3 1077.8,96.7 1077.8,122.3 1078.3,100.5 1078.3,123.7 1078.8,99.6 1078.8,119.1 1079.3,101.1 1079.3,123.1 1079.8,103.3 1079.8,123.6 1080.3,102.4 1080.3,120.5 1080.8,102.9 1080.8,121.7 1081.3,102.8 1081.3,123.2 1081.8,101.8 1081.8,121.2 1082.3,101.5 1082.3,121.8 1082.8,100.2 1082.8,122.3 1083.3,103.7 1083.3,120.6 1083.8,102 1083.8,120.2 1084.3,102.5 1084.3,121.9 1084.8,103.3 1084.8,122.7 1085.3,101.8 1085.3,123.1 1085.8,102.8 1085.8,120 1086.3,102.8 1086.3,123.3 1086.8,102 1086.8,121.2 1087.3,104.4 1087.3,122.5 1087.8,104 1087.8,121.3 1088.3,100.1 1088.3,125.6 1088.8,99.5 1088.8,120.2 1089.3,102.1 1089.3,122.8 1089.8,103.9 1089.8,134.6 1090.3,92.9 1090.3,122.2 1090.8,104.4 1090.8,120.8 1091.3,104.9 1091.3,128.5 1091.8,103.3 1091.8,123.5 1092.3,102.4 1092.3,125.5 1092.8,102.5 1092.8,124.6 1093.3,103.8 1093.3,121.3 1093.8,102.6 1093.8,124.2 1094.3,103.9 1094.3,122.2 1094.8,104 1094.8,125.5 1095.3,103.6 1095.3,123.9 1095.8,102.2 1095.8,123.4 1096.3,104.7 1096.3,123.7 1096.8,105.8 1096.8,123.1 1097.3,104.8 1097.3,123.8 1097.8,107.8 1097.8,126.2 1098.3,107.4 1098.3,126.1 1098.8,107 1098.8,125.6 1099.3,106.1 1099.3,126.2 1099.8,108.8 1099.8,131 1100.3,109.6 1100.3,127.1 1100.8,112 1100.8,129.3 1101.3,113 1101.3,129.9 1101.8,108.4 1101.8,133.4 1102.3,109 1102.3,136.4 1102.8,116.4 1102.8,133.4 1103.3,118.2 1103.3,137.9 1103.8,117.1 1103.8,141.3 1104.3,121.3 1104.3,139.5" fill="none" stroke="#000" stroke-width="1" stroke-linejoin="bevel"/>
<line x1="1105" y1="123.9" x2="1105" y2="150" stroke="#222" stroke-width="1.8"/>
<line x1="1105.8" y1="154.6" x2="1105.8" y2="136.1" stroke="#555" stroke-width="1.2"/>
<polygon points="1105.3,99.4 1105.8,99.1 1106.3,101 1106.8,102.4 1107.3,104.1 1107.8,101.4 1108.3,102 1108.8,103.3 1109.3,103.5 1109.8,102.2 1110.3,102.3 1110.8,105.3 1111.3,101.9 1111.8,101.7 1112.3,100 1112.8,103.2 1113.3,102.2 1113.8,105.5 1114.3,102.1 1114.8,103.9 1115.3,104.1 1115.8,105.3 1116.3,100.8 1116.8,105.2 1117.3,102.9 1117.8,102.8 1118.3,102.5 1118.8,102.4 1119.3,102.5 1119.8,99.5 1120.3,103.9 1120.8,103.3 1121.3,101.8 1121.8,103.2 1122.3,106.9 1122.8,104 1123.3,102.9 1123.8,106.2 1124.3,102.5 1124.8,103.6 1125.3,103.1 1125.8,103.7 1126.3,105.3 1126.8,105.2 1127.3,103.4 1127.8,104.5 1128.3,105.1 1128.8,104.6 1129.3,105.4 1129.8,104.7 1130.3,105 1130.8,106.7 1131.3,105.5 1131.8,108.3 1132.3,108 1132.8,107.6 1133.3,108.9 1133.8,110 1134.3,111.6 1134.8,113.3 1135.3,114.3 1135.8,114.9 1136.3,120.3 1136.8,121.8 1136.8,133.6 1136.3,132.4 1135.8,131.3 1135.3,128.5 1134.8,127.5 1134.3,124.1 1133.8,126.3 1133.3,124 1132.8,122.5 1132.3,122.2 1131.8,126.6 1131.3,119.4 1130.8,118.7 1130.3,121.7 1129.8,120.4 1129.3,120.9 1128.8,118.9 1128.3,118.5 1127.8,121.8 1127.3,117.5 1126.8,117.1 1126.3,117.3 1125.8,118.1 1125.3,118.2 1124.8,115.9 1124.3,118.5 1123.8,115.8 1123.3,117.7 1122.8,118.5 1122.3,118.8 1121.8,116.5 1121.3,117.1 1120.8,116.7 1120.3,116.2 1119.8,116.9 1119.3,117.9 1118.8,116.4 1118.3,117 1117.8,115.7 1117.3,116.9 1116.8,116.1 1116.3,118.9 1115.8,116.9 1115.3,117.2 1114.8,120.7 1114.3,115.7 1113.8,117.4 1113.3,116.9 1112.8,118.9 1112.3,117.5 1111.8,118.4 1111.3,118.1 1110.8,117.1 1110.3,119.8 1109.8,117.3 1109.3,115.7 1108.8,117.9 1108.3,117.8 1107.8,120.3 1107.3,116.3 1106.8,115.8 1106.3,116.6 1105.8,117.5 1105.3,116.2" fill="#000"/>
<polyline points="1105.3,99.7 1105.3,122.7 1105.8,101 1105.8,120.7 1106.3,97.9 1106.3,118.1 1106.8,101.5 1106.8,119.7 1107.3,99.2 1107.3,118.4 1107.8,100.5 1107.8,118.1 1108.3,101.8 1108.3,117.4 1108.8,98.6 1108.8,117.4 1109.3,99.5 1109.3,128.8 1109.8,100.6 1109.8,119.2 1110.3,97.1 1110.3,119.9 1110.8,101 1110.8,120.3 1111.3,101 1111.3,118.9 1111.8,101.2 1111.8,119.2 1112.3,99.4 1112.3,116.5 1112.8,100.4 1112.8,119.1 1113.3,101.7 1113.3,116.8 1113.8,101.9 1113.8,118.4 1114.3,100.8 1114.3,117.9 1114.8,101.2 1114.8,118.5 1115.3,88.6 1115.3,122.5 1115.8,101.4 1115.8,118.1 1116.3,101.1 1116.3,117.8 1116.8,102.6 1116.8,120 1117.3,100.9 1117.3,118 1117.8,99.3 1117.8,119.1 1118.3,100.5 1118.3,118.3 1118.8,95.9 1118.8,120.8 1119.3,101.9 1119.3,119.1 1119.8,102.6 1119.8,118.8 1120.3,102.5 1120.3,118.8 1120.8,100.4 1120.8,119 1121.3,98.4 1121.3,119.5 1121.8,98.9 1121.8,117.7 1122.3,102.5 1122.3,119.4 1122.8,103 1122.8,118.4 1123.3,98.6 1123.3,120 1123.8,102.5 1123.8,121.6 1124.3,101.1 1124.3,121.8 1124.8,99.8 1124.8,118.6 1125.3,102 1125.3,118.3 1125.8,102.4 1125.8,118.5 1126.3,102.1 1126.3,118.8 1126.8,103 1126.8,121.3 1127.3,104.4 1127.3,118.7 1127.8,101.5 1127.8,121.5 1128.3,102.3 1128.3,123.9 1128.8,104.9 1128.8,119.6 1129.3,103.3 1129.3,121.3 1129.8,104.2 1129.8,120.4 1130.3,106.1 1130.3,120.4 1130.8,104.6 1130.8,126 1131.3,101.2 1131.3,122.7 1131.8,106.7 1131.8,124.6 1132.3,105.8 1132.3,125.4 1132.8,104.2 1132.8,124.4 1133.3,109.4 1133.3,131.3 1133.8,108.5 1133.8,128.6 1134.3,111.5 1134.3,126.3 1134.8,110.6 1134.8,128.9 1135.3,113.9 1135.3,132.2 1135.8,114.9 1135.8,132.2 1136.3,117.4 1136.3,133.7 1136.8,116.7 1136.8,136.9" fill="none" stroke="#000" stroke-width="1" stroke-linejoin="bevel"/>
<line x1="1137.5" y1="121" x2="1137.5" y2="151" stroke="#222" stroke-width="1.8"/>
<line x1="1138.3" y1="151.5" x2="1138.3" y2="133.9" stroke="#555" stroke-width="1.2"/>
<polygon points="1137.8,99.9 1138.3,104 1138.8,99.5 1139.3,100.5 1139.8,103.2 1140.3,102.6 1140.8,105.6 1141.3,105.1 1141.8,103.4 1142.3,103.5 1142.8,99.8 1143.3,101.3 1143.8,102.2 1144.3,102.4 1144.8,100.7 1145.3,101.4 1145.8,101.6 1146.3,104.5 1146.8,103.6 1147.3,102.5 1147.8,102.7 1148.3,103.6 1148.8,102.2 1149.3,102.9 1149.8,100.8 1150.3,104.4 1150.8,104.9 1151.3,104.1 1151.8,104.3 1152.3,104.3 1152.8,106.8 1153.3,104.2 1153.8,102 1154.3,102.5 1154.8,105.3 1155.3,105.9 1155.8,105.6 1156.3,105.9 1156.8,105.1 1157.3,102.8 1157.8,104.1 1158.3,102.7 1158.8,105.1 1159.3,103.9 1159.8,106.4 1160.3,106.4 1160.8,104.2 1161.3,108.7 1161.8,109.3 1162.3,106.7 1162.8,109.7 1163.3,111.3 1163.8,110.7 1164.3,113.5 1164.8,113.7 1165.3,116.4 1165.8,116.7 1166.3,118 1166.8,121.1 1167.3,124 1167.3,137.7 1166.8,134.7 1166.3,129.8 1165.8,129.9 1165.3,129.6 1164.8,127.7 1164.3,124.9 1163.8,122.5 1163.3,121.9 1162.8,125 1162.3,125.6 1161.8,120.6 1161.3,120.5 1160.8,121.9 1160.3,121.1 1159.8,119.6 1159.3,119.2 1158.8,122.4 1158.3,122.7 1157.8,118.5 1157.3,118.3 1156.8,117.2 1156.3,118 1155.8,119 1155.3,118.6 1154.8,118.1 1154.3,119.1 1153.8,114.2 1153.3,117.7 1152.8,118.1 1152.3,114.1 1151.8,117.4 1151.3,117.2 1150.8,116.2 1150.3,117.8 1149.8,116.7 1149.3,118 1148.8,115.8 1148.3,118.9 1147.8,117.4 1147.3,113.3 1146.8,114.9 1146.3,116 1145.8,116.5 1145.3,116.6 1144.8,116.2 1144.3,117.3 1143.8,115.8 1143.3,118.4 1142.8,118.9 1142.3,116.7 1141.8,116.4 1141.3,116.2 1140.8,116.6 1140.3,116.6 1139.8,115.4 1139.3,115.6 1138.8,114.9 1138.3,115.4 1137.8,116.4" fill="#000"/>
<polyline points="1137.8,102 1137.8,117.5 1138.3,98.9 1138.3,116.3 1138.8,100.9 1138.8,119 1139.3,96.1 1139.3,116.7 1139.8,101.7 1139.8,120.3 1140.3,97.7 1140.3,124.2 1140.8,99.2 1140.8,118.2 1141.3,101.9 1141.3,125.2 1141.8,100.5 1141.8,119.1 1142.3,101.4 1142.3,116.8 1142.8,89.6 1142.8,122.5 1143.3,102.3 1143.3,117.7 1143.8,102.3 1143.8,120.1 1144.3,100.9 1144.3,120.4 1144.8,101.8 1144.8,120 1145.3,101.5 1145.3,125.1 1145.8,98.8 1145.8,117 1146.3,101.6 1146.3,122.3 1146.8,100.6 1146.8,120.6 1147.3,102.2 1147.3,120.5 1147.8,98.7 1147.8,118 1148.3,102.9 1148.3,117.5 1148.8,93.9 1148.8,118.7 1149.3,101.4 1149.3,123.2 1149.8,103 1149.8,120.8 1150.3,97.7 1150.3,117.6 1150.8,99.8 1150.8,130 1151.3,101.9 1151.3,121.3 1151.8,98.1 1151.8,118.6 1152.3,99.6 1152.3,120.5 1152.8,101.3 1152.8,119.6 1153.3,103.9 1153.3,118.7 1153.8,99.3 1153.8,120.3 1154.3,102.8 1154.3,119.2 1154.8,100.7 1154.8,120 1155.3,102.9 1155.3,121.6 1155.8,96.3 1155.8,120.3 1156.3,102.8 1156.3,121.3 1156.8,104.3 1156.8,128.4 1157.3,104.2 1157.3,122.5 1157.8,103.7 1157.8,124.2 1158.3,105.4 1158.3,123.7 1158.8,102.6 1158.8,123.3 1159.3,105.4 1159.3,121.7 1159.8,105.5 1159.8,123.5 1160.3,104.5 1160.3,121.9 1160.8,106.5 1160.8,123.4 1161.3,107.2 1161.3,125.1 1161.8,107.3 1161.8,126.3 1162.3,106 1162.3,124.1 1162.8,109 1162.8,125.4 1163.3,100.3 1163.3,125.2 1163.8,109 1163.8,125.8 1164.3,109.8 1164.3,127 1164.8,111.9 1164.8,128.9 1165.3,111.5 1165.3,129.6 1165.8,113.3 1165.8,131.9 1166.3,116.2 1166.3,134.4 1166.8,120.1 1166.8,137.2 1167.3,118.4 1167.3,137.1" fill="none" stroke="#000" stroke-width="1" stroke-linejoin="bevel"/>
<line x1="1167.7" y1="121.9" x2="1167.7" y2="149" stroke="#222" stroke-width="1.8"/>
<line x1="1168.5" y1="152.6" x2="1168.5" y2="135" stroke="#555" stroke-width="1.2"/>
<polygon points="1168,105.4 1168.5,104.4 1169,106.8 1169.5,106.4 1170,104.3 1170.5,103.9 1171,105.9 1171.5,107.8 1172,107.7 1172.5,106.9 1173,102 1173.5,106.5 1174,106.2 1174.5,107 1175,105.7 1175.5,107 1176,106.8 1176.5,112.2 1177,109.2 1177.5,107.9 1178,108.2 1178.5,108.2 1179,108.8 1179.5,108 1180,108.8 1180.5,110.5 1181,110.4 1181.5,109.7 1182,111.4 1182.5,109.8 1183,108.1 1183.5,107 1184,108.8 1184.5,110 1185,110.8 1185.5,112.1 1186,109.7 1186.5,109.5 1187,112.2 1187.5,113 1188,110.7 1188.5,112.2 1189,114.1 1189.5,112.7 1190,112.5 1190.5,109.7 1191,115.4 1191.5,114.8 1192,114.5 1192.5,114.1 1193,113.5 1193.5,116 1194,116.8 1194.5,119.5 1195,116.9 1195.5,122.2 1196,121.3 1196.5,124.6 1197,123 1197.5,127 1198,130.6 1198.5,131.4 1198.5,147.3 1198,141.9 1197.5,138.5 1197,136.9 1196.5,136.2 1196,134 1195.5,131.9 1195,135 1194.5,132.7 1194,130.6 1193.5,134.6 1193,128.5 1192.5,129 1192,128 1191.5,129.1 1191,129.3 1190.5,129.3 1190,127.2 1189.5,127.4 1189,125.4 1188.5,126.5 1188,125.2 1187.5,124.8 1187,124.9 1186.5,125.8 1186,122.9 1185.5,123.2 1185,125.5 1184.5,123.5 1184,123.5 1183.5,124.7 1183,122.3 1182.5,125.9 1182,124 1181.5,122.8 1181,122.7 1180.5,125.2 1180,123.9 1179.5,122.3 1179,122.3 1178.5,118.1 1178,119.6 1177.5,119.6 1177,122.8 1176.5,122.2 1176,123.5 1175.5,120.2 1175,122 1174.5,121.5 1174,120 1173.5,123.6 1173,119.9 1172.5,118.2 1172,119.1 1171.5,121.9 1171,119.2 1170.5,120.9 1170,118.2 1169.5,118.2 1169,121.1 1168.5,119.6 1168,117.7" fill="#000"/>
<polyline points="1168,104.1 1168,120.1 1168.5,104.3 1168.5,126.1 1169,104.7 1169,123.2 1169.5,98.1 1169.5,121.4 1170,100.8 1170,125.9 1170.5,106.5 1170.5,122.2 1171,102.7 1171,121.2 1171.5,103.8 1171.5,130.8 1172,106.5 1172,121.2 1172.5,104.7 1172.5,126.1 1173,102.5 1173,121.7 1173.5,100.7 1173.5,122.8 1174,107.4 1174,121.9 1174.5,99.9 1174.5,125.4 1175,103.7 1175,122.5 1175.5,107.7 1175.5,130.8 1176,103.3 1176,123.3 1176.5,107.4 1176.5,122.8 1177,106.1 1177,122.6 1177.5,108.1 1177.5,123.1 1178,103.5 1178,122.5 1178.5,106.7 1178.5,123.1 1179,108.2 1179,123.7 1179.5,105.6 1179.5,130.3 1180,105.2 1180,123.2 1180.5,108.6 1180.5,127.5 1181,106.6 1181,127.8 1181.5,107.8 1181.5,124.2 1182,104.4 1182,125.6 1182.5,109 1182.5,124.1 1183,106.9 1183,137 1183.5,107.5 1183.5,128.4 1184,107.8 1184,128.7 1184.5,102.5 1184.5,126.9 1185,109.8 1185,124.8 1185.5,106.3 1185.5,127.6 1186,106.3 1186,125 1186.5,107.8 1186.5,127.7 1187,105 1187,125.7 1187.5,109.4 1187.5,126.8 1188,110.1 1188,129.5 1188.5,109.5 1188.5,128.1 1189,111.2 1189,126.9 1189.5,111.6 1189.5,126.7 1190,111.8 1190,128.3 1190.5,111.9 1190.5,129.6 1191,112.8 1191,128.3 1191.5,113.1 1191.5,128.2 1192,110 1192,129.5 1192.5,112.5 1192.5,131.6 1193,113.3 1193,131.6 1193.5,114.2 1193.5,131.3 1194,113.4 1194,136.3 1194.5,117.7 1194.5,132.5 1195,118.5 1195,133.1 1195.5,117.3 1195.5,136.2 1196,120.4 1196,137.1 1196.5,121.7 1196.5,140.8 1197,122.9 1197,140.4 1197.5,122.8 1197.5,144.7 1198,127.9 1198,148.2 1198.5,128.4 1198.5,149.1" fill="none" stroke="#000" stroke-width="1" stroke-linejoin="bevel"/>
<line x1="1198.8" y1="129.8" x2="1198.8" y2="161" stroke="#222" stroke-width="1.8"/>
<line x1="1199.6" y1="160.9" x2="1199.6" y2="143.3" stroke="#555" stroke-width="1.2"/>
<polygon points="1199.5,120.6 1200,121.7 1200.5,123.7 1201,124.5 1201.5,125.9 1202,127.6 1202.5,128.5 1203,130.3 1203.5,129.7 1204,132 1204.5,133.1 1205,134.9 1205.5,136.1 1206,137 1206.5,138.6 1207,141.1 1207.5,141.2 1208,142 1208.5,145 1209,146.7 1209.5,147 1210,148.7 1210.5,149.2 1211,151.2 1211.5,154 1212,155.4 1212.5,156.5 1213,157.8 1213.5,158.3 1214,161.6 1214.5,163.4 1215,165.6 1215.5,168.1 1216,168.4 1216.5,170.6 1217,170.4 1217.5,174.1 1218,175.5 1218.5,177.9 1219,179.2 1219.5,181 1220,183.8 1220.5,183.9 1221,187 1221.5,189.3 1222,189.7 1222.5,191.3 1223,194.6 1223.5,196.3 1224,198.7 1224.5,200.7 1225,201.4 1225.5,204.9 1226,208.2 1226.5,209.4 1227,212 1227.5,213.8 1228,218 1228.5,221.6 1229,221.2 1229.5,225.6 1229.5,228 1229,225.5 1228.5,223.6 1228,222.6 1227.5,217.8 1227,215.8 1226.5,213.5 1226,210.1 1225.5,208.5 1225,206.5 1224.5,203.5 1224,201.9 1223.5,202 1223,200 1222.5,196.8 1222,194.8 1221.5,194.4 1221,191.6 1220.5,189.1 1220,189.2 1219.5,186.9 1219,185.4 1218.5,183.8 1218,181.8 1217.5,181.3 1217,177.9 1216.5,175.5 1216,175.3 1215.5,172.4 1215,172.1 1214.5,171.2 1214,167.8 1213.5,169.6 1213,167.3 1212.5,164.5 1212,162.5 1211.5,162.6 1211,162 1210.5,158.6 1210,158.1 1209.5,157.7 1209,154.5 1208.5,152.5 1208,155.2 1207.5,152.4 1207,151.6 1206.5,151.5 1206,148.1 1205.5,148.6 1205,147.7 1204.5,144.2 1204,144.2 1203.5,143.7 1203,142 1202.5,141.4 1202,139.9 1201.5,138 1201,136.7 1200.5,136.3 1200,135.1 1199.5,135.3" fill="#000"/>
<polyline points="1199.5,117.2 1199.5,139.6 1200,121.4 1200,135.9 1200.5,122.7 1200.5,137.6 1201,124.4 1201,138 1201.5,123.8 1201.5,139.7 1202,126.6 1202,142.3 1202.5,127.4 1202.5,141.1 1203,128.8 1203,142.7 1203.5,129.3 1203.5,143.1 1204,131.3 1204,144.4 1204.5,132.5 1204.5,145.2 1205,134.7 1205,148 1205.5,135.1 1205.5,149.2 1206,136.7 1206,149.2 1206.5,138.4 1206.5,151.8 1207,140 1207,152.5 1207.5,140.9 1207.5,154.8 1208,139 1208,153.5 1208.5,142.4 1208.5,154.8 1209,145.6 1209,157.7 1209.5,144.9 1209.5,157.5 1210,147.8 1210,158.7 1210.5,148.7 1210.5,159.7 1211,150.4 1211,161.4 1211.5,150.8 1211.5,162.4 1212,154.6 1212,164.1 1212.5,150.7 1212.5,167 1213,156.2 1213,168.1 1213.5,158.5 1213.5,170.3 1214,160.5 1214,170.8 1214.5,161.2 1214.5,175.6 1215,164.7 1215,172.5 1215.5,165.7 1215.5,176.5 1216,167.5 1216,177.4 1216.5,168.9 1216.5,180.5 1217,170.1 1217,178.4 1217.5,171.5 1217.5,180.1 1218,172.6 1218,182.8 1218.5,176 1218.5,183.7 1219,178 1219,185.2 1219.5,179.3 1219.5,187.3 1220,181.6 1220,188.8 1220.5,183.9 1220.5,190.6 1221,183.4 1221,192.3 1221.5,187.6 1221.5,198.4 1222,188.4 1222,195.8 1222.5,191.8 1222.5,197.2 1223,192.9 1223,200.6 1223.5,195.4 1223.5,202.2 1224,195.4 1224,204.9 1224.5,199.6 1224.5,205.6 1225,201.8 1225,207 1225.5,202.4 1225.5,209.7 1226,206.9 1226,210.8 1226.5,208.8 1226.5,213.1 1227,211.4 1227,216.7 1227.5,214.2 1227.5,218.5 1228,216.9 1228,220.1 1228.5,219.6 1228.5,222.7 1229,222.2 1229,226.3 1229.5,223.5 1229.5,228.1" fill="none" stroke="#000" stroke-width="1" stroke-linejoin="bevel"/>
<line x1="896" y1="131" x2="896" y2="64" stroke="#111" stroke-width="2.2"/>
<line x1="897.5" y1="60" x2="897.5" y2="45" stroke="#444" stroke-width="1.3"/>
<line x1="921.3" y1="70" x2="921.3" y2="43.4" stroke="#444" stroke-width="1.3"/>
<line x1="952.8" y1="95" x2="952.8" y2="80.6" stroke="#444" stroke-width="1.3"/>
<line x1="983.8" y1="110" x2="983.8" y2="96" stroke="#444" stroke-width="1.3"/>
<line x1="1018.6" y1="115" x2="1018.6" y2="93" stroke="#444" stroke-width="1.3"/>
<line x1="1034.8" y1="115" x2="1034.8" y2="101" stroke="#444" stroke-width="1.3"/>
<line x1="1050" y1="112" x2="1050" y2="106.6" stroke="#444" stroke-width="1.3"/>
<line x1="1082" y1="105" x2="1082" y2="95" stroke="#444" stroke-width="1.3"/>
<line x1="1117" y1="100" x2="1117" y2="92" stroke="#444" stroke-width="1.3"/>
<line x1="1146" y1="102" x2="1146" y2="92" stroke="#444" stroke-width="1.3"/>
<line x1="1173" y1="105" x2="1173" y2="95" stroke="#444" stroke-width="1.3"/>
<polyline points="432.3,637 432.3,685.4 432.8,637.4 432.8,683.7 433.3,620.7 433.3,698.5 433.8,628.5 433.8,685.6 435.8,617.3 435.8,697.3 436.3,630.7 436.3,690.4 438.3,630.5 438.3,687.8 438.8,618.1 438.8,688.8 439.3,626.1 439.3,682.8 439.8,603.6 439.8,686.6 440.8,624.2 440.8,692 441.3,610.2 441.3,696.9 441.8,624.9 441.8,688.7 443.8,607.2 443.8,689 445.3,622.1 445.3,671.9 446.8,623.7 446.8,683.8 448.3,595.2 448.3,673.8 449.8,619.8 449.8,678.6 452.8,618.9 452.8,669.1 453.3,612.6 453.3,690.2 454.3,597.3 454.3,678.3 455.3,593.9 455.3,675.7 457.8,592.6 457.8,691.7 459.3,610 459.3,681.2 459.8,592.8 459.8,667.8 460.3,605.8 460.3,669.6 460.8,612.7 460.8,667.3 461.8,612.3 461.8,667.7 462.8,592.5 462.8,667.6 463.3,609.7 463.3,680.9 463.8,600.3 463.8,668.4 464.8,608.7 464.8,673.1 466.3,619.2 466.3,677.9 466.8,604.5 466.8,678.5 467.3,620.2 467.3,685.2 468.8,674.3 468.8,738.4 471.3,768.7 471.3,816.9 471.8,790.9 471.8,863 472.8,795.9 472.8,857.1 473.3,809.7 473.3,867.8 474.3,796.4 474.3,885.1 475.3,824.1 475.3,898.6 475.8,823.4 475.8,915.1 476.3,843.5 476.3,908.7 477.8,839.5 477.8,912.3 478.3,842.6 478.3,927.4 478.8,835.3 478.8,911.5 480.3,843.4 480.3,915.6 481.3,854 481.3,913.9 481.8,841.9 481.8,924.2 482.3,854.8 482.3,922.2 482.8,842.5 482.8,925 483.3,851.6 483.3,921.5 484.3,843.4 484.3,939.6 485.3,859.2 485.3,946.1 486.3,847.3 486.3,936.4 486.8,860.2 486.8,932.1 489.3,848.3 489.3,924.8 490.3,858.9 490.3,932.7 493.3,835.9 493.3,913.4 493.8,844.4 493.8,907.3 494.3,848.2 494.3,923.6 497.3,834.7 497.3,876.7 497.8,826.6 497.8,869.6 499.3,808 499.3,862.6 500.8,781.2 500.8,842.6 501.3,778.5 501.3,839.2 502.8,756.1 502.8,830.3 503.8,766.6 503.8,816.3 504.8,753.4 504.8,808.9 505.8,744.8 505.8,811.3 506.3,755.4 506.3,793.9 506.8,730.1 506.8,791.5 507.8,747.1 507.8,808.9 508.3,730.2 508.3,798.4 508.8,732.4 508.8,797.3 509.3,707.4 509.3,798.3 510.3,711.4 510.3,788.7 511.3,719.5 511.3,776.5 511.8,725.2 511.8,782.4 512.8,731.6 512.8,783 514.8,716.9 514.8,765.6 516.3,713.2 516.3,767.6 517.3,715.9 517.3,780.8 517.8,714.2 517.8,764.3 518.8,709.8 518.8,758.9 519.3,714.4 519.3,764.2 519.8,713.4 519.8,772.9 520.3,687.6 520.3,773.6 521.3,711 521.3,771.6 522.3,705.1 522.3,774.6 523.3,690.2 523.3,767.7 525.3,696 525.3,758.6 526.8,695 526.8,751.9 527.3,696.8 527.3,765.5 527.8,685.4 527.8,739.7 528.3,698.7 528.3,768.9 529.8,678.1 529.8,743.3 530.8,691.2 530.8,733.8 531.8,680.2 531.8,751.5 532.3,687.1 532.3,732.7 534.8,673.9 534.8,731.2 536.8,674.1 536.8,733.3 538.8,676.6 538.8,718 539.3,673 539.3,729.9 539.8,677.1 539.8,727.8 540.3,675.8 540.3,723.6 541.3,631.5 541.3,713.2 541.8,665 541.8,713.6 542.3,657.9 542.3,718.1 543.3,657.7 543.3,714.9 544.3,635.7 544.3,728.8 545.3,644.8 545.3,711.1 545.8,668.6 545.8,739 548.8,652.4 548.8,708.3 549.3,653.6 549.3,702.7 549.8,637 549.8,711.3 550.3,651.5 550.3,704.6 553.3,654.2 553.3,695.2 554.3,650.8 554.3,711.1 555.3,648.7 555.3,722.5 555.8,650.3 555.8,713.7 556.3,646.5 556.3,693.6 556.8,638.8 556.8,698.4 557.8,652.3 557.8,698.6 558.3,629.9 558.3,689.2 558.8,646 558.8,701.5 560.3,649.1 560.3,694.1 561.3,643.2 561.3,692.3 561.8,636.2 561.8,696.6 562.8,636.8 562.8,689.5 564.3,626.3 564.3,687.8 564.8,638.7 564.8,689.5 565.3,641.1 565.3,705.9 566.8,639.2 566.8,692.3 568.3,634.8 568.3,679.4 568.8,622.6 568.8,696 569.8,624.6 569.8,675.4 570.3,614.5 570.3,690.9 570.8,606.8 570.8,685.5 571.3,614.5 571.3,682.3 572.8,622.7 572.8,680 573.3,620.2 573.3,679.5 574.3,602.7 574.3,673.8 574.8,604.9 574.8,676 575.8,625.7 575.8,675.5 577.3,622.3 577.3,677.8 577.8,603.1 577.8,674.3 578.3,610.8 578.3,676.2 579.8,613.5 579.8,663.6 580.8,596.3 580.8,677.7 581.8,617.8 581.8,661.1 582.3,621.1 582.3,665.2 582.8,612.7 582.8,673 583.3,611.3 583.3,660.9 585.3,610 585.3,672.7 585.8,593.6 585.8,665.2 586.3,616.7 586.3,693.7 587.3,615.8 587.3,670.7 588.3,605.2 588.3,685.9 589.3,615.2 589.3,663 589.8,613.7 589.8,665.4 591.3,600 591.3,662.7 592.3,592.4 592.3,654.4 592.8,611.3 592.8,649.9 593.3,604.7 593.3,649.4 593.8,612 593.8,658.4 594.3,598.2 594.3,672.4 594.8,607.9 594.8,668.3 595.8,595.3 595.8,650.2 601.3,602.5 601.3,657.9 601.8,595.6 601.8,643.9 602.3,596.6 602.3,656 603.3,597.3 603.3,667.4 603.8,596.4 603.8,654.5 605.8,589.4 605.8,638.9 606.3,597.6 606.3,646 606.8,594.6 606.8,662 607.3,587.3 607.3,658.1 609.8,586 609.8,639.6 610.3,586.4 610.3,634.4 612.3,585.5 612.3,635 612.8,585.5 612.8,656.4 613.8,582.3 613.8,658.8 614.3,600.2 614.3,645.8 616.8,663.8 616.8,711.1 617.3,670.3 617.3,739.2 618.8,723.4 618.8,780.5 620.3,753.2 620.3,813.3 621.3,756.6 621.3,822.9 622.3,773.3 622.3,836.4 623.3,788.7 623.3,850.5 624.3,795.8 624.3,846.2 624.8,796.4 624.8,854.3 625.8,792 625.8,859.6 628.3,819.4 628.3,875.6 630.8,816.1 630.8,880 631.3,812 631.3,881.2 632.3,816.9 632.3,880.2 633.3,815.7 633.3,887.2 633.8,825 633.8,902.7 634.3,832.5 634.3,876.8 637.3,798.3 637.3,883.6 637.8,824.3 637.8,880.2 638.8,807 638.8,889.9 639.3,809.5 639.3,900.4 639.8,787.4 639.8,880.4 641.3,821.9 641.3,912.3 644.8,789.7 644.8,837 646.3,765.9 646.3,835.6 646.8,779.9 646.8,819.8 647.8,772 647.8,819.5 649.3,756.9 649.3,821.8 649.8,748.5 649.8,821.6 650.8,752.8 650.8,803 651.8,742.2 651.8,797.7 652.8,746.8 652.8,804.4 653.8,742.8 653.8,795.8 654.3,736.9 654.3,797.3 654.8,736.7 654.8,790.7 655.8,743.4 655.8,795.1 656.8,742.2 656.8,798.3 659.3,730.1 659.3,779.3 661.8,716 661.8,777 662.3,716.5 662.3,768.7 663.8,717.3 663.8,759.5 665.3,704.9 665.3,762.4 665.8,690.4 665.8,759.7 666.3,690.8 666.3,770.1 667.3,676 667.3,752.1 668.3,712.5 668.3,769.3 669.8,702.8 669.8,751.4 670.3,703.7 670.3,751.1 673.3,682.3 673.3,743.1 675.8,693.8 675.8,734 676.3,692.5 676.3,734 678.3,675.3 678.3,737 679.3,689.1 679.3,729.1 679.8,673 679.8,738.8 681.3,666.8 681.3,723.8 681.8,682.8 681.8,753.6 682.3,684.4 682.3,747.7 684.3,667.8 684.3,722.8 685.3,660.7 685.3,727.1 685.8,670.3 685.8,724.4 686.8,653.3 686.8,732.8 690.8,668.1 690.8,709 691.3,662.9 691.3,711.5 691.8,666.6 691.8,714.8 692.8,665.5 692.8,740.9 693.8,653.9 693.8,710.4 694.8,663 694.8,726.2 695.3,645 695.3,741.7 696.8,638.2 696.8,705.7 698.3,636.8 698.3,700.2 699.3,647.5 699.3,710.8 700.8,646.3 700.8,725.2 701.8,632.4 701.8,691.8 702.8,646.9 702.8,701.8 704.3,647.6 704.3,690.6 704.8,637.3 704.8,704.9 705.3,619.5 705.3,688.6 705.8,635.4 705.8,689.8 706.3,624.7 706.3,710.1 706.8,640.1 706.8,688.2 708.3,630.9 708.3,685.3 709.8,627.8 709.8,692.7 710.3,641.3 710.3,689 710.8,624.7 710.8,680.4 711.8,625.7 711.8,688.8 712.8,637.9 712.8,705.7 714.3,627.7 714.3,674.3 714.8,618.4 714.8,686.3 715.3,636.3 715.3,696.1 715.8,625.1 715.8,700.2 716.8,622.4 716.8,673.9 718.3,618.4 718.3,691.1 718.8,621.4 718.8,686.4 719.3,620.7 719.3,671.8 719.8,621.6 719.8,683.4 720.3,614.3 720.3,707.8 721.8,622.6 721.8,665.7 726.8,613.5 726.8,669.4 728.8,617.4 728.8,663.7 729.8,607.3 729.8,663.5 730.3,598.8 730.3,669.7 731.8,584.2 731.8,655.4 732.8,601.5 732.8,655.6 733.8,609.2 733.8,656.4 734.8,595.1 734.8,662.9 735.3,608.8 735.3,664.9 738.8,573.3 738.8,676 739.3,597.9 739.3,647.1 740.3,598.5 740.3,651 740.8,584.1 740.8,666.2 741.3,581.6 741.3,652.5 741.8,577.2 741.8,652.7 742.3,592.6 742.3,650 742.8,600.3 742.8,652.6 743.8,585.2 743.8,650.6 744.3,589.1 744.3,645 745.3,590.9 745.3,648.2 745.8,600.1 745.8,637.9 746.3,594.4 746.3,643.6 747.3,583.2 747.3,663 748.3,595.1 748.3,642.5 748.8,587 748.8,644.5 750.8,582.6 750.8,636.8 751.8,566.7 751.8,651.2 753.3,578.6 753.3,642.7 754.3,573 754.3,649.1 755.3,588.7 755.3,635.8 761.8,572.9 761.8,627.2 762.3,579 762.3,634.2 762.8,577.6 762.8,634.7 763.8,612.5 763.8,656.9 764.3,591.8 764.3,686.2 764.8,620.6 764.8,673.2 766.8,680 766.8,720.8 767.8,679 767.8,754.7 768.3,714.1 768.3,766.1 768.8,724.9 768.8,782.7 769.8,746.1 769.8,793.8 770.8,762.4 770.8,834.1 771.8,770 771.8,854.4 772.3,774.3 772.3,837.1 772.8,787.1 772.8,837.6 773.3,754.2 773.3,842.2 773.8,781.1 773.8,846.8 775.3,804 775.3,860.6 775.8,807.3 775.8,857.7 777.8,815.1 777.8,863.3 779.8,829.1 779.8,886.1 780.3,831.3 780.3,889.6 780.8,820.5 780.8,888.3 781.3,831.6 781.3,902.8 781.8,829.3 781.8,895.1 782.3,815 782.3,879 783.3,831 783.3,904.8 784.8,822 784.8,883.5 785.3,821 785.3,898.1 785.8,835.9 785.8,884.1 787.3,839.4 787.3,886.1 788.3,830.9 788.3,892.4 788.8,836.2 788.8,898.8 789.3,837.7 789.3,882.1 789.8,834.5 789.8,880.3 790.3,829.4 790.3,883 790.8,813 790.8,880.4 791.3,832.7 791.3,881.9 791.8,830.6 791.8,893.8 792.3,810.2 792.3,879.1 792.8,814.6 792.8,875.5 793.3,815 793.3,856 794.3,781 794.3,855.9 795.3,781.6 795.3,840.1 796.3,772.9 796.3,841.2 796.8,775.6 796.8,829.6 798.3,777.9 798.3,831.5 798.8,755.6 798.8,819.5 800.3,773.2 800.3,823.3 800.8,760.3 800.8,818.7 801.8,766.5 801.8,811.7 802.3,757.1 802.3,804.3 803.8,759.9 803.8,799.9 804.3,738.3 804.3,801.1 804.8,747.8 804.8,794 805.8,737.7 805.8,803.6 806.3,743.5 806.3,789.6 807.3,744.2 807.3,789.9 808.3,739 808.3,788 809.3,730.7 809.3,780.8 810.3,739 810.3,803.1 811.8,729.1 811.8,778.7 812.8,723.2 812.8,777.4 814.8,714.7 814.8,775.8 815.3,685.9 815.3,780 815.8,724.9 815.8,764.7 816.8,720.2 816.8,769.9 817.3,708.1 817.3,769.9 819.3,714.4 819.3,767.8 819.8,700.3 819.8,776.2 820.8,698.7 820.8,762.6 821.3,698.5 821.3,764.4 821.8,709.3 821.8,751.5 822.8,704.7 822.8,748.8 823.8,707.2 823.8,758.6 824.8,699.5 824.8,750.8 825.3,698.6 825.3,749.2 825.8,702.9 825.8,743.9 826.3,696.4 826.3,759.4 828.3,695.5 828.3,740.7 828.8,680.6 828.8,742.8 829.8,695.9 829.8,734.3 830.3,686.6 830.3,737.5 831.3,692.8 831.3,750.7 834.3,681.9 834.3,727.1 835.3,682.7 835.3,726 836.8,650.4 836.8,728.6 837.3,680.1 837.3,720.9 837.8,681.2 837.8,723.5 838.8,675.3 838.8,737.2 840.3,661.1 840.3,722 840.8,669.9 840.8,729.5 842.3,665.6 842.3,717.6 845.3,659.5 845.3,737.8 847.3,656.4 847.3,707.2 848.8,656.3 848.8,710.8 849.3,659.7 849.3,699.2 850.3,640.6 850.3,712.7 851.3,649 851.3,702.1 852.8,651.8 852.8,703.6 853.3,648.1 853.3,705.7 853.8,655.5 853.8,723.9 854.3,652.4 854.3,698.7 854.8,652.8 854.8,693.8 856.8,650.6 856.8,709.4 857.3,614.2 857.3,695.1 859.8,639.2 859.8,688.5 862.3,638.7 862.3,682.6 862.8,624 862.8,696.6 863.3,641.5 863.3,694.4 863.8,641.1 863.8,683.8 864.8,631.5 864.8,677.7 865.3,619.2 865.3,678.4 867.3,624.6 867.3,686.3 869.3,604.1 869.3,677.5 871.3,616.3 871.3,675.4 872.8,628.8 872.8,679.8 873.3,611.9 873.3,677.2 873.8,619.4 873.8,677.1 875.3,618.1 875.3,673.6 876.8,623.6 876.8,665.1 877.3,620.8 877.3,677 879.8,613.5 879.8,687.9 880.8,612.8 880.8,663.8 881.3,596.7 881.3,661.6 881.8,610.4 881.8,667.2 882.3,617.2 882.3,662.9 882.8,585.5 882.8,692.8 883.3,615.7 883.3,687.6 884.8,600.1 884.8,662.3 885.8,590.8 885.8,657.4 886.8,597 886.8,650.1 887.3,595 887.3,647.5 889.3,565.9 889.3,655.7 889.8,585.5 889.8,657.1 891.3,599.4 891.3,642.9 891.8,600 891.8,644.1 892.3,596.6 892.3,668.5 892.8,601.8 892.8,644 893.3,582.6 893.3,649.5 893.8,603.1 893.8,642.6 894.8,595 894.8,639.6 895.3,585.2 895.3,638.2 895.8,578.6 895.8,650 897.3,588.4 897.3,647.3" fill="none" stroke="#8a8a8a" stroke-width="0.9" stroke-linejoin="bevel"/>
<polygon points="431.8,643.1 432.3,639.1 432.8,638.7 433.3,638.8 433.8,636.7 434.3,637.2 434.8,634.9 435.3,636 435.8,634.5 436.3,635.9 436.8,631.5 437.3,630.9 437.8,635.1 438.3,634.2 438.8,630.9 439.3,632.2 439.8,629.9 440.3,636.9 440.8,627.8 441.3,635.3 441.8,628.8 442.3,631.4 442.8,629.3 443.3,628.7 443.8,631.4 444.3,630.7 444.8,627.7 445.3,625.8 445.8,632.5 446.3,630.5 446.8,627.1 447.3,625.7 447.8,626.7 448.3,625.8 448.8,628 449.3,622.5 449.8,624.4 450.3,622.1 450.8,626.6 451.3,627.4 451.8,622.4 452.3,623.5 452.8,625.1 453.3,620.6 453.8,618.6 454.3,622.9 454.8,621.2 455.3,619.1 455.8,622.6 456.3,619.3 456.8,614 457.3,618.7 457.8,617.3 458.3,621.4 458.8,616.3 459.3,615.3 459.8,616.3 460.3,615.4 460.8,610.9 461.3,614 461.8,612.4 462.3,616 462.8,617.9 463.3,608.9 463.8,608.7 464.3,608.5 464.8,608.4 465.3,607.8 465.8,614.2 466.3,628.6 466.8,630.9 467.3,644.5 467.8,662.1 468.3,687.5 468.8,704.4 469.3,712.5 469.8,727.3 470.3,746.5 470.8,763.8 471.3,778.7 471.8,791.7 472.3,807.9 472.8,817.3 473.3,814.4 473.8,827.5 474.3,830.1 474.8,834.7 475.3,840.2 475.8,839.4 476.3,844.9 476.8,849.3 477.3,845.5 477.8,853 478.3,857.1 478.8,854.8 479.3,852.9 479.8,855.5 480.3,857.7 480.8,855.9 481.3,856.5 481.8,859.4 482.3,860.1 482.8,862.5 483.3,858.6 483.8,866.5 484.3,865.1 484.8,865.2 485.3,862 485.8,868.2 486.3,863.3 486.8,868.4 487.3,866.5 487.8,861.7 488.3,862.7 488.8,868.2 489.3,866 489.8,863.1 490.3,863.9 490.8,863.7 491.3,860.5 491.8,860.5 492.3,858.1 492.8,857.2 493.3,858 493.8,853.2 494.3,855.9 494.8,853 495.3,851.7 495.8,848 496.3,844.8 496.8,839.3 497.3,841.6 497.8,832.3 498.3,826.9 498.8,816.1 499.3,810.5 499.8,805.7 500.3,796.5 500.8,790.5 501.3,779.7 501.8,782.3 502.3,775.1 502.8,774.8 503.3,771.3 503.8,771 504.3,765.2 504.8,761.2 505.3,756.5 505.8,758.5 506.3,754.4 506.8,756.7 507.3,757 507.8,746.3 508.3,746.6 508.8,748.6 509.3,749 509.8,745.3 510.3,743.8 510.8,742.6 511.3,741.3 511.8,742.3 512.3,738.2 512.8,732.2 513.3,732.7 513.8,733 514.3,729.2 514.8,729.1 515.3,727.2 515.8,725.4 516.3,727.4 516.8,723.5 517.3,720.6 517.8,720.3 518.3,720.9 518.8,724.7 519.3,719.1 519.8,720.8 520.3,717.2 520.8,709.7 521.3,714.7 521.8,710.7 522.3,708.4 522.8,707.9 523.3,713.8 523.8,704.6 524.3,705.8 524.8,709.1 525.3,706.9 525.8,700.1 526.3,703 526.8,701 527.3,700.8 527.8,702.1 528.3,697.9 528.8,697.6 529.3,700.9 529.8,692 530.3,694.7 530.8,695.8 531.3,690.7 531.8,691.3 532.3,688.7 532.8,691.4 533.3,688.6 533.8,691.2 534.3,690.9 534.8,687.6 535.3,685.7 535.8,686.4 536.3,685.1 536.8,681.2 537.3,685.9 537.8,683 538.3,683.6 538.8,677.5 539.3,682.1 539.8,684.3 540.3,679.9 540.8,674.1 541.3,676.9 541.8,675.9 542.3,675.8 542.8,673.9 543.3,674.9 543.8,671.8 544.3,672.8 544.8,669.8 545.3,671 545.8,672.4 546.3,668.1 546.8,670.1 547.3,665.6 547.8,666.1 548.3,665.7 548.8,668.6 549.3,663 549.8,667.1 550.3,659.9 550.8,662.4 551.3,664.3 551.8,663.1 552.3,658.2 552.8,657 553.3,661.5 553.8,655.6 554.3,659.4 554.8,656 555.3,656.6 555.8,661.6 556.3,659.1 556.8,656.7 557.3,650.6 557.8,654.1 558.3,652.8 558.8,651.8 559.3,654.6 559.8,646.6 560.3,650.9 560.8,649.8 561.3,647 561.8,652.4 562.3,644.5 562.8,647 563.3,646.5 563.8,640.4 564.3,641.6 564.8,642.1 565.3,645.8 565.8,645.6 566.3,644.1 566.8,642.6 567.3,636.1 567.8,641.4 568.3,639 568.8,642.5 569.3,642.4 569.8,643.9 570.3,639.6 570.8,639.3 571.3,634.2 571.8,636.4 572.3,632.6 572.8,637.2 573.3,631.6 573.8,633.4 574.3,631.3 574.8,631.6 575.3,633.3 575.8,630.3 576.3,631.6 576.8,628.1 577.3,633.4 577.8,627.8 578.3,631.3 578.8,633.5 579.3,621.8 579.8,624.8 580.3,626.2 580.8,629 581.3,624.4 581.8,626 582.3,622.7 582.8,625.4 583.3,620.5 583.8,625 584.3,615.1 584.8,617.3 585.3,625.8 585.8,621.2 586.3,618.1 586.8,625.2 587.3,621.8 587.8,621.5 588.3,617.2 588.8,619.2 589.3,618.4 589.8,612.6 590.3,617.6 590.8,615.2 591.3,618.3 591.8,617.9 592.3,612.6 592.8,612.2 593.3,613.6 593.8,614.3 594.3,611.2 594.8,611.4 595.3,612.7 595.8,611.7 596.3,613.1 596.8,610.3 597.3,607.1 597.8,604.4 598.3,610.2 598.8,607 599.3,606.5 599.8,606.1 600.3,602.5 600.8,604.9 601.3,599 601.8,603.9 602.3,602.2 602.8,608.5 603.3,604.6 603.8,602.5 604.3,603 604.8,603.9 605.3,599.8 605.8,600.6 606.3,599.8 606.8,606.3 607.3,600 607.8,594.5 608.3,600.8 608.8,604.8 609.3,595.6 609.8,606 610.3,596.9 610.8,599 611.3,594.7 611.8,595 612.3,592.2 612.8,592.2 613.3,589.1 613.8,602.7 614.3,606.5 614.8,619.8 615.3,629.2 615.8,640.3 616.3,658.3 616.8,674.2 617.3,689.4 617.8,704 618.3,715.3 618.8,723.9 619.3,734.4 619.8,746.8 620.3,758.4 620.8,767.2 621.3,773.1 621.8,776 622.3,783.2 622.8,786.8 623.3,794.9 623.8,798.2 624.3,802.5 624.8,803.2 625.3,806.2 625.8,813.2 626.3,807.9 626.8,813.2 627.3,814.1 627.8,820.3 628.3,824.7 628.8,821.8 629.3,818 629.8,828.7 630.3,830 630.8,824.9 631.3,829.1 631.8,830.1 632.3,825.1 632.8,833.1 633.3,833.1 633.8,833.2 634.3,830.5 634.8,832 635.3,832.7 635.8,836.1 636.3,832.4 636.8,838 637.3,834.8 637.8,827.9 638.3,837 638.8,832.7 639.3,830.5 639.8,831.6 640.3,826.3 640.8,830.8 641.3,821.5 641.8,820.9 642.3,822.6 642.8,818.2 643.3,812 643.8,806.3 644.3,806.8 644.8,800.2 645.3,796.7 645.8,793.5 646.3,785.1 646.8,785.5 647.3,775.3 647.8,781.8 648.3,771.8 648.8,771.7 649.3,769.2 649.8,770.3 650.3,767.9 650.8,764.5 651.3,762.9 651.8,760.9 652.3,757.7 652.8,751.3 653.3,748.5 653.8,746.7 654.3,750.5 654.8,748.2 655.3,746.8 655.8,746.2 656.3,743.5 656.8,740.1 657.3,737.3 657.8,734.8 658.3,741.1 658.8,738.8 659.3,731.7 659.8,733.1 660.3,733.6 660.8,735.1 661.3,728.3 661.8,728.9 662.3,730 662.8,721.4 663.3,722.7 663.8,723.3 664.3,720.4 664.8,726.3 665.3,721.9 665.8,719 666.3,714.9 666.8,718.3 667.3,716.6 667.8,712.7 668.3,711.8 668.8,708.1 669.3,710.5 669.8,711.7 670.3,711 670.8,708.8 671.3,708.4 671.8,703.9 672.3,703.1 672.8,706.3 673.3,703.4 673.8,699.3 674.3,701.5 674.8,701.3 675.3,700.1 675.8,697.6 676.3,695.1 676.8,696.4 677.3,698.7 677.8,693.9 678.3,690.9 678.8,692.5 679.3,687.6 679.8,690.4 680.3,688.2 680.8,690.4 681.3,687.4 681.8,688.9 682.3,691.1 682.8,683.9 683.3,681.5 683.8,683.9 684.3,681.7 684.8,681.4 685.3,678.7 685.8,680.7 686.3,678.7 686.8,672.3 687.3,676.2 687.8,676.9 688.3,678.2 688.8,673 689.3,671.6 689.8,675.7 690.3,670.4 690.8,671.4 691.3,671.6 691.8,671.5 692.3,668.9 692.8,665.3 693.3,669.8 693.8,665.4 694.3,664.4 694.8,670 695.3,666.4 695.8,660.8 696.3,661.5 696.8,661.4 697.3,659.4 697.8,655.7 698.3,661.8 698.8,661 699.3,658.9 699.8,656.6 700.3,657.4 700.8,657.8 701.3,652.8 701.8,653.9 702.3,652.6 702.8,655 703.3,653.3 703.8,648.7 704.3,649.7 704.8,654.9 705.3,647.4 705.8,649.5 706.3,646.9 706.8,650.9 707.3,647 707.8,645.4 708.3,642.8 708.8,644.5 709.3,646.5 709.8,645.4 710.3,639.8 710.8,646.3 711.3,641.2 711.8,638.5 712.3,640.8 712.8,638.3 713.3,637.7 713.8,637 714.3,637.7 714.8,636 715.3,632.4 715.8,637.3 716.3,634.1 716.8,637.7 717.3,635.4 717.8,635 718.3,633.3 718.8,635.4 719.3,630.8 719.8,628.5 720.3,631.2 720.8,623 721.3,628.2 721.8,629.1 722.3,626.9 722.8,630.4 723.3,628.5 723.8,626.4 724.3,624.5 724.8,627.7 725.3,622.7 725.8,622.7 726.3,625 726.8,624 727.3,627 727.8,620.9 728.3,616.2 728.8,621.9 729.3,622.8 729.8,618.7 730.3,622.4 730.8,622.3 731.3,615.7 731.8,615.6 732.3,613.1 732.8,617 733.3,616.9 733.8,616 734.3,610.9 734.8,611.5 735.3,609.3 735.8,608.3 736.3,608.4 736.8,607.2 737.3,610.2 737.8,611.1 738.3,611 738.8,608.9 739.3,606.7 739.8,607.8 740.3,608.7 740.8,606 741.3,606.4 741.8,604.9 742.3,603.9 742.8,604.7 743.3,601.3 743.8,606.2 744.3,599.2 744.8,603.6 745.3,598.6 745.8,605.2 746.3,603 746.8,598.4 747.3,598.7 747.8,596.5 748.3,598.7 748.8,599.3 749.3,604.1 749.8,593.9 750.3,599.8 750.8,594.8 751.3,596.4 751.8,597.4 752.3,596 752.8,595.2 753.3,593.2 753.8,593.1 754.3,593 754.8,595.1 755.3,588 755.8,589.9 756.3,587.6 756.8,587.8 757.3,587.7 757.8,591.8 758.3,593.9 758.8,591.5 759.3,584.7 759.8,587.4 760.3,583.9 760.8,587.3 761.3,588.8 761.8,586.6 762.3,591.5 762.8,596.4 763.3,599.2 763.8,608.3 764.3,623.2 764.8,635.2 765.3,647.6 765.8,656.1 766.3,669.7 766.8,682.6 767.3,697.9 767.8,708.8 768.3,720 768.8,739.2 769.3,748.3 769.8,756.9 770.3,759.6 770.8,771.5 771.3,773.4 771.8,777.1 772.3,785.8 772.8,789.7 773.3,796.5 773.8,803.1 774.3,803.8 774.8,812.7 775.3,809.8 775.8,815.2 776.3,812.3 776.8,817.8 777.3,818.8 777.8,821.2 778.3,825.2 778.8,821.2 779.3,828.2 779.8,828 780.3,832.4 780.8,835.1 781.3,834.5 781.8,835.3 782.3,834.1 782.8,839.1 783.3,836.8 783.8,840.3 784.3,836.4 784.8,844.1 785.3,838.9 785.8,845 786.3,841.8 786.8,845 787.3,843.2 787.8,844.5 788.3,842.1 788.8,844.4 789.3,842.2 789.8,841.5 790.3,843.2 790.8,836.6 791.3,838.5 791.8,831 792.3,824.7 792.8,825 793.3,818.9 793.8,819.1 794.3,809.2 794.8,806.1 795.3,802 795.8,792.3 796.3,795.2 796.8,788.9 797.3,792.2 797.8,790.3 798.3,783.6 798.8,777.1 799.3,778.8 799.8,776.7 800.3,776 800.8,771.5 801.3,767.4 801.8,767.9 802.3,764 802.8,768.7 803.3,760.8 803.8,759.3 804.3,759.1 804.8,754.5 805.3,754.7 805.8,753.8 806.3,751.3 806.8,750.3 807.3,752.5 807.8,749 808.3,743.2 808.8,744 809.3,745.4 809.8,740.5 810.3,740.9 810.8,739.3 811.3,739.3 811.8,736.2 812.3,735 812.8,731.9 813.3,733.5 813.8,729.1 814.3,734.4 814.8,728.9 815.3,727.1 815.8,728.4 816.3,725 816.8,724.2 817.3,722.7 817.8,719.9 818.3,718.3 818.8,717.7 819.3,721 819.8,715.6 820.3,715 820.8,713.8 821.3,715.5 821.8,717.6 822.3,709.4 822.8,711.9 823.3,709.8 823.8,707.7 824.3,708.6 824.8,703.2 825.3,707.4 825.8,704.9 826.3,700.8 826.8,706.2 827.3,703.4 827.8,703.1 828.3,695.7 828.8,697.7 829.3,696.1 829.8,697.9 830.3,698.8 830.8,689.8 831.3,693.6 831.8,692.3 832.3,694.1 832.8,690.7 833.3,686.7 833.8,688.4 834.3,685.4 834.8,685.2 835.3,686.3 835.8,684.1 836.3,685.1 836.8,679.8 837.3,688.3 837.8,684.9 838.3,682.7 838.8,676.9 839.3,673.9 839.8,676.2 840.3,676.9 840.8,682.1 841.3,679 841.8,673.6 842.3,677.1 842.8,676.3 843.3,672.5 843.8,674.6 844.3,671.6 844.8,668.4 845.3,666.3 845.8,668.1 846.3,670 846.8,663.5 847.3,662.1 847.8,666.6 848.3,657.7 848.8,668.1 849.3,661.8 849.8,663.9 850.3,665.9 850.8,657 851.3,657.2 851.8,664.5 852.3,657.5 852.8,657.2 853.3,657.3 853.8,658.6 854.3,658.5 854.8,654.8 855.3,652.9 855.8,652.9 856.3,653 856.8,654.8 857.3,651.1 857.8,654.6 858.3,647.3 858.8,649.9 859.3,652.2 859.8,650.4 860.3,647.3 860.8,643.6 861.3,643.3 861.8,644 862.3,644.4 862.8,642.3 863.3,638.7 863.8,639.8 864.3,642.1 864.8,642.2 865.3,636.1 865.8,637.9 866.3,634 866.8,636 867.3,645.4 867.8,636.2 868.3,634.6 868.8,633.3 869.3,631.1 869.8,628.8 870.3,632.6 870.8,631.4 871.3,635 871.8,626.7 872.3,631.1 872.8,632.7 873.3,624 873.8,629.7 874.3,623.5 874.8,628.1 875.3,629.8 875.8,625.5 876.3,625.6 876.8,622.5 877.3,624.3 877.8,625.8 878.3,621.9 878.8,621.4 879.3,622 879.8,622.5 880.3,615.8 880.8,619.3 881.3,616.9 881.8,619.2 882.3,619.9 882.8,617.5 883.3,619.3 883.8,613 884.3,613.9 884.8,611.8 885.3,613.8 885.8,613.3 886.3,611.9 886.8,608.8 887.3,611 887.8,609.5 888.3,611.5 888.8,608.8 889.3,611.7 889.8,608.8 890.3,603.1 890.8,606.6 891.3,602.9 891.8,608.2 892.3,608.8 892.8,604.6 893.3,605.2 893.8,600 894.3,597.4 894.8,601 895.3,601.1 895.8,597.5 896.3,600.8 896.8,600.8 897.3,601 897.3,632.6 896.8,637.3 896.3,637.3 895.8,639.5 895.3,637.3 894.8,637.8 894.3,640.7 893.8,640.1 893.3,640.8 892.8,643.2 892.3,640.6 891.8,645.8 891.3,642.5 890.8,641.2 890.3,646.2 889.8,644.9 889.3,642.1 888.8,649.8 888.3,642.3 887.8,647 887.3,647 886.8,646.6 886.3,649.2 885.8,648.7 885.3,648.2 884.8,644.7 884.3,648.5 883.8,654.8 883.3,654.1 882.8,655.7 882.3,648.9 881.8,654.6 881.3,652.6 880.8,653.4 880.3,653.7 879.8,654.2 879.3,656.1 878.8,660.1 878.3,655 877.8,661.7 877.3,656.9 876.8,659.3 876.3,661.5 875.8,659.2 875.3,663.1 874.8,662.3 874.3,659.4 873.8,666.7 873.3,665 872.8,665.9 872.3,664.4 871.8,663.6 871.3,666 870.8,669.2 870.3,667.6 869.8,670.6 869.3,670.6 868.8,671.8 868.3,673.7 867.8,670.2 867.3,670.7 866.8,670.7 866.3,674.5 865.8,675.4 865.3,672.6 864.8,675.2 864.3,678.8 863.8,676.1 863.3,681.8 862.8,678.3 862.3,678.7 861.8,677.8 861.3,686.6 860.8,680.5 860.3,682.2 859.8,687.7 859.3,684.9 858.8,688.8 858.3,690.9 857.8,688.5 857.3,686.3 856.8,685.9 856.3,684.3 855.8,684.9 855.3,688.3 854.8,689.8 854.3,691.1 853.8,691.1 853.3,691 852.8,696.2 852.3,694.3 851.8,695.1 851.3,693 850.8,695.8 850.3,699.4 849.8,701.5 849.3,694.4 848.8,701.2 848.3,696.6 847.8,698.1 847.3,700.4 846.8,702.4 846.3,703.6 845.8,709.7 845.3,706.3 844.8,706.8 844.3,706.5 843.8,706.8 843.3,709.8 842.8,709 842.3,715.2 841.8,709.9 841.3,708 840.8,712.4 840.3,715.3 839.8,713.8 839.3,718 838.8,714.1 838.3,721.2 837.8,716.3 837.3,715.2 836.8,718.9 836.3,723.3 835.8,721.9 835.3,720.5 834.8,722.1 834.3,724.5 833.8,723.5 833.3,726.2 832.8,729.1 832.3,724.3 831.8,727.7 831.3,728.8 830.8,731.4 830.3,731.2 829.8,735.1 829.3,733.1 828.8,734.8 828.3,731.9 827.8,735.8 827.3,733.2 826.8,737.7 826.3,739.9 825.8,739.3 825.3,742.7 824.8,746.5 824.3,740.3 823.8,744 823.3,748.4 822.8,748.4 822.3,748.2 821.8,751.2 821.3,751.8 820.8,753.8 820.3,753.3 819.8,753 819.3,755.3 818.8,758.2 818.3,761.8 817.8,759.3 817.3,762.1 816.8,761 816.3,759.2 815.8,762.9 815.3,766.4 814.8,762.3 814.3,765.7 813.8,767.5 813.3,774.4 812.8,774.7 812.3,770 811.8,771 811.3,779 810.8,774.2 810.3,778.2 809.8,778.4 809.3,778.9 808.8,781.1 808.3,781.6 807.8,782 807.3,787.5 806.8,788.6 806.3,784.9 805.8,790.7 805.3,794.4 804.8,792.3 804.3,794.2 803.8,797.6 803.3,796.1 802.8,800.6 802.3,801.3 801.8,807.4 801.3,804.9 800.8,809.5 800.3,812.3 799.8,805.2 799.3,811.7 798.8,819.1 798.3,823.1 797.8,823.2 797.3,822 796.8,829.3 796.3,828.8 795.8,832.2 795.3,835.8 794.8,838.9 794.3,843.7 793.8,850.8 793.3,855.2 792.8,857.2 792.3,871.2 791.8,869.7 791.3,874.9 790.8,879.4 790.3,880 789.8,884.5 789.3,877.1 788.8,878.3 788.3,881.9 787.8,884.6 787.3,884.8 786.8,886 786.3,883.2 785.8,884.8 785.3,881.8 784.8,882.5 784.3,881 783.8,880.9 783.3,877.3 782.8,876.7 782.3,875.6 781.8,873.4 781.3,874.8 780.8,872.5 780.3,874.2 779.8,871.3 779.3,870.3 778.8,865.5 778.3,862.5 777.8,860.9 777.3,861 776.8,854.5 776.3,856.9 775.8,853.2 775.3,850.5 774.8,843.1 774.3,837.6 773.8,839.3 773.3,835.8 772.8,827.1 772.3,822.9 771.8,821.4 771.3,817.8 770.8,809.7 770.3,803.6 769.8,792.4 769.3,790.1 768.8,770.8 768.3,760.6 767.8,745.2 767.3,730.1 766.8,719.4 766.3,703.5 765.8,695.2 765.3,680 764.8,665.7 764.3,660.4 763.8,652.3 763.3,642 762.8,633.2 762.3,618.9 761.8,621.1 761.3,623 760.8,622.5 760.3,617.8 759.8,625 759.3,622.3 758.8,628.3 758.3,622.2 757.8,623 757.3,620.6 756.8,629 756.3,625 755.8,630.4 755.3,628.8 754.8,625.7 754.3,627.7 753.8,627.4 753.3,630.4 752.8,629.1 752.3,631.8 751.8,632.7 751.3,628.5 750.8,634.3 750.3,631.5 749.8,628.8 749.3,631.9 748.8,634.4 748.3,633.7 747.8,634 747.3,633 746.8,634.2 746.3,636.3 745.8,632.6 745.3,638.8 744.8,642.2 744.3,637.4 743.8,638.9 743.3,641.6 742.8,639.1 742.3,642.1 741.8,640.1 741.3,645.8 740.8,642.8 740.3,648.3 739.8,641.5 739.3,643.3 738.8,648.4 738.3,646.9 737.8,645.6 737.3,647.2 736.8,649.7 736.3,644.2 735.8,649.6 735.3,647.2 734.8,650.8 734.3,654 733.8,650 733.3,650 732.8,652 732.3,647.6 731.8,650.6 731.3,652.1 730.8,653 730.3,653.7 729.8,655.6 729.3,658.4 728.8,659 728.3,654.7 727.8,653.3 727.3,659.1 726.8,659.9 726.3,659.9 725.8,661.5 725.3,663.9 724.8,664 724.3,658.9 723.8,656.2 723.3,661.3 722.8,660.9 722.3,664.6 721.8,666.5 721.3,665 720.8,665.7 720.3,662.2 719.8,665.1 719.3,667.6 718.8,665.6 718.3,669.1 717.8,668.3 717.3,672.2 716.8,668.2 716.3,673.7 715.8,670.2 715.3,671.8 714.8,673.2 714.3,671.7 713.8,670.4 713.3,673.4 712.8,676.7 712.3,678.4 711.8,676.7 711.3,679.6 710.8,683.1 710.3,676.1 709.8,682.6 709.3,684.5 708.8,678.2 708.3,679.2 707.8,676.9 707.3,681.1 706.8,681.5 706.3,688.5 705.8,683.6 705.3,683.9 704.8,688 704.3,685.1 703.8,684.5 703.3,690.1 702.8,689.6 702.3,685.1 701.8,693.6 701.3,692.4 700.8,690.6 700.3,691.8 699.8,695.8 699.3,693.5 698.8,696.3 698.3,692.6 697.8,697 697.3,695.3 696.8,697.3 696.3,699.9 695.8,698.9 695.3,701.3 694.8,697.8 694.3,706.2 693.8,701.6 693.3,704.8 692.8,707.6 692.3,704.1 691.8,702.8 691.3,709.2 690.8,705.9 690.3,707.1 689.8,705.2 689.3,712.7 688.8,712.4 688.3,713.9 687.8,716.8 687.3,710.2 686.8,714.7 686.3,718 685.8,717.3 685.3,717.5 684.8,717.4 684.3,716.1 683.8,718 683.3,721 682.8,724.1 682.3,720 681.8,721.4 681.3,723.7 680.8,723.1 680.3,725.8 679.8,726.3 679.3,723.9 678.8,728.4 678.3,726 677.8,729.8 677.3,733.7 676.8,737.4 676.3,732.1 675.8,732.6 675.3,729.2 674.8,734.8 674.3,737.2 673.8,736.7 673.3,735.6 672.8,735.9 672.3,743.8 671.8,739.6 671.3,743.2 670.8,746.1 670.3,742 669.8,748.3 669.3,747 668.8,747.5 668.3,749.9 667.8,747.1 667.3,747.2 666.8,746.9 666.3,752.8 665.8,753.4 665.3,755.5 664.8,755.7 664.3,758.1 663.8,762.2 663.3,760.8 662.8,761.6 662.3,761.1 661.8,763.5 661.3,766.1 660.8,769.1 660.3,769.1 659.8,769.4 659.3,767 658.8,772.4 658.3,773.5 657.8,777.1 657.3,779.5 656.8,780.3 656.3,777.6 655.8,783.9 655.3,782.6 654.8,784.7 654.3,789.2 653.8,787.9 653.3,789.8 652.8,797.1 652.3,792.2 651.8,795.6 651.3,798.3 650.8,798.8 650.3,800.1 649.8,804.5 649.3,804.2 648.8,813.6 648.3,813.7 647.8,811.7 647.3,814 646.8,820.5 646.3,827.4 645.8,828.2 645.3,829 644.8,839.3 644.3,842.6 643.8,841.1 643.3,849.4 642.8,853.9 642.3,859.5 641.8,863.8 641.3,864.4 640.8,872.1 640.3,871.4 639.8,873 639.3,875.8 638.8,876.8 638.3,872.9 637.8,875.8 637.3,871.9 636.8,872.4 636.3,878.6 635.8,870.1 635.3,873.5 634.8,874 634.3,874.7 633.8,871.4 633.3,875.9 632.8,869.3 632.3,874 631.8,871.3 631.3,869.9 630.8,869.9 630.3,867.9 629.8,867.5 629.3,864.3 628.8,861.8 628.3,859 627.8,856.1 627.3,858.6 626.8,851.7 626.3,849.6 625.8,848.8 625.3,846 624.8,841.1 624.3,844.5 623.8,838.4 623.3,833.1 622.8,827.3 622.3,820.6 621.8,810.9 621.3,812.9 620.8,799.7 620.3,798.1 619.8,783 619.3,773 618.8,762.8 618.3,749.7 617.8,739.2 617.3,725.3 616.8,708.3 616.3,693.2 615.8,678.3 615.3,662.5 614.8,651.2 614.3,648.1 613.8,638.7 613.3,622.3 612.8,627.6 612.3,631.1 611.8,628.7 611.3,632.3 610.8,634.9 610.3,629.9 609.8,631.8 609.3,631.3 608.8,633.5 608.3,635.2 607.8,637.4 607.3,636.2 606.8,634.4 606.3,638.8 605.8,638 605.3,636.4 604.8,638.9 604.3,634.5 603.8,640 603.3,641.5 602.8,643.9 602.3,639 601.8,641.5 601.3,641.5 600.8,646.7 600.3,641.9 599.8,643.9 599.3,644.4 598.8,642 598.3,641.3 597.8,648 597.3,644.6 596.8,649.2 596.3,645.1 595.8,648.6 595.3,645.9 594.8,645.7 594.3,647 593.8,649.4 593.3,649.4 592.8,649 592.3,649.5 591.8,650.3 591.3,650.4 590.8,654 590.3,653.3 589.8,648.9 589.3,651.1 588.8,648.8 588.3,649.9 587.8,654.8 587.3,652.3 586.8,657.9 586.3,657.3 585.8,657.3 585.3,659.7 584.8,659.1 584.3,659.5 583.8,657.2 583.3,662.9 582.8,661.6 582.3,659 581.8,658.5 581.3,660.9 580.8,662.2 580.3,664.3 579.8,664 579.3,661.6 578.8,668.6 578.3,665.6 577.8,665.9 577.3,666 576.8,665.2 576.3,667 575.8,669.5 575.3,669 574.8,664.6 574.3,668.3 573.8,668.9 573.3,669.5 572.8,671.1 572.3,674 571.8,674.1 571.3,675.7 570.8,672.6 570.3,674.8 569.8,674.6 569.3,674.1 568.8,679.8 568.3,677.4 567.8,676.5 567.3,680.7 566.8,675.6 566.3,677.6 565.8,675.1 565.3,681.8 564.8,681.6 564.3,680.7 563.8,683.2 563.3,681.2 562.8,680 562.3,685.6 561.8,682.1 561.3,683.4 560.8,681.6 560.3,683.9 559.8,685.9 559.3,687.8 558.8,686.8 558.3,691.9 557.8,688.2 557.3,689 556.8,691.5 556.3,691.5 555.8,690.3 555.3,689.9 554.8,692.9 554.3,694.8 553.8,695.7 553.3,696 552.8,696.4 552.3,699 551.8,695.3 551.3,695.7 550.8,697.5 550.3,703.1 549.8,703 549.3,701.1 548.8,700.6 548.3,701.6 547.8,703.1 547.3,706.4 546.8,706.4 546.3,703.3 545.8,707 545.3,707.3 544.8,706.4 544.3,701.8 543.8,710.8 543.3,710.4 542.8,712.1 542.3,711 541.8,717.2 541.3,715.8 540.8,714.1 540.3,711.8 539.8,716.4 539.3,712.4 538.8,717.5 538.3,720.5 537.8,717.3 537.3,721.1 536.8,716.3 536.3,716.5 535.8,723 535.3,722.5 534.8,723.3 534.3,723.3 533.8,722.1 533.3,724.6 532.8,726.2 532.3,725.2 531.8,728.3 531.3,735.8 530.8,728.2 530.3,728.2 529.8,734.7 529.3,733.9 528.8,733.7 528.3,738.1 527.8,733.8 527.3,736.1 526.8,739.2 526.3,738.7 525.8,736.3 525.3,740.4 524.8,737.1 524.3,740 523.8,742.7 523.3,750.1 522.8,747.7 522.3,749 521.8,747.6 521.3,752.1 520.8,754.6 520.3,747.3 519.8,754.2 519.3,752.1 518.8,755.5 518.3,762.8 517.8,757.6 517.3,761 516.8,762.3 516.3,758.5 515.8,765.7 515.3,765.8 514.8,764.9 514.3,762.6 513.8,768.8 513.3,766.7 512.8,776.2 512.3,772.6 511.8,774.3 511.3,778 510.8,774.7 510.3,777.4 509.8,783 509.3,781.8 508.8,781.4 508.3,784 507.8,787.6 507.3,792.9 506.8,790.6 506.3,792.6 505.8,796.5 505.3,792.2 504.8,798.9 504.3,799.5 503.8,803.9 503.3,809 502.8,804.7 502.3,812.4 501.8,819 501.3,815.2 500.8,829 500.3,833.6 499.8,843.1 499.3,844.8 498.8,855.6 498.3,865.1 497.8,864.3 497.3,876.5 496.8,889.3 496.3,894.1 495.8,896.8 495.3,900.2 494.8,903.4 494.3,908.9 493.8,907.3 493.3,905.2 492.8,908.4 492.3,914.5 491.8,912.3 491.3,916 490.8,915.2 490.3,915.9 489.8,915.7 489.3,913.8 488.8,918.3 488.3,915.9 487.8,916.3 487.3,914.7 486.8,914.1 486.3,918.3 485.8,911.2 485.3,915 484.8,915.6 484.3,917.3 483.8,912.5 483.3,918.4 482.8,913.4 482.3,912.7 481.8,911.4 481.3,915.8 480.8,906.6 480.3,907.8 479.8,906.1 479.3,906.1 478.8,908.3 478.3,908 477.8,905.5 477.3,901.2 476.8,899.5 476.3,899.5 475.8,890.4 475.3,892.4 474.8,885.2 474.3,885.4 473.8,873.3 473.3,860.7 472.8,846.8 472.3,837.6 471.8,826.1 471.3,816.3 470.8,793.7 470.3,780.6 469.8,767.5 469.3,752 468.8,736.4 468.3,720.5 467.8,704.8 467.3,683.3 466.8,672.5 466.3,661.5 465.8,660.7 465.3,651.8 464.8,657.6 464.3,658.2 463.8,653.7 463.3,653.7 462.8,654.4 462.3,658.8 461.8,657.3 461.3,659.9 460.8,659.5 460.3,662.2 459.8,665.4 459.3,659.4 458.8,659.1 458.3,662.4 457.8,656.2 457.3,659 456.8,664.9 456.3,661.9 455.8,662.3 455.3,661.6 454.8,661.6 454.3,661.8 453.8,664.4 453.3,666 452.8,664.4 452.3,667.5 451.8,665.7 451.3,663.5 450.8,667 450.3,668.2 449.8,669.7 449.3,668 448.8,669.4 448.3,671.1 447.8,671.7 447.3,674.6 446.8,673.1 446.3,677.1 445.8,669.8 445.3,672.5 444.8,670.9 444.3,675.1 443.8,670.1 443.3,678.1 442.8,669.9 442.3,675.5 441.8,675.6 441.3,671.2 440.8,677.1 440.3,673.5 439.8,677.9 439.3,677.1 438.8,679.4 438.3,681.8 437.8,680.1 437.3,680.3 436.8,688 436.3,677.5 435.8,678.9 435.3,682.1 434.8,683.6 434.3,678.2 433.8,682.6 433.3,681.8 432.8,681.1 432.3,684.4 431.8,686.6" fill="#000"/>
<polyline points="431.8,636.6 431.8,683 432.3,634.7 432.3,688.4 432.8,637.7 432.8,683.5 433.3,630.3 433.3,689.1 433.8,634.8 433.8,686.8 434.3,630.6 434.3,681.7 434.8,632.4 434.8,687.4 435.3,622.2 435.3,681.8 435.8,617.9 435.8,682.4 436.3,633.4 436.3,680.4 436.8,630.7 436.8,682.9 437.3,624.2 437.3,687.2 437.8,633.1 437.8,679.4 438.3,632.4 438.3,678.7 438.8,620.8 438.8,683.2 439.3,629.6 439.3,680.5 439.8,631.6 439.8,677.4 440.3,627.7 440.3,678.2 440.8,629.6 440.8,679.6 441.3,625.6 441.3,676.1 441.8,627 441.8,676.3 442.3,627.8 442.3,675.7 442.8,625.6 442.8,675.4 443.3,612.9 443.3,676.3 443.8,627.2 443.8,685.5 444.3,623 444.3,676.6 444.8,628 444.8,679.7 445.3,624.9 445.3,676.6 445.8,625.3 445.8,671.9 446.3,626 446.3,677.8 446.8,621.4 446.8,676.3 447.3,621.4 447.3,678.1 447.8,616.4 447.8,676.1 448.3,620.6 448.3,672 448.8,621.7 448.8,681.3 449.3,623.9 449.3,675.7 449.8,619 449.8,668.6 450.3,616.3 450.3,670.6 450.8,622.4 450.8,678.4 451.3,620.4 451.3,673.1 451.8,616.9 451.8,669.1 452.3,618.5 452.3,678.9 452.8,618.5 452.8,667.1 453.3,614.1 453.3,669.6 453.8,602.1 453.8,667.2 454.3,619.5 454.3,670.8 454.8,619 454.8,670.5 455.3,617.2 455.3,665.7 455.8,618.3 455.8,682.5 456.3,613.6 456.3,665.9 456.8,609.1 456.8,662.2 457.3,606.5 457.3,664.9 457.8,610.2 457.8,666.2 458.3,616.4 458.3,667.5 458.8,610.8 458.8,670.1 459.3,606.8 459.3,663.1 459.8,604.5 459.8,665 460.3,613.4 460.3,663.5 460.8,609.1 460.8,658.2 461.3,608 461.3,661.5 461.8,612.8 461.8,658.9 462.3,602.4 462.3,658.9 462.8,611 462.8,661.1 463.3,606.8 463.3,658.2 463.8,605.9 463.8,657.2 464.3,596.6 464.3,656.2 464.8,604.2 464.8,654.8 465.3,608 465.3,655.2 465.8,609.7 465.8,664 466.3,621.5 466.3,662.2 466.8,628.9 466.8,680.1 467.3,647.6 467.3,685.1 467.8,662.1 467.8,710.1 468.3,683.6 468.3,723.1 468.8,700.1 468.8,741.9 469.3,711.5 469.3,752.8 469.8,727.5 469.8,767.2 470.3,745.7 470.3,785.8 470.8,754 470.8,803.5 471.3,772.7 471.3,812.5 471.8,789.3 471.8,828.2 472.3,799 472.3,842.9 472.8,805.3 472.8,857.6 473.3,813.3 473.3,872.3 473.8,821.1 473.8,879.8 474.3,827.6 474.3,900 474.8,824.1 474.8,892.3 475.3,831.3 475.3,900.1 475.8,841.1 475.8,895 476.3,841.9 476.3,903 476.8,845.9 476.8,900.5 477.3,833.4 477.3,903.8 477.8,841.1 477.8,911.2 478.3,846 478.3,904.1 478.8,840 478.8,907.3 479.3,855.2 479.3,908 479.8,854.5 479.8,909.8 480.3,856 480.3,911.7 480.8,856.3 480.8,911.5 481.3,859 481.3,911.4 481.8,859.4 481.8,914 482.3,856.8 482.3,917.9 482.8,860.7 482.8,922.3 483.3,861.1 483.3,915.8 483.8,861.6 483.8,920.4 484.3,857.3 484.3,918.5 484.8,853.6 484.8,919.6 485.3,859.5 485.3,915.5 485.8,860.2 485.8,916.2 486.3,860.5 486.3,917.6 486.8,854.3 486.8,923.4 487.3,855.7 487.3,921.2 487.8,857.3 487.8,915.8 488.3,862.1 488.3,920 488.8,860.2 488.8,919.5 489.3,862.6 489.3,924.2 489.8,862 489.8,921.1 490.3,855.4 490.3,917.4 490.8,853.8 490.8,917.6 491.3,861.3 491.3,925.6 491.8,858.5 491.8,913.3 492.3,854.3 492.3,917.2 492.8,855.7 492.8,913.9 493.3,854.9 493.3,909.5 493.8,852.7 493.8,911 494.3,852.7 494.3,908.3 494.8,843.9 494.8,910 495.3,844.3 495.3,905.8 495.8,839.7 495.8,902.7 496.3,833.4 496.3,895.5 496.8,831.9 496.8,892 497.3,831.8 497.3,876 497.8,831.3 497.8,875.2 498.3,823.8 498.3,861.4 498.8,814.9 498.8,858.4 499.3,806.9 499.3,851.3 499.8,800.9 499.8,845.8 500.3,791.8 500.3,838.2 500.8,783 500.8,825.5 501.3,776.8 501.3,833.4 501.8,778 501.8,820.7 502.3,768.3 502.3,814.6 502.8,761.2 502.8,811 503.3,769.5 503.3,825.2 503.8,767.5 503.8,814.9 504.3,765.2 504.3,802.5 504.8,762.7 504.8,805.8 505.3,756.4 505.3,798.5 505.8,757.2 505.8,798.3 506.3,752.8 506.3,797 506.8,748.4 506.8,797.9 507.3,752.5 507.3,790.2 507.8,746.7 507.8,799.3 508.3,748.5 508.3,790.5 508.8,742.6 508.8,784.9 509.3,743 509.3,785.3 509.8,736.8 509.8,784.9 510.3,738.5 510.3,783.3 510.8,734.7 510.8,781.1 511.3,727.5 511.3,777.5 511.8,738 511.8,778.5 512.3,734 512.3,776.7 512.8,734.3 512.8,776.7 513.3,722.3 513.3,771.9 513.8,723.5 513.8,776.5 514.3,726.8 514.3,772.9 514.8,728.8 514.8,776.4 515.3,726.6 515.3,773.4 515.8,725.2 515.8,777.5 516.3,724.4 516.3,762.7 516.8,720.3 516.8,764.2 517.3,720.3 517.3,760.7 517.8,718.2 517.8,762 518.3,717.7 518.3,760.2 518.8,714.7 518.8,761.8 519.3,714.6 519.3,764.1 519.8,714.9 519.8,756.7 520.3,703.9 520.3,753.4 520.8,712.3 520.8,755.2 521.3,710.3 521.3,749.6 521.8,710.4 521.8,754.4 522.3,709.6 522.3,757.4 522.8,698.9 522.8,755.2 523.3,704.2 523.3,752.1 523.8,706.2 523.8,744.9 524.3,707 524.3,744 524.8,695.6 524.8,747.8 525.3,698.7 525.3,747.8 525.8,700.8 525.8,741.1 526.3,698.4 526.3,742.7 526.8,700.8 526.8,740.2 527.3,699.4 527.3,742.7 527.8,696.9 527.8,736.7 528.3,692.7 528.3,756.1 528.8,694.5 528.8,736.5 529.3,695.9 529.3,737.7 529.8,694.3 529.8,733 530.3,688.5 530.3,738.6 530.8,693.3 530.8,733.2 531.3,688.7 531.3,732.5 531.8,683.6 531.8,738.2 532.3,685.8 532.3,735.2 532.8,689.4 532.8,731.8 533.3,689 533.3,726 533.8,685.4 533.8,744 534.3,677.4 534.3,724.7 534.8,682.5 534.8,725.2 535.3,680.8 535.3,725.4 535.8,676.5 535.8,721.9 536.3,682.6 536.3,729.9 536.8,680.4 536.8,722.8 537.3,679 537.3,720.1 537.8,682 537.8,724.3 538.3,678.2 538.3,718.7 538.8,676.6 538.8,722.1 539.3,674.2 539.3,716.6 539.8,678 539.8,715.3 540.3,672.7 540.3,714.9 540.8,675.6 540.8,719.4 541.3,668.6 541.3,713.6 541.8,674.1 541.8,721.4 542.3,674.4 542.3,721.5 542.8,672.2 542.8,718.6 543.3,669.4 543.3,710.4 543.8,670 543.8,710 544.3,671.4 544.3,712.4 544.8,669.8 544.8,710.5 545.3,665.5 545.3,709.6 545.8,664 545.8,706.8 546.3,665.5 546.3,711.4 546.8,662.3 546.8,704.6 547.3,667.1 547.3,705.1 547.8,658.7 547.8,707.4 548.3,661.6 548.3,709.4 548.8,665.4 548.8,707.8 549.3,658 549.3,701.7 549.8,663.1 549.8,706.1 550.3,656.6 550.3,703.4 550.8,658.7 550.8,704.1 551.3,659.4 551.3,699 551.8,653 551.8,699.3 552.3,657 552.3,701.9 552.8,656.3 552.8,705.8 553.3,656.9 553.3,697.2 553.8,653.9 553.8,694.8 554.3,649.1 554.3,697.9 554.8,649.9 554.8,697.3 555.3,656.1 555.3,694.5 555.8,650.7 555.8,697 556.3,651.5 556.3,694.7 556.8,645.3 556.8,700 557.3,648.6 557.3,697.2 557.8,652.3 557.8,694.7 558.3,641.3 558.3,690.8 558.8,647.2 558.8,689.3 559.3,640.7 559.3,694.7 559.8,645.5 559.8,694.8 560.3,648.2 560.3,686.3 560.8,643.5 560.8,692.9 561.3,639.7 561.3,685.4 561.8,643.3 561.8,684.2 562.3,634 562.3,683.9 562.8,645 562.8,688.6 563.3,640 563.3,685.6 563.8,644.4 563.8,683.5 564.3,635.4 564.3,687.2 564.8,642.9 564.8,686.1 565.3,641.5 565.3,686.5 565.8,637.2 565.8,684.4 566.3,631.6 566.3,682.1 566.8,634.6 566.8,688.1 567.3,635.6 567.3,677.8 567.8,640.6 567.8,679.6 568.3,634.3 568.3,680.4 568.8,637.9 568.8,675.5 569.3,637.4 569.3,675.1 569.8,628.6 569.8,677.3 570.3,627.8 570.3,679.8 570.8,635.5 570.8,687.3 571.3,630.3 571.3,673.6 571.8,635.8 571.8,673.7 572.3,631.5 572.3,675.2 572.8,629.6 572.8,677.4 573.3,633.7 573.3,675.4 573.8,622.8 573.8,671 574.3,628.3 574.3,670.9 574.8,629.3 574.8,669.6 575.3,630.1 575.3,670.3 575.8,626.3 575.8,667.7 576.3,629 576.3,668.2 576.8,620.5 576.8,678 577.3,625.3 577.3,668.1 577.8,621.6 577.8,672.7 578.3,618.6 578.3,664.9 578.8,618.5 578.8,665.9 579.3,625.9 579.3,670.8 579.8,626.2 579.8,665.5 580.3,625.9 580.3,663.4 580.8,617.1 580.8,682.5 581.3,623.1 581.3,672.1 581.8,618.4 581.8,664.7 582.3,624 582.3,662 582.8,623.8 582.8,663.2 583.3,615.6 583.3,667.3 583.8,606.9 583.8,661.9 584.3,616.9 584.3,673.2 584.8,613.5 584.8,660.3 585.3,614.8 585.3,659.1 585.8,620.6 585.8,665.1 586.3,619.6 586.3,662.8 586.8,617.4 586.8,660.5 587.3,615.2 587.3,661.3 587.8,605.7 587.8,658.7 588.3,612.8 588.3,659.5 588.8,614.7 588.8,657.2 589.3,610 589.3,656.7 589.8,603.8 589.8,652.7 590.3,609.7 590.3,656 590.8,605.5 590.8,667.6 591.3,613.6 591.3,658 591.8,609.2 591.8,654.9 592.3,611 592.3,651.5 592.8,612 592.8,649.6 593.3,611.5 593.3,652.5 593.8,611.5 593.8,652.4 594.3,604.8 594.3,650.4 594.8,610.6 594.8,662.1 595.3,599.2 595.3,649.7 595.8,600.3 595.8,649 596.3,605.7 596.3,657.9 596.8,603.8 596.8,652.3 597.3,603.2 597.3,649.3 597.8,598.3 597.8,645.3 598.3,607.5 598.3,653.1 598.8,604.4 598.8,649.8 599.3,598.5 599.3,654.7 599.8,602.7 599.8,648 600.3,605.7 600.3,642.5 600.8,603.8 600.8,642.2 601.3,603.6 601.3,645.8 601.8,604.2 601.8,645.9 602.3,599.3 602.3,644.2 602.8,590.9 602.8,644.7 603.3,602.9 603.3,643.4 603.8,589.3 603.8,644.6 604.3,592.3 604.3,642.2 604.8,600.1 604.8,644.5 605.3,597.4 605.3,644.7 605.8,597.7 605.8,639.2 606.3,592.3 606.3,647.7 606.8,594.6 606.8,638.9 607.3,589.4 607.3,637.2 607.8,590 607.8,636.1 608.3,596.8 608.3,639.7 608.8,597.2 608.8,637.5 609.3,593.1 609.3,634.9 609.8,587.2 609.8,642.8 610.3,594.7 610.3,635.5 610.8,589.8 610.8,639.9 611.3,588.8 611.3,632.7 611.8,593.9 611.8,638 612.3,593.1 612.3,631.1 612.8,593 612.8,634.7 613.3,592.2 613.3,632.6 613.8,596.5 613.8,646.1 614.3,604.9 614.3,655.6 614.8,613.5 614.8,660.6 615.3,624.6 615.3,676.7 615.8,636.5 615.8,682.8 616.3,653.5 616.3,705.2 616.8,673.2 616.8,711.4 617.3,689 617.3,728.5 617.8,699.4 617.8,741.9 618.3,712.2 618.3,758.9 618.8,723.4 618.8,763 619.3,733.7 619.3,780.7 619.8,745.1 619.8,789.7 620.3,756.8 620.3,800.2 620.8,759.5 620.8,804.1 621.3,764.9 621.3,812 621.8,774.3 621.8,815.2 622.3,778.8 622.3,824.5 622.8,781.7 622.8,833.2 623.3,785.7 623.3,832.7 623.8,789.3 623.8,838.6 624.3,800 624.3,841.9 624.8,793.4 624.8,847.7 625.3,799.4 625.3,849.7 625.8,803.6 625.8,849.6 626.3,808.8 626.3,855.7 626.8,804.1 626.8,859.6 627.3,799.4 627.3,859.1 627.8,811.9 627.8,863.7 628.3,818.8 628.3,864.4 628.8,818.7 628.8,864.9 629.3,822.4 629.3,876.4 629.8,827 629.8,868.4 630.3,826.9 630.3,871.9 630.8,828.9 630.8,871.9 631.3,827.2 631.3,878.6 631.8,827 631.8,875.4 632.3,829.5 632.3,872.3 632.8,830 632.8,879 633.3,811.3 633.3,872.5 633.8,823 633.8,874.3 634.3,829.6 634.3,881.8 634.8,829.5 634.8,880.8 635.3,833.2 635.3,876.1 635.8,834.2 635.8,875.1 636.3,829.8 636.3,875.4 636.8,825.6 636.8,888 637.3,831.8 637.3,874.4 637.8,827.5 637.8,881.3 638.3,832.2 638.3,879.6 638.8,831.8 638.8,872.9 639.3,820.2 639.3,881.4 639.8,825.5 639.8,872.7 640.3,822.6 640.3,873.2 640.8,828 640.8,870.6 641.3,817.5 641.3,871.8 641.8,821.6 641.8,865.2 642.3,813.5 642.3,859.8 642.8,814.3 642.8,855.9 643.3,811.9 643.3,857.8 643.8,808.5 643.8,850 644.3,801.7 644.3,847.7 644.8,791.5 644.8,839.8 645.3,793.2 645.3,845.9 645.8,789.1 645.8,828.7 646.3,781.3 646.3,824.7 646.8,778.8 646.8,821.7 647.3,780 647.3,826.8 647.8,776.1 647.8,822.9 648.3,774.8 648.3,822.7 648.8,762.6 648.8,811.4 649.3,765.4 649.3,807.6 649.8,765 649.8,804.9 650.3,762.9 650.3,803.5 650.8,751.2 650.8,811.7 651.3,758.4 651.3,807 651.8,758.6 651.8,799.9 652.3,753.3 652.3,797.4 652.8,751.1 652.8,798 653.3,745.2 653.3,793.2 653.8,749 653.8,792.4 654.3,730.9 654.3,789.1 654.8,742.7 654.8,792.1 655.3,743.8 655.3,784.1 655.8,744.7 655.8,788.5 656.3,740.5 656.3,782.2 656.8,740.5 656.8,781.1 657.3,731.5 657.3,779.5 657.8,736.3 657.8,776 658.3,736 658.3,775.9 658.8,732.7 658.8,784.1 659.3,730.7 659.3,783.3 659.8,731.8 659.8,773.4 660.3,726.7 660.3,773.2 660.8,727.3 660.8,771.3 661.3,728.1 661.3,767.6 661.8,726.5 661.8,765.6 662.3,724.2 662.3,767.8 662.8,720.9 662.8,762.7 663.3,721.7 663.3,764.1 663.8,718.7 663.8,763 664.3,713.2 664.3,758.9 664.8,702.6 664.8,766.7 665.3,717 665.3,759 665.8,710.3 665.8,758 666.3,711.9 666.3,760.1 666.8,705.3 666.8,753.7 667.3,708.4 667.3,758.8 667.8,709.6 667.8,751.4 668.3,709.1 668.3,753 668.8,710.4 668.8,747.9 669.3,704.2 669.3,746.7 669.8,709.4 669.8,746.8 670.3,704.8 670.3,747.9 670.8,706.9 670.8,743.5 671.3,703.9 671.3,755.4 671.8,692.6 671.8,747.8 672.3,699.3 672.3,747.6 672.8,694.9 672.8,742 673.3,698.6 673.3,741.9 673.8,695.9 673.8,737.4 674.3,698 674.3,742 674.8,698.9 674.8,741.9 675.3,697.7 675.3,735.9 675.8,688.3 675.8,738.6 676.3,691.1 676.3,740.8 676.8,690.2 676.8,743.6 677.3,688.6 677.3,733.6 677.8,690.3 677.8,738.4 678.3,689.5 678.3,728.9 678.8,690 678.8,734.1 679.3,689.4 679.3,734.4 679.8,681.5 679.8,727.2 680.3,687.7 680.3,726.3 680.8,687.1 680.8,725.9 681.3,681.1 681.3,723.1 681.8,685.6 681.8,723.1 682.3,683.8 682.3,725.5 682.8,672.3 682.8,727.6 683.3,682.8 683.3,720.5 683.8,674.6 683.8,719.3 684.3,674.7 684.3,727.5 684.8,680.4 684.8,719 685.3,673.3 685.3,730.1 685.8,678.8 685.8,716.3 686.3,675.4 686.3,720.2 686.8,671.2 686.8,714.2 687.3,676.8 687.3,715.7 687.8,670.6 687.8,721.9 688.3,673.9 688.3,724.9 688.8,673.1 688.8,713.6 689.3,667 689.3,710.4 689.8,671.3 689.8,714 690.3,669.3 690.3,720.9 690.8,666 690.8,709.9 691.3,666.6 691.3,713.6 691.8,667.8 691.8,713 692.3,667.8 692.3,705.1 692.8,666.8 692.8,710.3 693.3,660.6 693.3,705.1 693.8,661.8 693.8,710.1 694.3,661.2 694.3,704.7 694.8,662.5 694.8,703.6 695.3,659.1 695.3,707.5 695.8,662.3 695.8,704.8 696.3,660.4 696.3,702.4 696.8,660.6 696.8,699.8 697.3,657.7 697.3,701.2 697.8,660.1 697.8,700.8 698.3,656.2 698.3,697.3 698.8,654.8 698.8,700.2 699.3,651.4 699.3,697.2 699.8,648.3 699.8,705.8 700.3,656.6 700.3,707 700.8,655 700.8,694.1 701.3,650.1 701.3,691.9 701.8,652.4 701.8,690.7 702.3,653.5 702.3,691.7 702.8,652.7 702.8,690.5 703.3,646.6 703.3,697.6 703.8,647.6 703.8,691 704.3,648.3 704.3,692.9 704.8,644.7 704.8,693.1 705.3,637.8 705.3,702.5 705.8,639.8 705.8,687.5 706.3,644.2 706.3,691.5 706.8,644.9 706.8,690.7 707.3,644.7 707.3,685.9 707.8,646.2 707.8,689.9 708.3,644.8 708.3,687.6 708.8,642.1 708.8,682.2 709.3,642.2 709.3,686.4 709.8,635.2 709.8,686.9 710.3,636.3 710.3,681.7 710.8,640.4 710.8,684.9 711.3,626.2 711.3,677.9 711.8,636.4 711.8,677.7 712.3,639.6 712.3,678.8 712.8,631 712.8,676.2 713.3,635.4 713.3,680.5 713.8,626.3 713.8,680.9 714.3,632.2 714.3,677.3 714.8,633.9 714.8,673.8 715.3,630.4 715.3,678.2 715.8,635.7 715.8,674.4 716.3,631.3 716.3,680.3 716.8,630.1 716.8,673.9 717.3,628.8 717.3,672.2 717.8,624.3 717.8,671.8 718.3,632 718.3,679 718.8,631.7 718.8,673.5 719.3,630.4 719.3,669.7 719.8,622.8 719.8,669.5 720.3,629.1 720.3,671.2 720.8,629 720.8,681.4 721.3,627.1 721.3,669.7 721.8,622.2 721.8,670.1 722.3,626.8 722.3,667 722.8,626 722.8,664 723.3,620.6 723.3,664.7 723.8,625.2 723.8,674.7 724.3,622.7 724.3,663.6 724.8,624.6 724.8,662.8 725.3,616.8 725.3,660.6 725.8,623.2 725.8,663.3 726.3,614 726.3,661 726.8,615.8 726.8,669.6 727.3,619.7 727.3,666.2 727.8,613.4 727.8,661.9 728.3,620.6 728.3,658.7 728.8,599.9 728.8,662.3 729.3,618 729.3,656 729.8,618.1 729.8,659.7 730.3,616.3 730.3,657 730.8,609.7 730.8,655.6 731.3,615.6 731.3,656.9 731.8,607.1 731.8,659.9 732.3,613.8 732.3,653.5 732.8,613 732.8,656.7 733.3,612 733.3,652.8 733.8,607.6 733.8,653 734.3,613 734.3,657.1 734.8,609.8 734.8,650.3 735.3,611.1 735.3,649.3 735.8,607 735.8,648.9 736.3,605.2 736.3,655.8 736.8,609.5 736.8,655.3 737.3,609.8 737.3,647.4 737.8,609.5 737.8,651.9 738.3,606.3 738.3,649.2 738.8,601.2 738.8,650.7 739.3,607 739.3,646.6 739.8,602.5 739.8,645.2 740.3,607.2 740.3,645.9 740.8,600.8 740.8,643.5 741.3,597.1 741.3,643.7 741.8,600 741.8,642.8 742.3,600.5 742.3,641.6 742.8,592.1 742.8,641.5 743.3,602.3 743.3,641.3 743.8,603.3 743.8,639.6 744.3,599.8 744.3,642.2 744.8,600.7 744.8,639.4 745.3,598.1 745.3,644.4 745.8,599.9 745.8,644.4 746.3,598.3 746.3,643 746.8,596.7 746.8,643.4 747.3,594.1 747.3,637.2 747.8,598.9 747.8,636.9 748.3,594.2 748.3,635 748.8,590.4 748.8,635.4 749.3,594.6 749.3,638.7 749.8,593.5 749.8,637.3 750.3,584.6 750.3,634.2 750.8,590.6 750.8,638.3 751.3,593.3 751.3,635.1 751.8,589.7 751.8,636.6 752.3,581.9 752.3,632.9 752.8,588 752.8,632.8 753.3,591.5 753.3,633.6 753.8,592.3 753.8,635.2 754.3,575.4 754.3,636.9 754.8,586.7 754.8,628.2 755.3,589.3 755.3,633.6 755.8,585.3 755.8,630.3 756.3,588.2 756.3,627.9 756.8,587.9 756.8,628.8 757.3,584.1 757.3,627.9 757.8,580.8 757.8,628.3 758.3,587.9 758.3,626 758.8,577.6 758.8,627.7 759.3,580.9 759.3,626.5 759.8,581.8 759.8,626.8 760.3,581.8 760.3,628 760.8,573.5 760.8,625.8 761.3,585 761.3,625.7 761.8,577.8 761.8,622.4 762.3,580.8 762.3,628.4 762.8,593.6 762.8,635.3 763.3,602.1 763.3,642.1 763.8,609.7 763.8,649.2 764.3,619.1 764.3,663.3 764.8,623.4 764.8,673.2 765.3,638.7 765.3,691.8 765.8,652.1 765.8,696.9 766.3,657.1 766.3,706.4 766.8,671.8 766.8,734.1 767.3,691.5 767.3,731.8 767.8,707.3 767.8,747.8 768.3,721.9 768.3,766.8 768.8,735.6 768.8,777.5 769.3,741.5 769.3,788 769.8,754.9 769.8,798.3 770.3,757.8 770.3,805.9 770.8,770.7 770.8,816.4 771.3,775 771.3,825.9 771.8,776.3 771.8,823.2 772.3,779.3 772.3,829.9 772.8,787.5 772.8,833 773.3,793.5 773.3,837.2 773.8,796.2 773.8,840.3 774.3,801.2 774.3,851 774.8,806.8 774.8,849.6 775.3,806.3 775.3,852.6 775.8,800.9 775.8,857.4 776.3,807.3 776.3,857.4 776.8,812.5 776.8,857.9 777.3,814.4 777.3,860.9 777.8,816.6 777.8,862.3 778.3,811.7 778.3,867.2 778.8,823.4 778.8,867.6 779.3,826.8 779.3,868 779.8,822.9 779.8,876.8 780.3,830.6 780.3,873.3 780.8,826.1 780.8,877.7 781.3,834.8 781.3,879.9 781.8,824.5 781.8,882.7 782.3,833.7 782.3,882.2 782.8,829 782.8,879.4 783.3,834.9 783.3,881.1 783.8,837.4 783.8,882.2 784.3,836.2 784.3,895 784.8,831.6 784.8,880.9 785.3,841 785.3,883.5 785.8,838.6 785.8,887.2 786.3,827.9 786.3,889.6 786.8,841.9 786.8,884.6 787.3,841.7 787.3,889.9 787.8,839.3 787.8,888.3 788.3,833.8 788.3,888.4 788.8,837.9 788.8,887 789.3,833.6 789.3,881.9 789.8,835.8 789.8,891.7 790.3,835.9 790.3,882.9 790.8,833.7 790.8,881.3 791.3,834 791.3,877 791.8,821.3 791.8,875 792.3,828.2 792.3,874.8 792.8,819.1 792.8,863.7 793.3,809.9 793.3,857.9 793.8,814.7 793.8,862.2 794.3,805.5 794.3,853.3 794.8,799.9 794.8,851.5 795.3,801.3 795.3,838.3 795.8,794.7 795.8,836.6 796.3,790.3 796.3,832.2 796.8,785.3 796.8,830.5 797.3,788.7 797.3,830.2 797.8,785.3 797.8,826.1 798.3,781.1 798.3,823.1 798.8,778 798.8,822.3 799.3,776.3 799.3,817.8 799.8,772.4 799.8,818.6 800.3,772.9 800.3,813.6 800.8,768.2 800.8,815.8 801.3,767.8 801.3,808.5 801.8,762.2 801.8,815.6 802.3,765.8 802.3,804 802.8,763.2 802.8,807.9 803.3,760.7 803.3,798.7 803.8,755.2 803.8,808.2 804.3,755.2 804.3,800.7 804.8,755.1 804.8,793.8 805.3,753 805.3,800.1 805.8,752.9 805.8,792.7 806.3,749.8 806.3,788.6 806.8,747.5 806.8,795.9 807.3,728 807.3,792.9 807.8,744.7 807.8,792.5 808.3,746.2 808.3,784.2 808.8,737.2 808.8,787.6 809.3,735.3 809.3,783 809.8,740.4 809.8,778.8 810.3,736.1 810.3,783.9 810.8,731.4 810.8,775.6 811.3,733.5 811.3,779.9 811.8,723.4 811.8,774.9 812.3,734.9 812.3,774.2 812.8,731.4 812.8,771.6 813.3,728.2 813.3,771.5 813.8,728.4 813.8,772.1 814.3,714.6 814.3,769.4 814.8,720.1 814.8,769.4 815.3,725.2 815.3,768.3 815.8,721.1 815.8,766.4 816.3,724.3 816.3,762.4 816.8,722.1 816.8,760.7 817.3,720.4 817.3,759.8 817.8,709.7 817.8,761.7 818.3,706.8 818.3,766.3 818.8,713.6 818.8,755.7 819.3,714.1 819.3,756.6 819.8,713.3 819.8,756.5 820.3,713.6 820.3,762.1 820.8,711.8 820.8,757.9 821.3,706.1 821.3,751.2 821.8,710.3 821.8,750.4 822.3,709.1 822.3,751.2 822.8,709.7 822.8,749.5 823.3,702.4 823.3,749.9 823.8,706.6 823.8,748.4 824.3,703.1 824.3,751.7 824.8,704.4 824.8,746.3 825.3,700.7 825.3,745.2 825.8,701.6 825.8,741.1 826.3,700.8 826.3,739.4 826.8,694.9 826.8,738.9 827.3,689.8 827.3,745.4 827.8,696.6 827.8,737.2 828.3,696.4 828.3,742.2 828.8,697.2 828.8,735 829.3,681.3 829.3,740.1 829.8,694.1 829.8,739.1 830.3,693.2 830.3,735.8 830.8,693.8 830.8,734.3 831.3,690.6 831.3,745.2 831.8,692.4 831.8,732.7 832.3,687.8 832.3,731.1 832.8,690.3 832.8,729 833.3,685.1 833.3,728.1 833.8,685.3 833.8,725.4 834.3,687.4 834.3,741.4 834.8,685.5 834.8,724.8 835.3,680.5 835.3,726.1 835.8,683.9 835.8,722.2 836.3,682.4 836.3,728.6 836.8,678.8 836.8,736.1 837.3,671.6 837.3,720.5 837.8,675.5 837.8,718.8 838.3,679.5 838.3,718.1 838.8,677.1 838.8,722.2 839.3,678.2 839.3,718.2 839.8,674.4 839.8,719.3 840.3,673.9 840.3,716.1 840.8,670.8 840.8,716.3 841.3,670.5 841.3,719.8 841.8,663.6 841.8,719.5 842.3,667.2 842.3,710.9 842.8,669 842.8,709.5 843.3,669.1 843.3,708.8 843.8,669.8 843.8,713.5 844.3,650.1 844.3,707 844.8,666.6 844.8,706.5 845.3,664.6 845.3,713 845.8,661.8 845.8,706.8 846.3,664.6 846.3,709.8 846.8,663.1 846.8,704.3 847.3,659.8 847.3,703.9 847.8,661.6 847.8,703.2 848.3,663.5 848.3,702.6 848.8,660.2 848.8,709.7 849.3,661.2 849.3,706.6 849.8,657.3 849.8,699.1 850.3,660.2 850.3,712 850.8,660.2 850.8,701.4 851.3,657 851.3,695.8 851.8,658.4 851.8,698.2 852.3,651.9 852.3,700 852.8,655.6 852.8,694.1 853.3,653.7 853.3,700.2 853.8,654.4 853.8,694.3 854.3,652.7 854.3,699.8 854.8,654.4 854.8,694.3 855.3,645.4 855.3,692.4 855.8,652.5 855.8,692.4 856.3,647.8 856.3,696.5 856.8,644.9 856.8,690.1 857.3,645.6 857.3,692.2 857.8,648.2 857.8,689.5 858.3,640.7 858.3,686.2 858.8,647.1 858.8,687.2 859.3,645.3 859.3,684.8 859.8,646.6 859.8,687.8 860.3,637.9 860.3,689.5 860.8,635.8 860.8,689.3 861.3,639.5 861.3,685.2 861.8,637.7 861.8,689.5 862.3,638.3 862.3,681.3 862.8,642.3 862.8,688.5 863.3,636.9 863.3,682 863.8,637.8 863.8,686.6 864.3,636.7 864.3,680.5 864.8,634 864.8,685.8 865.3,635.5 865.3,680.1 865.8,631.8 865.8,676.9 866.3,633.7 866.3,674.8 866.8,629.6 866.8,679.2 867.3,635 867.3,676.4 867.8,632.9 867.8,674.7 868.3,632.7 868.3,678.1 868.8,631.7 868.8,671.2 869.3,634 869.3,671.8 869.8,632 869.8,673.8 870.3,625.1 870.3,669.5 870.8,625.4 870.8,675.3 871.3,627.9 871.3,670.9 871.8,628.5 871.8,671.5 872.3,629.7 872.3,669.8 872.8,626.2 872.8,672.2 873.3,624.7 873.3,668.5 873.8,627.7 873.8,671.3 874.3,626.2 874.3,666.1 874.8,623 874.8,665.1 875.3,625.9 875.3,664.5 875.8,624.4 875.8,662.5 876.3,622.8 876.3,662.8 876.8,623.4 876.8,664 877.3,618.8 877.3,666.6 877.8,621 877.8,662 878.3,620 878.3,670.3 878.8,620.1 878.8,657.8 879.3,615.9 879.3,657.4 879.8,609.5 879.8,659.8 880.3,616.6 880.3,660 880.8,610.6 880.8,655.9 881.3,612.4 881.3,655.4 881.8,610 881.8,657.2 882.3,606.5 882.3,659.9 882.8,615.8 882.8,670.7 883.3,613.2 883.3,652.9 883.8,611.2 883.8,653.9 884.3,613.1 884.3,654.9 884.8,609 884.8,652.1 885.3,609 885.3,652.3 885.8,607.8 885.8,650 886.3,606.4 886.3,648.7 886.8,611.6 886.8,651.2 887.3,605.5 887.3,648.9 887.8,609.8 887.8,656 888.3,608.6 888.3,651.1 888.8,605.7 888.8,646.4 889.3,607.3 889.3,648.2 889.8,603.1 889.8,652.8 890.3,605.8 890.3,646.3 890.8,602.8 890.8,645.5 891.3,604.8 891.3,653.4 891.8,602.4 891.8,644.9 892.3,600.7 892.3,643.6 892.8,601.6 892.8,646.2 893.3,596.6 893.3,642.6 893.8,602.8 893.8,647.2 894.3,601.1 894.3,640 894.8,597.1 894.8,640.4 895.3,599.2 895.3,644.5 895.8,595.1 895.8,643.2 896.3,596.4 896.3,636.7 896.8,596.5 896.8,643.8 897.3,597.9 897.3,654.2" fill="none" stroke="#000" stroke-width="1" stroke-linejoin="bevel"/>
<polyline points="431.6,620 440,616.3 450,611.7 460,607.3 465.5,605 466.3,625 467.1,700 467.9,765 468.8,792 470.2,802 472,806 496.3,837 498.3,783.2 500.2,772.6 502.2,765.4 504.2,759.8 506.2,755.2 508.1,751.3 510.1,747.8 512.1,744.6 514,741.7 516,739.1 518,736.6 519.9,734.3 521.9,732.2 523.9,730.1 525.9,728.2 527.8,726.4 529.8,724.6 531.8,722.9 533.7,721.3 535.7,719.8 537.7,718.3 539.6,716.8 541.6,715.4 543.6,714.1 545.5,712.8 547.5,711.5 549.5,710.2 551.5,709 553.4,707.9 555.4,706.7 557.4,705.6 559.3,704.5 561.3,703.5 563.3,702.4 565.2,701.4 567.2,700.4 569.2,699.4 571.2,698.5 573.1,697.5 575.1,696.6 577.1,695.7 579,694.8 581,693.9 583,693.1 585,692.2 586.9,691.4 588.9,690.6 590.9,689.8 592.8,689 594.8,688.2 596.8,687.5 598.7,686.7 600.7,686 602.7,685.2 604.6,684.5 606.6,683.8 608.6,683.1 610.6,682.4 612.5,681.7 614.5,681 615.3,710 616.1,790 617,835 618.3,850 620.2,856 642.4,884.7 644.4,842.6 646.4,832.8 648.4,826.1 650.4,820.8 652.4,816.4 654.4,812.6 656.4,809.2 658.4,806.1 660.4,803.3 662.4,800.6 664.4,798.2 666.4,795.9 668.4,793.8 670.4,791.7 672.4,789.8 674.4,787.9 676.4,786.1 678.4,784.4 680.4,782.8 682.4,781.2 684.4,779.7 686.4,778.2 688.4,776.8 690.4,775.4 692.4,774 694.4,772.7 696.4,771.5 698.4,770.2 700.4,769 702.4,767.8 704.4,766.7 706.4,765.5 708.4,764.4 710.4,763.3 712.4,762.3 714.4,761.2 716.4,760.2 718.4,759.2 720.4,758.2 722.4,757.3 724.4,756.3 726.4,755.4 728.4,754.5 730.4,753.6 732.4,752.7 734.4,751.8 736.4,751 738.4,750.1 740.4,749.3 742.4,748.5 744.4,747.6 746.4,746.8 748.4,746.1 750.4,745.3 752.4,744.5 754.4,743.7 756.4,743 758.4,742.3 760.4,741.5 762.4,740.8 763.2,770 764,840 764.9,885 766.2,900 768.3,907 771.5,912 790.6,936.2 792.4,896.8 794.2,887.7 796,881.4 797.7,876.5 799.5,872.4 801.3,868.8 803.1,865.6 804.9,862.7 806.6,860.1 808.4,857.6 810.2,855.3 812,853.2 813.8,851.2 815.6,849.3 817.4,847.5 819.1,845.7 820.9,844.1 822.7,842.5 824.5,840.9 826.3,839.5 828.1,838 829.8,836.7 831.6,835.3 833.4,834 835.2,832.8 837,831.5 838.8,830.4 840.5,829.2 842.3,828.1 844.1,827 845.9,825.9 847.7,824.8 849.5,823.8 851.2,822.8 853,821.8 854.8,820.8 856.6,819.9 858.4,818.9 860.1,818 861.9,817.1 863.7,816.2 865.5,815.3 867.3,814.5 869.1,813.7 870.9,812.8 872.6,812 874.4,811.2 876.2,810.4 878,809.6 879.8,808.9 881.6,808.1 883.3,807.4 885.1,806.6 886.9,805.9 888.7,805.2 890.5,804.5 892.2,803.8 894,803.1 895.8,802.4 897.6,801.7" fill="none" stroke="#2f7fc4" stroke-width="2.6" stroke-linejoin="round"/>
<text x="284.3" y="460.5" font-size="25.5" textLength="99.5" lengthAdjust="spacingAndGlyphs">Time (h)</text>
<text x="22" y="314.5" font-size="23" textLength="211" lengthAdjust="spacingAndGlyphs" transform="rotate(-90 22 314.5)">Potential V vs Li/Li<tspan font-size="15" dy="-9">+</tspan></text>
<text x="651.5" y="361.5" font-size="23" textLength="291" lengthAdjust="spacingAndGlyphs" transform="rotate(-90 651.5 361.5)">Current density (µA/cm<tspan font-size="15" dy="-9">2</tspan><tspan dy="9">)</tspan></text>
<line x1="377" y1="342.5" x2="405" y2="342.5" stroke="#2f7fc4" stroke-width="2.4"/>
<line x1="377" y1="374.4" x2="405" y2="374.4" stroke="#e4505a" stroke-width="2.4"/>
<text x="407" y="351" font-size="24" textLength="97.5" lengthAdjust="spacingAndGlyphs">Potential</text>
<text x="408" y="382" font-size="24" textLength="164" lengthAdjust="spacingAndGlyphs">Current density</text>
<line x1="134.4" y1="121" x2="197.7" y2="178.8" stroke="#000" stroke-width="3.3"/>
<polygon points="204.7,185.2 192.2,181.9 200.3,173" fill="#000"/>
<line x1="432.9" y1="306" x2="504.5" y2="237.3" stroke="#000" stroke-width="3.3"/>
<polygon points="511.4,230.7 507.3,243 498.9,234.3" fill="#000"/>
<text x="150.3" y="106.3" font-size="23.5" textLength="97.5" lengthAdjust="spacingAndGlyphs" transform="rotate(43.6 150.3 106.3)">Lithiation</text>
<text x="467.5" y="315" font-size="23.5" textLength="123" lengthAdjust="spacingAndGlyphs" transform="rotate(-43.8 467.5 315)">Delithiation</text>
<text x="312.8" y="508.5" font-size="34" textLength="37.5" lengthAdjust="spacingAndGlyphs" class="serif">(a)</text>
<text x="703" y="319.5" font-size="23" textLength="246.5" lengthAdjust="spacingAndGlyphs" transform="rotate(-90 703 319.5)">Biaxial film stress (GPa)</text>
<text x="971" y="452" font-size="22" textLength="97" lengthAdjust="spacingAndGlyphs">X in Li<tspan font-size="15" dy="4.5">x</tspan><tspan dy="-4.5">Ge</tspan></text>
<text x="978" y="508.5" font-size="34" textLength="40" lengthAdjust="spacingAndGlyphs" class="serif">(b)</text>
<text x="618.6" y="1032.5" font-size="24.5" textLength="93" lengthAdjust="spacingAndGlyphs">Time (h)</text>
<text x="338" y="884.7" font-size="23" textLength="252" lengthAdjust="spacingAndGlyphs" transform="rotate(-90 338 884.7)">Biaxial film stress (GPa)</text>
<text x="998" y="865.8" font-size="23" textLength="210.4" lengthAdjust="spacingAndGlyphs" transform="rotate(-90 998 865.8)">Potential V vs Li/Li<tspan font-size="15" dy="-9">+</tspan></text>
<line x1="645.3" y1="900" x2="674.1" y2="900" stroke="#8c8c8c" stroke-width="1.6"/>
<line x1="645.3" y1="940.3" x2="674.1" y2="940.3" stroke="#2f7fc4" stroke-width="2.6"/>
<text x="677" y="908.2" font-size="24.5" textLength="67" lengthAdjust="spacingAndGlyphs">Stress</text>
<text x="676.5" y="948.2" font-size="24.5" textLength="101.5" lengthAdjust="spacingAndGlyphs">Potential</text>
<text x="642.5" y="1075" font-size="34" textLength="39" lengthAdjust="spacingAndGlyphs" class="serif">(c)</text>
</svg></body></html>
